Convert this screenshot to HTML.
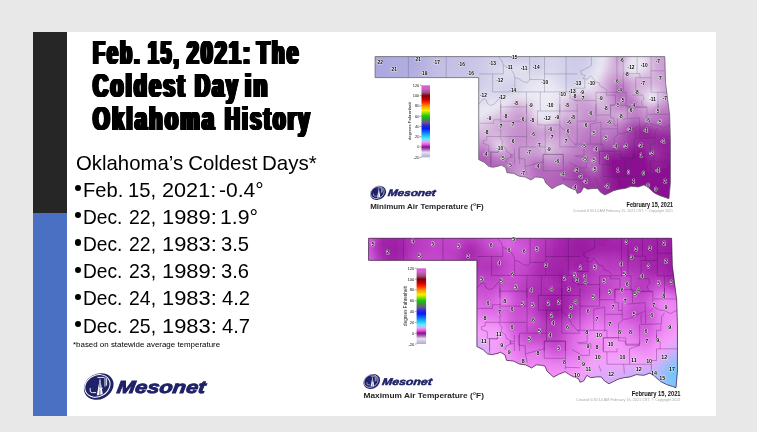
<!DOCTYPE html>
<html><head><meta charset="utf-8">
<style>
html,body{margin:0;padding:0;}
body{width:757px;height:432px;background:#e8e8e8;overflow:hidden;position:relative;font-family:"Liberation Sans",sans-serif;}
#slide{position:absolute;left:33px;top:32px;width:683px;height:384px;background:#fff;}
#bar1{position:absolute;left:33px;top:32px;width:34px;height:181px;background:#262626;}
#bar2{position:absolute;left:33px;top:213px;width:34px;height:203px;background:#4a70c4;}
.t{position:absolute;white-space:nowrap;transform-origin:0 0;line-height:1;color:#000;}
.title{font-weight:bold;font-size:33.4px;
 text-shadow:0.7px 0 0 #000,-0.7px 0 0 #000,1.4px 0 0 #000,-1.4px 0 0 #000,2.1px 0 0 #000,-2.1px 0 0 #000,2.75px 0 0 #000,-2.75px 0 0 #000,0 0.35px 0 #000,0 -0.35px 0 #000;letter-spacing:3.8px}
.body{font-size:20.4px;}
.fn{font-size:7.6px;}
#maps text{font-family:"Liberation Sans",sans-serif;}
.lb text{font-weight:bold;text-anchor:middle;fill:#000;stroke:#fff;stroke-width:0.7px;paint-order:stroke;stroke-linejoin:round;}
#misc text{font-family:"Liberation Sans",sans-serif;}

.bul{position:absolute;left:74.9px;width:6.2px;height:6.2px;border-radius:50%;background:#000}
</style></head><body>
<div id="slide"></div><div id="bar1"></div><div id="bar2"></div>
<div id="wrap" style="position:absolute;left:0;top:0;width:757px;height:432px;opacity:0.999">
<div class="t title" style="left:93.18px;top:36.20px;transform:scaleX(0.5817)">Feb.</div>
<div class="t title" style="left:147.87px;top:36.20px;transform:scaleX(0.5696)">15,</div>
<div class="t title" style="left:187.05px;top:36.20px;transform:scaleX(0.6265)">2021:</div>
<div class="t title" style="left:257.23px;top:36.20px;transform:scaleX(0.6169)">The</div>
<div class="t title" style="left:93.13px;top:68.90px;transform:scaleX(0.6295)">Coldest</div>
<div class="t title" style="left:194.62px;top:68.90px;transform:scaleX(0.6181)">Day</div>
<div class="t title" style="left:245.00px;top:68.90px;transform:scaleX(0.6647)">in</div>
<div class="t title" style="left:93.14px;top:101.60px;transform:scaleX(0.6432)">Oklahoma</div>
<div class="t title" style="left:225.21px;top:101.60px;transform:scaleX(0.6128)">History</div>
<div class="t body" style="left:75.90px;top:152.80px;transform:scaleX(0.9981)">Oklahoma’s</div>
<div class="t body" style="left:188.20px;top:152.80px;transform:scaleX(1.0000)">Coldest</div>
<div class="t body" style="left:261.99px;top:152.80px;transform:scaleX(1.0058)">Days*</div>
<div class="t body" style="left:82.53px;top:180.00px;transform:scaleX(0.9865)">Feb.</div>
<div class="t body" style="left:128.22px;top:180.00px;transform:scaleX(0.9920)">15,</div>
<div class="t body" style="left:161.94px;top:180.00px;transform:scaleX(1.0625)">2021:</div>
<div class="t body" style="left:218.97px;top:180.00px;transform:scaleX(1.0317)">-0.4°</div>
<div class="t body" style="left:82.62px;top:207.10px;transform:scaleX(0.9395)">Dec.</div>
<div class="t body" style="left:129.25px;top:207.10px;transform:scaleX(0.9538)">22,</div>
<div class="t body" style="left:162.15px;top:207.10px;transform:scaleX(1.0745)">1989:</div>
<div class="t body" style="left:220.32px;top:207.10px;transform:scaleX(1.0424)">1.9°</div>
<div class="t body" style="left:82.62px;top:234.20px;transform:scaleX(0.9395)">Dec.</div>
<div class="t body" style="left:129.25px;top:234.20px;transform:scaleX(0.9538)">22,</div>
<div class="t body" style="left:162.15px;top:234.20px;transform:scaleX(1.0745)">1983:</div>
<div class="t body" style="left:221.41px;top:234.20px;transform:scaleX(0.9889)">3.5</div>
<div class="t body" style="left:82.62px;top:261.30px;transform:scaleX(0.9395)">Dec.</div>
<div class="t body" style="left:129.25px;top:261.30px;transform:scaleX(0.9538)">23,</div>
<div class="t body" style="left:162.15px;top:261.30px;transform:scaleX(1.0745)">1989:</div>
<div class="t body" style="left:221.41px;top:261.30px;transform:scaleX(0.9889)">3.6</div>
<div class="t body" style="left:82.62px;top:288.40px;transform:scaleX(0.9395)">Dec.</div>
<div class="t body" style="left:129.25px;top:288.40px;transform:scaleX(0.9538)">24,</div>
<div class="t body" style="left:162.15px;top:288.40px;transform:scaleX(1.0745)">1983:</div>
<div class="t body" style="left:222.40px;top:288.40px;transform:scaleX(0.9889)">4.2</div>
<div class="t body" style="left:82.62px;top:315.50px;transform:scaleX(0.9395)">Dec.</div>
<div class="t body" style="left:129.25px;top:315.50px;transform:scaleX(0.9538)">25,</div>
<div class="t body" style="left:162.15px;top:315.50px;transform:scaleX(1.0745)">1983:</div>
<div class="t body" style="left:222.40px;top:315.50px;transform:scaleX(0.9889)">4.7</div>
<div class="t fn" style="left:72.96px;top:340.80px;transform:scaleX(1.0432)">*based on statewide average temperature</div>
<div class="bul" style="top:185.2px"></div><div class="bul" style="top:212.3px"></div><div class="bul" style="top:239.4px"></div><div class="bul" style="top:266.5px"></div><div class="bul" style="top:293.6px"></div><div class="bul" style="top:320.7px"></div>
<svg id="maps" width="757" height="432" viewBox="0 0 757 432" style="position:absolute;left:0;top:0"><defs><clipPath id="ok"><path d="M375.1,56.6 L664.8,56.6 L665.5,82.7 L669.7,115.3 L670.4,140.0 L670.4,183.0 L669.0,198.7 L665.9,197.7 L660.1,195.8 L654.3,192.9 L648.5,187.8 L644.1,184.9 L638.3,187.0 L631.0,186.3 L625.2,188.5 L619.4,189.2 L613.6,190.7 L609.2,192.9 L604.9,195.0 L600.5,192.2 L597.6,188.5 L593.3,188.5 L587.4,189.2 L583.8,187.0 L580.9,192.2 L577.3,193.6 L575.8,190.0 L571.7,188.7 L567.4,186.5 L563.0,183.6 L557.2,185.8 L552.0,188.7 L545.6,182.9 L544.0,178.5 L541.2,177.5 L535.4,177.0 L531.0,180.0 L525.2,177.0 L519.4,176.3 L513.6,173.4 L507.0,172.7 L505.6,167.6 L501.2,165.0 L499.0,165.9 L493.3,167.3 L488.9,166.6 L484.5,162.5 L478.7,159.6 L478.7,77.6 L375.1,77.6Z"/></clipPath><filter id="bl" x="-5%" y="-5%" width="110%" height="110%"><feGaussianBlur stdDeviation="2.6"/></filter><linearGradient id="cbg" x1="0" y1="0" x2="0" y2="1"><stop offset="0" stop-color="#e060dc"/><stop offset="0.05" stop-color="#d060c8"/><stop offset="0.1" stop-color="#a05080"/><stop offset="0.145" stop-color="#800008"/><stop offset="0.2" stop-color="#d00000"/><stop offset="0.235" stop-color="#ff2000"/><stop offset="0.285" stop-color="#ff9000"/><stop offset="0.35" stop-color="#f8f000"/><stop offset="0.39" stop-color="#80e000"/><stop offset="0.43" stop-color="#10c810"/><stop offset="0.48" stop-color="#508050"/><stop offset="0.52" stop-color="#605890"/><stop offset="0.56" stop-color="#2828e0"/><stop offset="0.6" stop-color="#0818f8"/><stop offset="0.66" stop-color="#1080f8"/><stop offset="0.71" stop-color="#20d0f8"/><stop offset="0.75" stop-color="#60f0f8"/><stop offset="0.785" stop-color="#f0a0f8"/><stop offset="0.82" stop-color="#e060e0"/><stop offset="0.857" stop-color="#8c0e92"/><stop offset="0.89" stop-color="#a860b0"/><stop offset="0.93" stop-color="#e6e4f0"/><stop offset="0.965" stop-color="#c8c4e4"/><stop offset="1" stop-color="#b0a8e0"/></linearGradient></defs><g clip-path="url(#ok)"><g filter="url(#bl)"><rect x="367.0" y="48.6" width="15.3" height="5.3" fill="#aaa6e0"/><rect x="382.0" y="48.6" width="10.3" height="5.3" fill="#aca8e0"/><rect x="392.0" y="48.6" width="20.3" height="5.3" fill="#aeaae0"/><rect x="412.0" y="48.6" width="5.3" height="5.3" fill="#b0ace0"/><rect x="417.0" y="48.6" width="5.3" height="5.3" fill="#b2aee0"/><rect x="422.0" y="48.6" width="5.3" height="5.3" fill="#b4b0e2"/><rect x="427.0" y="48.6" width="5.3" height="5.3" fill="#b8b4e2"/><rect x="432.0" y="48.6" width="5.3" height="5.3" fill="#bcb8e2"/><rect x="437.0" y="48.6" width="5.3" height="5.3" fill="#bebae4"/><rect x="442.0" y="48.6" width="10.3" height="5.3" fill="#c0bce4"/><rect x="452.0" y="48.6" width="5.3" height="5.3" fill="#c2bee4"/><rect x="457.0" y="48.6" width="5.3" height="5.3" fill="#c4c0e4"/><rect x="462.0" y="48.6" width="5.3" height="5.3" fill="#c4c0e6"/><rect x="467.0" y="48.6" width="5.3" height="5.3" fill="#c6c2e6"/><rect x="472.0" y="48.6" width="5.3" height="5.3" fill="#c8c4e6"/><rect x="477.0" y="48.6" width="5.3" height="5.3" fill="#c8c6e6"/><rect x="482.0" y="48.6" width="5.3" height="5.3" fill="#cac6e6"/><rect x="487.0" y="48.6" width="5.3" height="5.3" fill="#cac8e6"/><rect x="492.0" y="48.6" width="10.3" height="5.3" fill="#cac8e8"/><rect x="502.0" y="48.6" width="5.3" height="5.3" fill="#cac8e6"/><rect x="507.0" y="48.6" width="5.3" height="5.3" fill="#cac6e6"/><rect x="512.0" y="48.6" width="5.3" height="5.3" fill="#c8c6e6"/><rect x="517.0" y="48.6" width="5.3" height="5.3" fill="#cac6e6"/><rect x="522.0" y="48.6" width="5.3" height="5.3" fill="#cac8e6"/><rect x="527.0" y="48.6" width="10.3" height="5.3" fill="#cccae8"/><rect x="537.0" y="48.6" width="5.3" height="5.3" fill="#cecce8"/><rect x="542.0" y="48.6" width="5.3" height="5.3" fill="#d0cee8"/><rect x="547.0" y="48.6" width="10.3" height="5.3" fill="#d2d0ea"/><rect x="557.0" y="48.6" width="10.3" height="5.3" fill="#d0cee8"/><rect x="567.0" y="48.6" width="15.3" height="5.3" fill="#cecce8"/><rect x="582.0" y="48.6" width="5.3" height="5.3" fill="#d0cee8"/><rect x="587.0" y="48.6" width="5.3" height="5.3" fill="#d4d2ea"/><rect x="592.0" y="48.6" width="5.3" height="5.3" fill="#dadaee"/><rect x="597.0" y="48.6" width="5.3" height="5.3" fill="#e4e2f0"/><rect x="602.0" y="48.6" width="5.3" height="5.3" fill="#eceaf4"/><rect x="607.0" y="48.6" width="5.3" height="5.3" fill="#e2d2e8"/><rect x="612.0" y="48.6" width="5.3" height="5.3" fill="#dabee0"/><rect x="617.0" y="48.6" width="5.3" height="5.3" fill="#d6b2dc"/><rect x="622.0" y="48.6" width="5.3" height="5.3" fill="#d8b8de"/><rect x="627.0" y="48.6" width="5.3" height="5.3" fill="#dec6e4"/><rect x="632.0" y="48.6" width="5.3" height="5.3" fill="#e2d2ea"/><rect x="637.0" y="48.6" width="5.3" height="5.3" fill="#e4d4ea"/><rect x="642.0" y="48.6" width="5.3" height="5.3" fill="#e2cee8"/><rect x="647.0" y="48.6" width="5.3" height="5.3" fill="#dcc2e2"/><rect x="652.0" y="48.6" width="5.3" height="5.3" fill="#d6b4dc"/><rect x="657.0" y="48.6" width="5.3" height="5.3" fill="#d2aad8"/><rect x="662.0" y="48.6" width="5.3" height="5.3" fill="#cea4d6"/><rect x="667.0" y="48.6" width="5.3" height="5.3" fill="#cca0d4"/><rect x="367.0" y="53.6" width="15.3" height="5.3" fill="#aaa6e0"/><rect x="382.0" y="53.6" width="5.3" height="5.3" fill="#aca8e0"/><rect x="387.0" y="53.6" width="30.3" height="5.3" fill="#aeaae0"/><rect x="417.0" y="53.6" width="5.3" height="5.3" fill="#b0ace0"/><rect x="422.0" y="53.6" width="5.3" height="5.3" fill="#b4b0e2"/><rect x="427.0" y="53.6" width="5.3" height="5.3" fill="#bab6e2"/><rect x="432.0" y="53.6" width="5.3" height="5.3" fill="#bcb8e4"/><rect x="437.0" y="53.6" width="10.3" height="5.3" fill="#c0bce4"/><rect x="447.0" y="53.6" width="10.3" height="5.3" fill="#c2bee4"/><rect x="457.0" y="53.6" width="5.3" height="5.3" fill="#c4c0e6"/><rect x="462.0" y="53.6" width="10.3" height="5.3" fill="#c6c2e6"/><rect x="472.0" y="53.6" width="5.3" height="5.3" fill="#c8c4e6"/><rect x="477.0" y="53.6" width="5.3" height="5.3" fill="#cac6e6"/><rect x="482.0" y="53.6" width="5.3" height="5.3" fill="#cac8e8"/><rect x="487.0" y="53.6" width="5.3" height="5.3" fill="#cccae8"/><rect x="492.0" y="53.6" width="15.3" height="5.3" fill="#cecce8"/><rect x="507.0" y="53.6" width="5.3" height="5.3" fill="#ccc8e8"/><rect x="512.0" y="53.6" width="5.3" height="5.3" fill="#cac6e6"/><rect x="517.0" y="53.6" width="5.3" height="5.3" fill="#cccae8"/><rect x="522.0" y="53.6" width="20.3" height="5.3" fill="#cecce8"/><rect x="542.0" y="53.6" width="5.3" height="5.3" fill="#d2d0ea"/><rect x="547.0" y="53.6" width="5.3" height="5.3" fill="#d4d2ea"/><rect x="552.0" y="53.6" width="5.3" height="5.3" fill="#d4d4ea"/><rect x="557.0" y="53.6" width="5.3" height="5.3" fill="#d2d0ea"/><rect x="562.0" y="53.6" width="5.3" height="5.3" fill="#d0cee8"/><rect x="567.0" y="53.6" width="5.3" height="5.3" fill="#cecce8"/><rect x="572.0" y="53.6" width="10.3" height="5.3" fill="#cccae8"/><rect x="582.0" y="53.6" width="5.3" height="5.3" fill="#cecce8"/><rect x="587.0" y="53.6" width="5.3" height="5.3" fill="#d4d2ea"/><rect x="592.0" y="53.6" width="5.3" height="5.3" fill="#dadaec"/><rect x="597.0" y="53.6" width="5.3" height="5.3" fill="#e4e2f2"/><rect x="602.0" y="53.6" width="5.3" height="5.3" fill="#eae4f2"/><rect x="607.0" y="53.6" width="5.3" height="5.3" fill="#decae4"/><rect x="612.0" y="53.6" width="5.3" height="5.3" fill="#d4b0da"/><rect x="617.0" y="53.6" width="5.3" height="5.3" fill="#cc9ed4"/><rect x="622.0" y="53.6" width="5.3" height="5.3" fill="#d2aeda"/><rect x="627.0" y="53.6" width="5.3" height="5.3" fill="#e0cee6"/><rect x="632.0" y="53.6" width="10.3" height="5.3" fill="#e8e0f0"/><rect x="642.0" y="53.6" width="5.3" height="5.3" fill="#e4d6ea"/><rect x="647.0" y="53.6" width="5.3" height="5.3" fill="#dcc4e2"/><rect x="652.0" y="53.6" width="5.3" height="5.3" fill="#d4b2dc"/><rect x="657.0" y="53.6" width="5.3" height="5.3" fill="#cea4d6"/><rect x="662.0" y="53.6" width="5.3" height="5.3" fill="#cc9ed4"/><rect x="667.0" y="53.6" width="5.3" height="5.3" fill="#ca9ad2"/><rect x="367.0" y="58.6" width="5.3" height="5.3" fill="#a8a4e0"/><rect x="372.0" y="58.6" width="10.3" height="5.3" fill="#aaa6e0"/><rect x="382.0" y="58.6" width="5.3" height="5.3" fill="#aca8e0"/><rect x="387.0" y="58.6" width="30.3" height="5.3" fill="#aeaae0"/><rect x="417.0" y="58.6" width="5.3" height="5.3" fill="#b2aee0"/><rect x="422.0" y="58.6" width="5.3" height="5.3" fill="#b6b2e2"/><rect x="427.0" y="58.6" width="5.3" height="5.3" fill="#bab6e2"/><rect x="432.0" y="58.6" width="5.3" height="5.3" fill="#c0bce4"/><rect x="437.0" y="58.6" width="15.3" height="5.3" fill="#c2bee4"/><rect x="452.0" y="58.6" width="10.3" height="5.3" fill="#c4c0e6"/><rect x="462.0" y="58.6" width="5.3" height="5.3" fill="#c6c2e6"/><rect x="467.0" y="58.6" width="5.3" height="5.3" fill="#c8c4e6"/><rect x="472.0" y="58.6" width="5.3" height="5.3" fill="#c8c6e6"/><rect x="477.0" y="58.6" width="5.3" height="5.3" fill="#cac8e6"/><rect x="482.0" y="58.6" width="5.3" height="5.3" fill="#cccae8"/><rect x="487.0" y="58.6" width="5.3" height="5.3" fill="#d0cee8"/><rect x="492.0" y="58.6" width="10.3" height="5.3" fill="#d2d0ea"/><rect x="502.0" y="58.6" width="10.3" height="5.3" fill="#d4d2ea"/><rect x="512.0" y="58.6" width="15.3" height="5.3" fill="#d2d0ea"/><rect x="527.0" y="58.6" width="5.3" height="5.3" fill="#d0cee8"/><rect x="532.0" y="58.6" width="5.3" height="5.3" fill="#cecce8"/><rect x="537.0" y="58.6" width="5.3" height="5.3" fill="#d0cee8"/><rect x="542.0" y="58.6" width="5.3" height="5.3" fill="#d4d2ea"/><rect x="547.0" y="58.6" width="10.3" height="5.3" fill="#d8d6ec"/><rect x="557.0" y="58.6" width="5.3" height="5.3" fill="#d4d2ea"/><rect x="562.0" y="58.6" width="5.3" height="5.3" fill="#d0cee8"/><rect x="567.0" y="58.6" width="5.3" height="5.3" fill="#cecce8"/><rect x="572.0" y="58.6" width="15.3" height="5.3" fill="#cccae8"/><rect x="587.0" y="58.6" width="5.3" height="5.3" fill="#d2d0ea"/><rect x="592.0" y="58.6" width="5.3" height="5.3" fill="#dcdaee"/><rect x="597.0" y="58.6" width="5.3" height="5.3" fill="#e6e4f2"/><rect x="602.0" y="58.6" width="5.3" height="5.3" fill="#e8e0f0"/><rect x="607.0" y="58.6" width="5.3" height="5.3" fill="#dec4e4"/><rect x="612.0" y="58.6" width="5.3" height="5.3" fill="#d2acda"/><rect x="617.0" y="58.6" width="5.3" height="5.3" fill="#ca9ad2"/><rect x="622.0" y="58.6" width="5.3" height="5.3" fill="#d6b4dc"/><rect x="627.0" y="58.6" width="5.3" height="5.3" fill="#eae6f2"/><rect x="632.0" y="58.6" width="5.3" height="5.3" fill="#e8e6f2"/><rect x="637.0" y="58.6" width="5.3" height="5.3" fill="#eae8f4"/><rect x="642.0" y="58.6" width="5.3" height="5.3" fill="#e8e0f0"/><rect x="647.0" y="58.6" width="5.3" height="5.3" fill="#dec8e4"/><rect x="652.0" y="58.6" width="5.3" height="5.3" fill="#d4aeda"/><rect x="657.0" y="58.6" width="5.3" height="5.3" fill="#cca0d4"/><rect x="662.0" y="58.6" width="5.3" height="5.3" fill="#cc9cd4"/><rect x="667.0" y="58.6" width="5.3" height="5.3" fill="#ca98d2"/><rect x="367.0" y="63.6" width="5.3" height="5.3" fill="#a8a4e0"/><rect x="372.0" y="63.6" width="10.3" height="5.3" fill="#aaa6e0"/><rect x="382.0" y="63.6" width="5.3" height="5.3" fill="#aca8e0"/><rect x="387.0" y="63.6" width="20.3" height="5.3" fill="#aeaae0"/><rect x="407.0" y="63.6" width="10.3" height="5.3" fill="#b0ace0"/><rect x="417.0" y="63.6" width="5.3" height="5.3" fill="#b4b0e0"/><rect x="422.0" y="63.6" width="5.3" height="5.3" fill="#b6b2e2"/><rect x="427.0" y="63.6" width="5.3" height="5.3" fill="#bcb8e2"/><rect x="432.0" y="63.6" width="5.3" height="5.3" fill="#c0bce4"/><rect x="437.0" y="63.6" width="10.3" height="5.3" fill="#c2bee4"/><rect x="447.0" y="63.6" width="5.3" height="5.3" fill="#c4c0e4"/><rect x="452.0" y="63.6" width="5.3" height="5.3" fill="#c4c0e6"/><rect x="457.0" y="63.6" width="10.3" height="5.3" fill="#c6c2e6"/><rect x="467.0" y="63.6" width="5.3" height="5.3" fill="#c6c4e6"/><rect x="472.0" y="63.6" width="5.3" height="5.3" fill="#cac6e6"/><rect x="477.0" y="63.6" width="5.3" height="5.3" fill="#ccc8e8"/><rect x="482.0" y="63.6" width="5.3" height="5.3" fill="#cecce8"/><rect x="487.0" y="63.6" width="5.3" height="5.3" fill="#d2d0ea"/><rect x="492.0" y="63.6" width="5.3" height="5.3" fill="#d4d4ea"/><rect x="497.0" y="63.6" width="5.3" height="5.3" fill="#d8d6ec"/><rect x="502.0" y="63.6" width="5.3" height="5.3" fill="#dcdaee"/><rect x="507.0" y="63.6" width="5.3" height="5.3" fill="#e0def0"/><rect x="512.0" y="63.6" width="5.3" height="5.3" fill="#dcdaee"/><rect x="517.0" y="63.6" width="10.3" height="5.3" fill="#dcdcee"/><rect x="527.0" y="63.6" width="5.3" height="5.3" fill="#d4d4ea"/><rect x="532.0" y="63.6" width="5.3" height="5.3" fill="#cecce8"/><rect x="537.0" y="63.6" width="5.3" height="5.3" fill="#d0cee8"/><rect x="542.0" y="63.6" width="5.3" height="5.3" fill="#d4d4ea"/><rect x="547.0" y="63.6" width="10.3" height="5.3" fill="#d8d6ec"/><rect x="557.0" y="63.6" width="5.3" height="5.3" fill="#d4d4ea"/><rect x="562.0" y="63.6" width="5.3" height="5.3" fill="#d2d0ea"/><rect x="567.0" y="63.6" width="15.3" height="5.3" fill="#cecce8"/><rect x="582.0" y="63.6" width="5.3" height="5.3" fill="#d0cee8"/><rect x="587.0" y="63.6" width="5.3" height="5.3" fill="#d6d4ea"/><rect x="592.0" y="63.6" width="5.3" height="5.3" fill="#dedcee"/><rect x="597.0" y="63.6" width="5.3" height="5.3" fill="#e8e6f2"/><rect x="602.0" y="63.6" width="5.3" height="5.3" fill="#e6dcee"/><rect x="607.0" y="63.6" width="5.3" height="5.3" fill="#dcc2e2"/><rect x="612.0" y="63.6" width="5.3" height="5.3" fill="#d4b0da"/><rect x="617.0" y="63.6" width="5.3" height="5.3" fill="#d2aeda"/><rect x="622.0" y="63.6" width="5.3" height="5.3" fill="#e0cce6"/><rect x="627.0" y="63.6" width="5.3" height="5.3" fill="#e0e0f0"/><rect x="632.0" y="63.6" width="5.3" height="5.3" fill="#e2e0f0"/><rect x="637.0" y="63.6" width="5.3" height="5.3" fill="#e8e8f2"/><rect x="642.0" y="63.6" width="5.3" height="5.3" fill="#eae4f2"/><rect x="647.0" y="63.6" width="5.3" height="5.3" fill="#dec8e4"/><rect x="652.0" y="63.6" width="5.3" height="5.3" fill="#d4b0da"/><rect x="657.0" y="63.6" width="5.3" height="5.3" fill="#cea2d6"/><rect x="662.0" y="63.6" width="5.3" height="5.3" fill="#ca9cd2"/><rect x="667.0" y="63.6" width="5.3" height="5.3" fill="#c896d0"/><rect x="367.0" y="68.6" width="15.3" height="5.3" fill="#aaa6e0"/><rect x="382.0" y="68.6" width="5.3" height="5.3" fill="#aca8e0"/><rect x="387.0" y="68.6" width="15.3" height="5.3" fill="#aeaae0"/><rect x="402.0" y="68.6" width="10.3" height="5.3" fill="#b0ace0"/><rect x="412.0" y="68.6" width="5.3" height="5.3" fill="#b2aee0"/><rect x="417.0" y="68.6" width="5.3" height="5.3" fill="#b4b0e2"/><rect x="422.0" y="68.6" width="5.3" height="5.3" fill="#b8b4e2"/><rect x="427.0" y="68.6" width="5.3" height="5.3" fill="#bcb8e2"/><rect x="432.0" y="68.6" width="5.3" height="5.3" fill="#bebae4"/><rect x="437.0" y="68.6" width="5.3" height="5.3" fill="#c2bee4"/><rect x="442.0" y="68.6" width="5.3" height="5.3" fill="#c4c0e4"/><rect x="447.0" y="68.6" width="5.3" height="5.3" fill="#c4c0e6"/><rect x="452.0" y="68.6" width="20.3" height="5.3" fill="#c6c2e6"/><rect x="472.0" y="68.6" width="5.3" height="5.3" fill="#c8c6e6"/><rect x="477.0" y="68.6" width="5.3" height="5.3" fill="#cccae8"/><rect x="482.0" y="68.6" width="5.3" height="5.3" fill="#cecce8"/><rect x="487.0" y="68.6" width="5.3" height="5.3" fill="#d2d0ea"/><rect x="492.0" y="68.6" width="5.3" height="5.3" fill="#d6d4ec"/><rect x="497.0" y="68.6" width="5.3" height="5.3" fill="#dad8ec"/><rect x="502.0" y="68.6" width="5.3" height="5.3" fill="#dedcee"/><rect x="507.0" y="68.6" width="5.3" height="5.3" fill="#e0e0f0"/><rect x="512.0" y="68.6" width="5.3" height="5.3" fill="#e0def0"/><rect x="517.0" y="68.6" width="5.3" height="5.3" fill="#e0e0f0"/><rect x="522.0" y="68.6" width="5.3" height="5.3" fill="#e0def0"/><rect x="527.0" y="68.6" width="5.3" height="5.3" fill="#dad8ec"/><rect x="532.0" y="68.6" width="10.3" height="5.3" fill="#d6d4ea"/><rect x="542.0" y="68.6" width="5.3" height="5.3" fill="#d8d8ec"/><rect x="547.0" y="68.6" width="5.3" height="5.3" fill="#dadaec"/><rect x="552.0" y="68.6" width="5.3" height="5.3" fill="#dad8ec"/><rect x="557.0" y="68.6" width="5.3" height="5.3" fill="#d6d4ec"/><rect x="562.0" y="68.6" width="5.3" height="5.3" fill="#d2d0ea"/><rect x="567.0" y="68.6" width="5.3" height="5.3" fill="#d0cee8"/><rect x="572.0" y="68.6" width="5.3" height="5.3" fill="#cecce8"/><rect x="577.0" y="68.6" width="5.3" height="5.3" fill="#d0cee8"/><rect x="582.0" y="68.6" width="5.3" height="5.3" fill="#d4d2ea"/><rect x="587.0" y="68.6" width="5.3" height="5.3" fill="#dad8ec"/><rect x="592.0" y="68.6" width="5.3" height="5.3" fill="#e2e0f0"/><rect x="597.0" y="68.6" width="5.3" height="5.3" fill="#eceaf4"/><rect x="602.0" y="68.6" width="5.3" height="5.3" fill="#e2d2e8"/><rect x="607.0" y="68.6" width="5.3" height="5.3" fill="#d8bade"/><rect x="612.0" y="68.6" width="5.3" height="5.3" fill="#d2acda"/><rect x="617.0" y="68.6" width="5.3" height="5.3" fill="#d2aeda"/><rect x="622.0" y="68.6" width="5.3" height="5.3" fill="#dcc2e2"/><rect x="627.0" y="68.6" width="5.3" height="5.3" fill="#eae6f2"/><rect x="632.0" y="68.6" width="5.3" height="5.3" fill="#eaeaf4"/><rect x="637.0" y="68.6" width="5.3" height="5.3" fill="#e8e2f0"/><rect x="642.0" y="68.6" width="5.3" height="5.3" fill="#e2d2ea"/><rect x="647.0" y="68.6" width="5.3" height="5.3" fill="#dcc0e2"/><rect x="652.0" y="68.6" width="5.3" height="5.3" fill="#d4b0da"/><rect x="657.0" y="68.6" width="5.3" height="5.3" fill="#cea2d6"/><rect x="662.0" y="68.6" width="5.3" height="5.3" fill="#ca9cd2"/><rect x="667.0" y="68.6" width="5.3" height="5.3" fill="#c896d0"/><rect x="367.0" y="73.6" width="15.3" height="5.3" fill="#aaa6e0"/><rect x="382.0" y="73.6" width="5.3" height="5.3" fill="#aca8e0"/><rect x="387.0" y="73.6" width="10.3" height="5.3" fill="#aeaae0"/><rect x="397.0" y="73.6" width="10.3" height="5.3" fill="#b0ace0"/><rect x="407.0" y="73.6" width="5.3" height="5.3" fill="#b2aee0"/><rect x="412.0" y="73.6" width="5.3" height="5.3" fill="#b4b0e2"/><rect x="417.0" y="73.6" width="5.3" height="5.3" fill="#b6b2e2"/><rect x="422.0" y="73.6" width="5.3" height="5.3" fill="#bab6e2"/><rect x="427.0" y="73.6" width="5.3" height="5.3" fill="#bcb8e2"/><rect x="432.0" y="73.6" width="5.3" height="5.3" fill="#c0bce4"/><rect x="437.0" y="73.6" width="5.3" height="5.3" fill="#c2bee4"/><rect x="442.0" y="73.6" width="5.3" height="5.3" fill="#c4c0e4"/><rect x="447.0" y="73.6" width="20.3" height="5.3" fill="#c6c2e6"/><rect x="467.0" y="73.6" width="5.3" height="5.3" fill="#c8c4e6"/><rect x="472.0" y="73.6" width="5.3" height="5.3" fill="#cac6e6"/><rect x="477.0" y="73.6" width="5.3" height="5.3" fill="#cccae8"/><rect x="482.0" y="73.6" width="5.3" height="5.3" fill="#d0cee8"/><rect x="487.0" y="73.6" width="5.3" height="5.3" fill="#d4d2ea"/><rect x="492.0" y="73.6" width="5.3" height="5.3" fill="#d6d6ec"/><rect x="497.0" y="73.6" width="5.3" height="5.3" fill="#dad8ec"/><rect x="502.0" y="73.6" width="10.3" height="5.3" fill="#dcdaee"/><rect x="512.0" y="73.6" width="5.3" height="5.3" fill="#dcdcee"/><rect x="517.0" y="73.6" width="5.3" height="5.3" fill="#dedcee"/><rect x="522.0" y="73.6" width="5.3" height="5.3" fill="#dedeee"/><rect x="527.0" y="73.6" width="5.3" height="5.3" fill="#dedcee"/><rect x="532.0" y="73.6" width="5.3" height="5.3" fill="#dcdcee"/><rect x="537.0" y="73.6" width="5.3" height="5.3" fill="#dedeee"/><rect x="542.0" y="73.6" width="5.3" height="5.3" fill="#e0e0f0"/><rect x="547.0" y="73.6" width="5.3" height="5.3" fill="#e0def0"/><rect x="552.0" y="73.6" width="5.3" height="5.3" fill="#dcdcee"/><rect x="557.0" y="73.6" width="5.3" height="5.3" fill="#d8d6ec"/><rect x="562.0" y="73.6" width="5.3" height="5.3" fill="#d4d2ea"/><rect x="567.0" y="73.6" width="10.3" height="5.3" fill="#d0cee8"/><rect x="577.0" y="73.6" width="5.3" height="5.3" fill="#d2d0ea"/><rect x="582.0" y="73.6" width="5.3" height="5.3" fill="#d8d6ec"/><rect x="587.0" y="73.6" width="5.3" height="5.3" fill="#dedeee"/><rect x="592.0" y="73.6" width="5.3" height="5.3" fill="#e8e6f2"/><rect x="597.0" y="73.6" width="5.3" height="5.3" fill="#e8deee"/><rect x="602.0" y="73.6" width="5.3" height="5.3" fill="#dec6e4"/><rect x="607.0" y="73.6" width="5.3" height="5.3" fill="#d4aeda"/><rect x="612.0" y="73.6" width="5.3" height="5.3" fill="#cca0d4"/><rect x="617.0" y="73.6" width="5.3" height="5.3" fill="#cc9ed4"/><rect x="622.0" y="73.6" width="5.3" height="5.3" fill="#d2aad8"/><rect x="627.0" y="73.6" width="5.3" height="5.3" fill="#dabee0"/><rect x="632.0" y="73.6" width="5.3" height="5.3" fill="#decae4"/><rect x="637.0" y="73.6" width="5.3" height="5.3" fill="#dec4e4"/><rect x="642.0" y="73.6" width="5.3" height="5.3" fill="#dabce0"/><rect x="647.0" y="73.6" width="5.3" height="5.3" fill="#d6b6dc"/><rect x="652.0" y="73.6" width="5.3" height="5.3" fill="#d2acda"/><rect x="657.0" y="73.6" width="5.3" height="5.3" fill="#cea2d6"/><rect x="662.0" y="73.6" width="5.3" height="5.3" fill="#cc9cd4"/><rect x="667.0" y="73.6" width="5.3" height="5.3" fill="#c896d0"/><rect x="367.0" y="78.6" width="15.3" height="5.3" fill="#aca8e0"/><rect x="382.0" y="78.6" width="10.3" height="5.3" fill="#aeaae0"/><rect x="392.0" y="78.6" width="10.3" height="5.3" fill="#b0ace0"/><rect x="402.0" y="78.6" width="5.3" height="5.3" fill="#b2aee0"/><rect x="407.0" y="78.6" width="5.3" height="5.3" fill="#b4b0e2"/><rect x="412.0" y="78.6" width="5.3" height="5.3" fill="#b6b2e2"/><rect x="417.0" y="78.6" width="5.3" height="5.3" fill="#b8b4e2"/><rect x="422.0" y="78.6" width="5.3" height="5.3" fill="#bcb8e2"/><rect x="427.0" y="78.6" width="5.3" height="5.3" fill="#bebae4"/><rect x="432.0" y="78.6" width="5.3" height="5.3" fill="#c0bce4"/><rect x="437.0" y="78.6" width="5.3" height="5.3" fill="#c2bee4"/><rect x="442.0" y="78.6" width="5.3" height="5.3" fill="#c4c0e6"/><rect x="447.0" y="78.6" width="5.3" height="5.3" fill="#c6c2e6"/><rect x="452.0" y="78.6" width="5.3" height="5.3" fill="#c6c4e6"/><rect x="457.0" y="78.6" width="5.3" height="5.3" fill="#c8c4e6"/><rect x="462.0" y="78.6" width="5.3" height="5.3" fill="#c8c6e6"/><rect x="467.0" y="78.6" width="5.3" height="5.3" fill="#cac6e6"/><rect x="472.0" y="78.6" width="5.3" height="5.3" fill="#ccc8e8"/><rect x="477.0" y="78.6" width="5.3" height="5.3" fill="#cecce8"/><rect x="482.0" y="78.6" width="5.3" height="5.3" fill="#d2d0ea"/><rect x="487.0" y="78.6" width="5.3" height="5.3" fill="#d4d2ea"/><rect x="492.0" y="78.6" width="5.3" height="5.3" fill="#d6d6ec"/><rect x="497.0" y="78.6" width="5.3" height="5.3" fill="#d8d8ec"/><rect x="502.0" y="78.6" width="5.3" height="5.3" fill="#d8d6ec"/><rect x="507.0" y="78.6" width="5.3" height="5.3" fill="#d6d4ec"/><rect x="512.0" y="78.6" width="5.3" height="5.3" fill="#d8d6ec"/><rect x="517.0" y="78.6" width="5.3" height="5.3" fill="#dadaec"/><rect x="522.0" y="78.6" width="5.3" height="5.3" fill="#dedeee"/><rect x="527.0" y="78.6" width="5.3" height="5.3" fill="#e0e0f0"/><rect x="532.0" y="78.6" width="5.3" height="5.3" fill="#e2e2f0"/><rect x="537.0" y="78.6" width="5.3" height="5.3" fill="#e6e4f2"/><rect x="542.0" y="78.6" width="5.3" height="5.3" fill="#eae8f4"/><rect x="547.0" y="78.6" width="5.3" height="5.3" fill="#e6e4f2"/><rect x="552.0" y="78.6" width="5.3" height="5.3" fill="#e0e0f0"/><rect x="557.0" y="78.6" width="5.3" height="5.3" fill="#dadaee"/><rect x="562.0" y="78.6" width="5.3" height="5.3" fill="#d6d4ea"/><rect x="567.0" y="78.6" width="5.3" height="5.3" fill="#d2d0ea"/><rect x="572.0" y="78.6" width="5.3" height="5.3" fill="#d0cee8"/><rect x="577.0" y="78.6" width="5.3" height="5.3" fill="#d4d4ea"/><rect x="582.0" y="78.6" width="5.3" height="5.3" fill="#dcdcee"/><rect x="587.0" y="78.6" width="5.3" height="5.3" fill="#e6e4f2"/><rect x="592.0" y="78.6" width="5.3" height="5.3" fill="#eae6f2"/><rect x="597.0" y="78.6" width="5.3" height="5.3" fill="#e2d2e8"/><rect x="602.0" y="78.6" width="5.3" height="5.3" fill="#d8b8de"/><rect x="607.0" y="78.6" width="5.3" height="5.3" fill="#cea2d6"/><rect x="612.0" y="78.6" width="5.3" height="5.3" fill="#c68ece"/><rect x="617.0" y="78.6" width="5.3" height="5.3" fill="#c48acc"/><rect x="622.0" y="78.6" width="5.3" height="5.3" fill="#c894d0"/><rect x="627.0" y="78.6" width="5.3" height="5.3" fill="#d0a6d6"/><rect x="632.0" y="78.6" width="5.3" height="5.3" fill="#d4b0da"/><rect x="637.0" y="78.6" width="5.3" height="5.3" fill="#d2aeda"/><rect x="642.0" y="78.6" width="5.3" height="5.3" fill="#d2acda"/><rect x="647.0" y="78.6" width="5.3" height="5.3" fill="#d6b2dc"/><rect x="652.0" y="78.6" width="5.3" height="5.3" fill="#d4b0da"/><rect x="657.0" y="78.6" width="5.3" height="5.3" fill="#d0a6d8"/><rect x="662.0" y="78.6" width="5.3" height="5.3" fill="#cca0d4"/><rect x="667.0" y="78.6" width="5.3" height="5.3" fill="#ca98d2"/><rect x="472.0" y="83.6" width="5.3" height="5.3" fill="#cecce8"/><rect x="477.0" y="83.6" width="5.3" height="5.3" fill="#d0cee8"/><rect x="482.0" y="83.6" width="5.3" height="5.3" fill="#d4d2ea"/><rect x="487.0" y="83.6" width="5.3" height="5.3" fill="#d6d4ea"/><rect x="492.0" y="83.6" width="5.3" height="5.3" fill="#d6d6ec"/><rect x="497.0" y="83.6" width="5.3" height="5.3" fill="#d6d4ec"/><rect x="502.0" y="83.6" width="5.3" height="5.3" fill="#d4d2ea"/><rect x="507.0" y="83.6" width="10.3" height="5.3" fill="#d2d0ea"/><rect x="517.0" y="83.6" width="5.3" height="5.3" fill="#d8d8ec"/><rect x="522.0" y="83.6" width="5.3" height="5.3" fill="#dedeee"/><rect x="527.0" y="83.6" width="5.3" height="5.3" fill="#e4e2f0"/><rect x="532.0" y="83.6" width="5.3" height="5.3" fill="#e6e6f2"/><rect x="537.0" y="83.6" width="5.3" height="5.3" fill="#eae8f4"/><rect x="542.0" y="83.6" width="5.3" height="5.3" fill="#eceaf4"/><rect x="547.0" y="83.6" width="5.3" height="5.3" fill="#e8e8f4"/><rect x="552.0" y="83.6" width="5.3" height="5.3" fill="#e4e4f2"/><rect x="557.0" y="83.6" width="5.3" height="5.3" fill="#e0def0"/><rect x="562.0" y="83.6" width="5.3" height="5.3" fill="#d8d8ec"/><rect x="567.0" y="83.6" width="10.3" height="5.3" fill="#d4d2ea"/><rect x="577.0" y="83.6" width="5.3" height="5.3" fill="#dcdcee"/><rect x="582.0" y="83.6" width="5.3" height="5.3" fill="#e6e6f2"/><rect x="587.0" y="83.6" width="5.3" height="5.3" fill="#eae6f2"/><rect x="592.0" y="83.6" width="5.3" height="5.3" fill="#e6d8ec"/><rect x="597.0" y="83.6" width="5.3" height="5.3" fill="#dec8e4"/><rect x="602.0" y="83.6" width="5.3" height="5.3" fill="#d6b2dc"/><rect x="607.0" y="83.6" width="5.3" height="5.3" fill="#ca9ad2"/><rect x="612.0" y="83.6" width="5.3" height="5.3" fill="#c080c8"/><rect x="617.0" y="83.6" width="5.3" height="5.3" fill="#b872c0"/><rect x="622.0" y="83.6" width="5.3" height="5.3" fill="#c080c8"/><rect x="627.0" y="83.6" width="5.3" height="5.3" fill="#ca96d2"/><rect x="632.0" y="83.6" width="5.3" height="5.3" fill="#d0a8d8"/><rect x="637.0" y="83.6" width="5.3" height="5.3" fill="#d4aeda"/><rect x="642.0" y="83.6" width="5.3" height="5.3" fill="#d6b2dc"/><rect x="647.0" y="83.6" width="10.3" height="5.3" fill="#dabce0"/><rect x="657.0" y="83.6" width="5.3" height="5.3" fill="#d4b2dc"/><rect x="662.0" y="83.6" width="5.3" height="5.3" fill="#d0a6d6"/><rect x="667.0" y="83.6" width="5.3" height="5.3" fill="#ca9ad2"/><rect x="672.0" y="83.6" width="5.3" height="5.3" fill="#c690ce"/><rect x="472.0" y="88.6" width="5.3" height="5.3" fill="#d2d0ea"/><rect x="477.0" y="88.6" width="5.3" height="5.3" fill="#d4d2ea"/><rect x="482.0" y="88.6" width="5.3" height="5.3" fill="#d6d6ec"/><rect x="487.0" y="88.6" width="10.3" height="5.3" fill="#d8d6ec"/><rect x="497.0" y="88.6" width="5.3" height="5.3" fill="#d6d6ec"/><rect x="502.0" y="88.6" width="5.3" height="5.3" fill="#d4d2ea"/><rect x="507.0" y="88.6" width="10.3" height="5.3" fill="#d2d0ea"/><rect x="517.0" y="88.6" width="5.3" height="5.3" fill="#dcdaee"/><rect x="522.0" y="88.6" width="5.3" height="5.3" fill="#e2e2f0"/><rect x="527.0" y="88.6" width="5.3" height="5.3" fill="#e6e6f2"/><rect x="532.0" y="88.6" width="5.3" height="5.3" fill="#eae8f4"/><rect x="537.0" y="88.6" width="5.3" height="5.3" fill="#eaeaf4"/><rect x="542.0" y="88.6" width="5.3" height="5.3" fill="#eceaf4"/><rect x="547.0" y="88.6" width="5.3" height="5.3" fill="#eaeaf4"/><rect x="552.0" y="88.6" width="5.3" height="5.3" fill="#eae8f4"/><rect x="557.0" y="88.6" width="5.3" height="5.3" fill="#e8e6f2"/><rect x="562.0" y="88.6" width="5.3" height="5.3" fill="#e2e0f0"/><rect x="567.0" y="88.6" width="5.3" height="5.3" fill="#d8d6ec"/><rect x="572.0" y="88.6" width="5.3" height="5.3" fill="#dedeee"/><rect x="577.0" y="88.6" width="5.3" height="5.3" fill="#eae6f2"/><rect x="582.0" y="88.6" width="5.3" height="5.3" fill="#e4d6ea"/><rect x="587.0" y="88.6" width="5.3" height="5.3" fill="#e2d2e8"/><rect x="592.0" y="88.6" width="5.3" height="5.3" fill="#e2d0e8"/><rect x="597.0" y="88.6" width="5.3" height="5.3" fill="#dec8e4"/><rect x="602.0" y="88.6" width="5.3" height="5.3" fill="#d4b2dc"/><rect x="607.0" y="88.6" width="5.3" height="5.3" fill="#ca96d2"/><rect x="612.0" y="88.6" width="5.3" height="5.3" fill="#bc78c4"/><rect x="617.0" y="88.6" width="5.3" height="5.3" fill="#b262ba"/><rect x="622.0" y="88.6" width="5.3" height="5.3" fill="#ba74c2"/><rect x="627.0" y="88.6" width="5.3" height="5.3" fill="#c68ece"/><rect x="632.0" y="88.6" width="5.3" height="5.3" fill="#d2acda"/><rect x="637.0" y="88.6" width="5.3" height="5.3" fill="#d8bade"/><rect x="642.0" y="88.6" width="5.3" height="5.3" fill="#dcc4e2"/><rect x="647.0" y="88.6" width="5.3" height="5.3" fill="#e2d2e8"/><rect x="652.0" y="88.6" width="5.3" height="5.3" fill="#e2d0e8"/><rect x="657.0" y="88.6" width="5.3" height="5.3" fill="#dabce0"/><rect x="662.0" y="88.6" width="5.3" height="5.3" fill="#d0a8d8"/><rect x="667.0" y="88.6" width="5.3" height="5.3" fill="#ca9ad2"/><rect x="672.0" y="88.6" width="5.3" height="5.3" fill="#c68ece"/><rect x="472.0" y="93.6" width="5.3" height="5.3" fill="#d6d4ea"/><rect x="477.0" y="93.6" width="5.3" height="5.3" fill="#d8d8ec"/><rect x="482.0" y="93.6" width="5.3" height="5.3" fill="#dadaee"/><rect x="487.0" y="93.6" width="10.3" height="5.3" fill="#dcdaee"/><rect x="497.0" y="93.6" width="10.3" height="5.3" fill="#dad8ec"/><rect x="507.0" y="93.6" width="5.3" height="5.3" fill="#dcdcee"/><rect x="512.0" y="93.6" width="5.3" height="5.3" fill="#e2e0f0"/><rect x="517.0" y="93.6" width="5.3" height="5.3" fill="#e8e6f2"/><rect x="522.0" y="93.6" width="5.3" height="5.3" fill="#eaeaf4"/><rect x="527.0" y="93.6" width="25.3" height="5.3" fill="#eceaf4"/><rect x="552.0" y="93.6" width="5.3" height="5.3" fill="#eae8f2"/><rect x="557.0" y="93.6" width="5.3" height="5.3" fill="#e8e4f2"/><rect x="562.0" y="93.6" width="5.3" height="5.3" fill="#eae4f2"/><rect x="567.0" y="93.6" width="5.3" height="5.3" fill="#e8e0f0"/><rect x="572.0" y="93.6" width="5.3" height="5.3" fill="#d8b6de"/><rect x="577.0" y="93.6" width="5.3" height="5.3" fill="#d6b4dc"/><rect x="582.0" y="93.6" width="5.3" height="5.3" fill="#d6b2dc"/><rect x="587.0" y="93.6" width="5.3" height="5.3" fill="#dabce0"/><rect x="592.0" y="93.6" width="5.3" height="5.3" fill="#dec6e4"/><rect x="597.0" y="93.6" width="5.3" height="5.3" fill="#e2cee8"/><rect x="602.0" y="93.6" width="5.3" height="5.3" fill="#d6b6dc"/><rect x="607.0" y="93.6" width="5.3" height="5.3" fill="#ca9ad2"/><rect x="612.0" y="93.6" width="5.3" height="5.3" fill="#be7ec6"/><rect x="617.0" y="93.6" width="5.3" height="5.3" fill="#b66ebe"/><rect x="622.0" y="93.6" width="5.3" height="5.3" fill="#b872c0"/><rect x="627.0" y="93.6" width="5.3" height="5.3" fill="#c082c8"/><rect x="632.0" y="93.6" width="5.3" height="5.3" fill="#ca9ad2"/><rect x="637.0" y="93.6" width="5.3" height="5.3" fill="#d4b2dc"/><rect x="642.0" y="93.6" width="5.3" height="5.3" fill="#e0cce6"/><rect x="647.0" y="93.6" width="5.3" height="5.3" fill="#eae8f4"/><rect x="652.0" y="93.6" width="5.3" height="5.3" fill="#eae6f2"/><rect x="657.0" y="93.6" width="5.3" height="5.3" fill="#dcc2e2"/><rect x="662.0" y="93.6" width="5.3" height="5.3" fill="#d0a6d8"/><rect x="667.0" y="93.6" width="5.3" height="5.3" fill="#c896d0"/><rect x="672.0" y="93.6" width="5.3" height="5.3" fill="#c48acc"/><rect x="472.0" y="98.6" width="5.3" height="5.3" fill="#dad8ec"/><rect x="477.0" y="98.6" width="5.3" height="5.3" fill="#dcdcee"/><rect x="482.0" y="98.6" width="5.3" height="5.3" fill="#e0def0"/><rect x="487.0" y="98.6" width="5.3" height="5.3" fill="#e0e0f0"/><rect x="492.0" y="98.6" width="5.3" height="5.3" fill="#e2e0f0"/><rect x="497.0" y="98.6" width="5.3" height="5.3" fill="#e2e2f0"/><rect x="502.0" y="98.6" width="5.3" height="5.3" fill="#e6e4f2"/><rect x="507.0" y="98.6" width="5.3" height="5.3" fill="#eae8f4"/><rect x="512.0" y="98.6" width="10.3" height="5.3" fill="#e0cee6"/><rect x="522.0" y="98.6" width="5.3" height="5.3" fill="#e4d4ea"/><rect x="527.0" y="98.6" width="5.3" height="5.3" fill="#e6dcee"/><rect x="532.0" y="98.6" width="5.3" height="5.3" fill="#e8e2f0"/><rect x="537.0" y="98.6" width="10.3" height="5.3" fill="#eceaf4"/><rect x="547.0" y="98.6" width="5.3" height="5.3" fill="#eae8f4"/><rect x="552.0" y="98.6" width="5.3" height="5.3" fill="#e8e2f0"/><rect x="557.0" y="98.6" width="5.3" height="5.3" fill="#e4d8ec"/><rect x="562.0" y="98.6" width="5.3" height="5.3" fill="#e0cae6"/><rect x="567.0" y="98.6" width="5.3" height="5.3" fill="#d8bade"/><rect x="572.0" y="98.6" width="5.3" height="5.3" fill="#d2aad8"/><rect x="577.0" y="98.6" width="5.3" height="5.3" fill="#cca0d4"/><rect x="582.0" y="98.6" width="5.3" height="5.3" fill="#cea2d6"/><rect x="587.0" y="98.6" width="5.3" height="5.3" fill="#d2acda"/><rect x="592.0" y="98.6" width="5.3" height="5.3" fill="#d8b8de"/><rect x="597.0" y="98.6" width="5.3" height="5.3" fill="#dcc2e2"/><rect x="602.0" y="98.6" width="5.3" height="5.3" fill="#d6b6dc"/><rect x="607.0" y="98.6" width="5.3" height="5.3" fill="#cc9ed4"/><rect x="612.0" y="98.6" width="5.3" height="5.3" fill="#c082c8"/><rect x="617.0" y="98.6" width="10.3" height="5.3" fill="#ba74c2"/><rect x="627.0" y="98.6" width="5.3" height="5.3" fill="#b872c0"/><rect x="632.0" y="98.6" width="5.3" height="5.3" fill="#be7ec6"/><rect x="637.0" y="98.6" width="5.3" height="5.3" fill="#cc9ed4"/><rect x="642.0" y="98.6" width="5.3" height="5.3" fill="#dac0e0"/><rect x="647.0" y="98.6" width="5.3" height="5.3" fill="#e8e0f0"/><rect x="652.0" y="98.6" width="5.3" height="5.3" fill="#e6deee"/><rect x="657.0" y="98.6" width="5.3" height="5.3" fill="#d6b6de"/><rect x="662.0" y="98.6" width="5.3" height="5.3" fill="#cc9cd4"/><rect x="667.0" y="98.6" width="5.3" height="5.3" fill="#c68ece"/><rect x="672.0" y="98.6" width="5.3" height="5.3" fill="#c082c8"/><rect x="472.0" y="103.6" width="5.3" height="5.3" fill="#dedeee"/><rect x="477.0" y="103.6" width="5.3" height="5.3" fill="#e2e2f0"/><rect x="482.0" y="103.6" width="5.3" height="5.3" fill="#e4e4f2"/><rect x="487.0" y="103.6" width="5.3" height="5.3" fill="#e6e6f2"/><rect x="492.0" y="103.6" width="5.3" height="5.3" fill="#eae8f4"/><rect x="497.0" y="103.6" width="5.3" height="5.3" fill="#eceaf4"/><rect x="502.0" y="103.6" width="5.3" height="5.3" fill="#e6deee"/><rect x="507.0" y="103.6" width="5.3" height="5.3" fill="#e0cae6"/><rect x="512.0" y="103.6" width="10.3" height="5.3" fill="#d6b4dc"/><rect x="522.0" y="103.6" width="5.3" height="5.3" fill="#dabee0"/><rect x="527.0" y="103.6" width="5.3" height="5.3" fill="#e0cee6"/><rect x="532.0" y="103.6" width="5.3" height="5.3" fill="#e6dcee"/><rect x="537.0" y="103.6" width="5.3" height="5.3" fill="#eceaf4"/><rect x="542.0" y="103.6" width="5.3" height="5.3" fill="#e8e8f4"/><rect x="547.0" y="103.6" width="5.3" height="5.3" fill="#eaeaf4"/><rect x="552.0" y="103.6" width="5.3" height="5.3" fill="#e8e2f0"/><rect x="557.0" y="103.6" width="5.3" height="5.3" fill="#e2d2e8"/><rect x="562.0" y="103.6" width="5.3" height="5.3" fill="#dabee0"/><rect x="567.0" y="103.6" width="5.3" height="5.3" fill="#d4b2dc"/><rect x="572.0" y="103.6" width="5.3" height="5.3" fill="#d0a8d8"/><rect x="577.0" y="103.6" width="5.3" height="5.3" fill="#cc9ed4"/><rect x="582.0" y="103.6" width="5.3" height="5.3" fill="#ca9ad2"/><rect x="587.0" y="103.6" width="5.3" height="5.3" fill="#cc9ed4"/><rect x="592.0" y="103.6" width="5.3" height="5.3" fill="#d0a8d8"/><rect x="597.0" y="103.6" width="5.3" height="5.3" fill="#d6b4dc"/><rect x="602.0" y="103.6" width="5.3" height="5.3" fill="#d6b6de"/><rect x="607.0" y="103.6" width="5.3" height="5.3" fill="#cea2d6"/><rect x="612.0" y="103.6" width="5.3" height="5.3" fill="#c48acc"/><rect x="617.0" y="103.6" width="5.3" height="5.3" fill="#be7cc6"/><rect x="622.0" y="103.6" width="5.3" height="5.3" fill="#be7ec6"/><rect x="627.0" y="103.6" width="5.3" height="5.3" fill="#ba74c2"/><rect x="632.0" y="103.6" width="5.3" height="5.3" fill="#b86ec0"/><rect x="637.0" y="103.6" width="5.3" height="5.3" fill="#c690ce"/><rect x="642.0" y="103.6" width="5.3" height="5.3" fill="#d0a8d8"/><rect x="647.0" y="103.6" width="5.3" height="5.3" fill="#d6b6dc"/><rect x="652.0" y="103.6" width="5.3" height="5.3" fill="#d2acda"/><rect x="657.0" y="103.6" width="5.3" height="5.3" fill="#ca9ad2"/><rect x="662.0" y="103.6" width="5.3" height="5.3" fill="#c48ccc"/><rect x="667.0" y="103.6" width="5.3" height="5.3" fill="#c080c8"/><rect x="672.0" y="103.6" width="5.3" height="5.3" fill="#bc78c4"/><rect x="472.0" y="108.6" width="5.3" height="5.3" fill="#e4e4f2"/><rect x="477.0" y="108.6" width="5.3" height="5.3" fill="#e8e6f2"/><rect x="482.0" y="108.6" width="5.3" height="5.3" fill="#eaeaf4"/><rect x="487.0" y="108.6" width="5.3" height="5.3" fill="#eae6f2"/><rect x="492.0" y="108.6" width="5.3" height="5.3" fill="#e6deee"/><rect x="497.0" y="108.6" width="5.3" height="5.3" fill="#e4d4ea"/><rect x="502.0" y="108.6" width="5.3" height="5.3" fill="#dec8e4"/><rect x="507.0" y="108.6" width="5.3" height="5.3" fill="#d8b8de"/><rect x="512.0" y="108.6" width="5.3" height="5.3" fill="#d2aad8"/><rect x="517.0" y="108.6" width="5.3" height="5.3" fill="#d0a6d8"/><rect x="522.0" y="108.6" width="5.3" height="5.3" fill="#d4aeda"/><rect x="527.0" y="108.6" width="5.3" height="5.3" fill="#dcc0e2"/><rect x="532.0" y="108.6" width="5.3" height="5.3" fill="#e4d8ec"/><rect x="537.0" y="108.6" width="5.3" height="5.3" fill="#eaeaf4"/><rect x="542.0" y="108.6" width="5.3" height="5.3" fill="#e4e4f2"/><rect x="547.0" y="108.6" width="5.3" height="5.3" fill="#e6e4f2"/><rect x="552.0" y="108.6" width="5.3" height="5.3" fill="#eae6f2"/><rect x="557.0" y="108.6" width="5.3" height="5.3" fill="#e2cee8"/><rect x="562.0" y="108.6" width="5.3" height="5.3" fill="#dabce0"/><rect x="567.0" y="108.6" width="5.3" height="5.3" fill="#d6b2dc"/><rect x="572.0" y="108.6" width="5.3" height="5.3" fill="#d2aad8"/><rect x="577.0" y="108.6" width="5.3" height="5.3" fill="#cc9ed4"/><rect x="582.0" y="108.6" width="5.3" height="5.3" fill="#c896d0"/><rect x="587.0" y="108.6" width="5.3" height="5.3" fill="#c690ce"/><rect x="592.0" y="108.6" width="5.3" height="5.3" fill="#ca9ad2"/><rect x="597.0" y="108.6" width="5.3" height="5.3" fill="#d0a6d8"/><rect x="602.0" y="108.6" width="5.3" height="5.3" fill="#d2acda"/><rect x="607.0" y="108.6" width="5.3" height="5.3" fill="#cea4d6"/><rect x="612.0" y="108.6" width="5.3" height="5.3" fill="#cc9cd4"/><rect x="617.0" y="108.6" width="5.3" height="5.3" fill="#ca9ad2"/><rect x="622.0" y="108.6" width="5.3" height="5.3" fill="#c894d0"/><rect x="627.0" y="108.6" width="5.3" height="5.3" fill="#c48ccc"/><rect x="632.0" y="108.6" width="5.3" height="5.3" fill="#c080c8"/><rect x="637.0" y="108.6" width="5.3" height="5.3" fill="#c48acc"/><rect x="642.0" y="108.6" width="5.3" height="5.3" fill="#ca98d2"/><rect x="647.0" y="108.6" width="5.3" height="5.3" fill="#ca9ad2"/><rect x="652.0" y="108.6" width="5.3" height="5.3" fill="#c286ca"/><rect x="657.0" y="108.6" width="10.3" height="5.3" fill="#bc7ac4"/><rect x="667.0" y="108.6" width="5.3" height="5.3" fill="#ba74c2"/><rect x="672.0" y="108.6" width="5.3" height="5.3" fill="#b66cbe"/><rect x="472.0" y="113.6" width="5.3" height="5.3" fill="#eae8f4"/><rect x="477.0" y="113.6" width="5.3" height="5.3" fill="#eae6f2"/><rect x="482.0" y="113.6" width="5.3" height="5.3" fill="#e6deee"/><rect x="487.0" y="113.6" width="5.3" height="5.3" fill="#e4d4ea"/><rect x="492.0" y="113.6" width="5.3" height="5.3" fill="#e0cae6"/><rect x="497.0" y="113.6" width="5.3" height="5.3" fill="#dcc0e2"/><rect x="502.0" y="113.6" width="5.3" height="5.3" fill="#d8b8de"/><rect x="507.0" y="113.6" width="5.3" height="5.3" fill="#d2acda"/><rect x="512.0" y="113.6" width="5.3" height="5.3" fill="#cea0d6"/><rect x="517.0" y="113.6" width="5.3" height="5.3" fill="#ca98d2"/><rect x="522.0" y="113.6" width="5.3" height="5.3" fill="#cca0d4"/><rect x="527.0" y="113.6" width="5.3" height="5.3" fill="#d6b4dc"/><rect x="532.0" y="113.6" width="5.3" height="5.3" fill="#e2d0e8"/><rect x="537.0" y="113.6" width="5.3" height="5.3" fill="#eceaf4"/><rect x="542.0" y="113.6" width="5.3" height="5.3" fill="#e0def0"/><rect x="547.0" y="113.6" width="5.3" height="5.3" fill="#e2e2f0"/><rect x="552.0" y="113.6" width="5.3" height="5.3" fill="#e8e2f0"/><rect x="557.0" y="113.6" width="5.3" height="5.3" fill="#dcc4e2"/><rect x="562.0" y="113.6" width="5.3" height="5.3" fill="#d4b2dc"/><rect x="567.0" y="113.6" width="5.3" height="5.3" fill="#d4b0da"/><rect x="572.0" y="113.6" width="5.3" height="5.3" fill="#d4aeda"/><rect x="577.0" y="113.6" width="5.3" height="5.3" fill="#cc9ed4"/><rect x="582.0" y="113.6" width="5.3" height="5.3" fill="#c892d0"/><rect x="587.0" y="113.6" width="5.3" height="5.3" fill="#c68cce"/><rect x="592.0" y="113.6" width="5.3" height="5.3" fill="#c692ce"/><rect x="597.0" y="113.6" width="5.3" height="5.3" fill="#ca98d2"/><rect x="602.0" y="113.6" width="5.3" height="5.3" fill="#cc9cd4"/><rect x="607.0" y="113.6" width="5.3" height="5.3" fill="#cc9ed4"/><rect x="612.0" y="113.6" width="5.3" height="5.3" fill="#cea4d6"/><rect x="617.0" y="113.6" width="5.3" height="5.3" fill="#d6b4dc"/><rect x="622.0" y="113.6" width="5.3" height="5.3" fill="#cc9cd4"/><rect x="627.0" y="113.6" width="5.3" height="5.3" fill="#c288ca"/><rect x="632.0" y="113.6" width="5.3" height="5.3" fill="#be7cc6"/><rect x="637.0" y="113.6" width="5.3" height="5.3" fill="#be7ec6"/><rect x="642.0" y="113.6" width="10.3" height="5.3" fill="#c48ccc"/><rect x="652.0" y="113.6" width="5.3" height="5.3" fill="#be7ec6"/><rect x="657.0" y="113.6" width="5.3" height="5.3" fill="#ba74c2"/><rect x="662.0" y="113.6" width="5.3" height="5.3" fill="#b86ec0"/><rect x="667.0" y="113.6" width="5.3" height="5.3" fill="#b468bc"/><rect x="672.0" y="113.6" width="5.3" height="5.3" fill="#b060b8"/><rect x="472.0" y="118.6" width="5.3" height="5.3" fill="#e8e0f0"/><rect x="477.0" y="118.6" width="5.3" height="5.3" fill="#e4d8ec"/><rect x="482.0" y="118.6" width="5.3" height="5.3" fill="#e2d0e8"/><rect x="487.0" y="118.6" width="5.3" height="5.3" fill="#dec6e4"/><rect x="492.0" y="118.6" width="5.3" height="5.3" fill="#d8bade"/><rect x="497.0" y="118.6" width="5.3" height="5.3" fill="#d4b0da"/><rect x="502.0" y="118.6" width="5.3" height="5.3" fill="#d2aad8"/><rect x="507.0" y="118.6" width="5.3" height="5.3" fill="#d0a6d6"/><rect x="512.0" y="118.6" width="5.3" height="5.3" fill="#ca9cd2"/><rect x="517.0" y="118.6" width="5.3" height="5.3" fill="#c690ce"/><rect x="522.0" y="118.6" width="5.3" height="5.3" fill="#c896d0"/><rect x="527.0" y="118.6" width="5.3" height="5.3" fill="#d2aad8"/><rect x="532.0" y="118.6" width="5.3" height="5.3" fill="#dac0e0"/><rect x="537.0" y="118.6" width="5.3" height="5.3" fill="#e4d6ea"/><rect x="542.0" y="118.6" width="5.3" height="5.3" fill="#eae8f4"/><rect x="547.0" y="118.6" width="5.3" height="5.3" fill="#e8e2f0"/><rect x="552.0" y="118.6" width="5.3" height="5.3" fill="#dec8e4"/><rect x="557.0" y="118.6" width="5.3" height="5.3" fill="#d4b0da"/><rect x="562.0" y="118.6" width="5.3" height="5.3" fill="#cc9ed4"/><rect x="567.0" y="118.6" width="5.3" height="5.3" fill="#c894d0"/><rect x="572.0" y="118.6" width="5.3" height="5.3" fill="#cc9ed4"/><rect x="577.0" y="118.6" width="5.3" height="5.3" fill="#ca98d2"/><rect x="582.0" y="118.6" width="5.3" height="5.3" fill="#c690ce"/><rect x="587.0" y="118.6" width="10.3" height="5.3" fill="#c48acc"/><rect x="597.0" y="118.6" width="10.3" height="5.3" fill="#c68ece"/><rect x="607.0" y="118.6" width="5.3" height="5.3" fill="#c690ce"/><rect x="612.0" y="118.6" width="10.3" height="5.3" fill="#ca98d2"/><rect x="622.0" y="118.6" width="5.3" height="5.3" fill="#c288ca"/><rect x="627.0" y="118.6" width="5.3" height="5.3" fill="#b872c0"/><rect x="632.0" y="118.6" width="10.3" height="5.3" fill="#b466bc"/><rect x="642.0" y="118.6" width="5.3" height="5.3" fill="#ba72c2"/><rect x="647.0" y="118.6" width="5.3" height="5.3" fill="#bc7ac4"/><rect x="652.0" y="118.6" width="5.3" height="5.3" fill="#b872c0"/><rect x="657.0" y="118.6" width="5.3" height="5.3" fill="#ba72c2"/><rect x="662.0" y="118.6" width="5.3" height="5.3" fill="#b264ba"/><rect x="667.0" y="118.6" width="5.3" height="5.3" fill="#ae5ab6"/><rect x="672.0" y="118.6" width="5.3" height="5.3" fill="#aa54b2"/><rect x="472.0" y="123.6" width="5.3" height="5.3" fill="#e2d2e8"/><rect x="477.0" y="123.6" width="5.3" height="5.3" fill="#e0cae6"/><rect x="482.0" y="123.6" width="5.3" height="5.3" fill="#dcc4e2"/><rect x="487.0" y="123.6" width="5.3" height="5.3" fill="#dabce0"/><rect x="492.0" y="123.6" width="5.3" height="5.3" fill="#d4b2dc"/><rect x="497.0" y="123.6" width="5.3" height="5.3" fill="#cea4d6"/><rect x="502.0" y="123.6" width="5.3" height="5.3" fill="#cea2d6"/><rect x="507.0" y="123.6" width="5.3" height="5.3" fill="#cca0d4"/><rect x="512.0" y="123.6" width="5.3" height="5.3" fill="#ca98d2"/><rect x="517.0" y="123.6" width="5.3" height="5.3" fill="#c690ce"/><rect x="522.0" y="123.6" width="5.3" height="5.3" fill="#c892d0"/><rect x="527.0" y="123.6" width="5.3" height="5.3" fill="#cc9cd4"/><rect x="532.0" y="123.6" width="5.3" height="5.3" fill="#d2aad8"/><rect x="537.0" y="123.6" width="5.3" height="5.3" fill="#d6b4dc"/><rect x="542.0" y="123.6" width="5.3" height="5.3" fill="#d6b6dc"/><rect x="547.0" y="123.6" width="5.3" height="5.3" fill="#d0a8d8"/><rect x="552.0" y="123.6" width="5.3" height="5.3" fill="#d0a6d8"/><rect x="557.0" y="123.6" width="5.3" height="5.3" fill="#cc9ed4"/><rect x="562.0" y="123.6" width="5.3" height="5.3" fill="#c892d0"/><rect x="567.0" y="123.6" width="5.3" height="5.3" fill="#c48ccc"/><rect x="572.0" y="123.6" width="10.3" height="5.3" fill="#c68ece"/><rect x="582.0" y="123.6" width="5.3" height="5.3" fill="#c48acc"/><rect x="587.0" y="123.6" width="5.3" height="5.3" fill="#c284ca"/><rect x="592.0" y="123.6" width="5.3" height="5.3" fill="#c082c8"/><rect x="597.0" y="123.6" width="5.3" height="5.3" fill="#c084c8"/><rect x="602.0" y="123.6" width="10.3" height="5.3" fill="#c284ca"/><rect x="612.0" y="123.6" width="5.3" height="5.3" fill="#c286ca"/><rect x="617.0" y="123.6" width="5.3" height="5.3" fill="#be7ec6"/><rect x="622.0" y="123.6" width="5.3" height="5.3" fill="#b46abc"/><rect x="627.0" y="123.6" width="5.3" height="5.3" fill="#aa52b2"/><rect x="632.0" y="123.6" width="5.3" height="5.3" fill="#a44aac"/><rect x="637.0" y="123.6" width="5.3" height="5.3" fill="#a242aa"/><rect x="642.0" y="123.6" width="5.3" height="5.3" fill="#9e3ca6"/><rect x="647.0" y="123.6" width="5.3" height="5.3" fill="#a448ac"/><rect x="652.0" y="123.6" width="5.3" height="5.3" fill="#aa54b2"/><rect x="657.0" y="123.6" width="5.3" height="5.3" fill="#ac58b4"/><rect x="662.0" y="123.6" width="5.3" height="5.3" fill="#aa52b2"/><rect x="667.0" y="123.6" width="5.3" height="5.3" fill="#a64aae"/><rect x="672.0" y="123.6" width="5.3" height="5.3" fill="#a246aa"/><rect x="472.0" y="128.6" width="5.3" height="5.3" fill="#dcc2e2"/><rect x="477.0" y="128.6" width="5.3" height="5.3" fill="#dabce0"/><rect x="482.0" y="128.6" width="5.3" height="5.3" fill="#d8bade"/><rect x="487.0" y="128.6" width="5.3" height="5.3" fill="#d6b6de"/><rect x="492.0" y="128.6" width="5.3" height="5.3" fill="#d4b0dc"/><rect x="497.0" y="128.6" width="5.3" height="5.3" fill="#d0aad8"/><rect x="502.0" y="128.6" width="5.3" height="5.3" fill="#cea2d6"/><rect x="507.0" y="128.6" width="5.3" height="5.3" fill="#ca9ad2"/><rect x="512.0" y="128.6" width="5.3" height="5.3" fill="#c892d0"/><rect x="517.0" y="128.6" width="10.3" height="5.3" fill="#c68ece"/><rect x="527.0" y="128.6" width="5.3" height="5.3" fill="#c690ce"/><rect x="532.0" y="128.6" width="5.3" height="5.3" fill="#ca98d2"/><rect x="537.0" y="128.6" width="5.3" height="5.3" fill="#cca0d4"/><rect x="542.0" y="128.6" width="5.3" height="5.3" fill="#cc9ed4"/><rect x="547.0" y="128.6" width="5.3" height="5.3" fill="#c690ce"/><rect x="552.0" y="128.6" width="5.3" height="5.3" fill="#ca96d2"/><rect x="557.0" y="128.6" width="5.3" height="5.3" fill="#ca98d2"/><rect x="562.0" y="128.6" width="5.3" height="5.3" fill="#c690ce"/><rect x="567.0" y="128.6" width="5.3" height="5.3" fill="#c48ccc"/><rect x="572.0" y="128.6" width="5.3" height="5.3" fill="#c48acc"/><rect x="577.0" y="128.6" width="5.3" height="5.3" fill="#c286ca"/><rect x="582.0" y="128.6" width="5.3" height="5.3" fill="#c082c8"/><rect x="587.0" y="128.6" width="5.3" height="5.3" fill="#be7cc6"/><rect x="592.0" y="128.6" width="5.3" height="5.3" fill="#bc78c4"/><rect x="597.0" y="128.6" width="5.3" height="5.3" fill="#bc7ac4"/><rect x="602.0" y="128.6" width="10.3" height="5.3" fill="#be7cc6"/><rect x="612.0" y="128.6" width="5.3" height="5.3" fill="#ba76c2"/><rect x="617.0" y="128.6" width="5.3" height="5.3" fill="#b66abe"/><rect x="622.0" y="128.6" width="5.3" height="5.3" fill="#ac56b4"/><rect x="627.0" y="128.6" width="5.3" height="5.3" fill="#a040a8"/><rect x="632.0" y="128.6" width="5.3" height="5.3" fill="#9c36a4"/><rect x="637.0" y="128.6" width="5.3" height="5.3" fill="#962a9e"/><rect x="642.0" y="128.6" width="5.3" height="5.3" fill="#901e98"/><rect x="647.0" y="128.6" width="5.3" height="5.3" fill="#94289c"/><rect x="652.0" y="128.6" width="5.3" height="5.3" fill="#9c36a4"/><rect x="657.0" y="128.6" width="5.3" height="5.3" fill="#9e3ca6"/><rect x="662.0" y="128.6" width="5.3" height="5.3" fill="#9e3aa6"/><rect x="667.0" y="128.6" width="5.3" height="5.3" fill="#9c38a4"/><rect x="672.0" y="128.6" width="5.3" height="5.3" fill="#9c36a4"/><rect x="472.0" y="133.6" width="5.3" height="5.3" fill="#d6b2dc"/><rect x="477.0" y="133.6" width="10.3" height="5.3" fill="#d4b0da"/><rect x="487.0" y="133.6" width="5.3" height="5.3" fill="#d6b4dc"/><rect x="492.0" y="133.6" width="5.3" height="5.3" fill="#d6b6dc"/><rect x="497.0" y="133.6" width="5.3" height="5.3" fill="#d6b4dc"/><rect x="502.0" y="133.6" width="5.3" height="5.3" fill="#d0a8d8"/><rect x="507.0" y="133.6" width="5.3" height="5.3" fill="#ca98d2"/><rect x="512.0" y="133.6" width="5.3" height="5.3" fill="#c68ece"/><rect x="517.0" y="133.6" width="10.3" height="5.3" fill="#c48ccc"/><rect x="527.0" y="133.6" width="5.3" height="5.3" fill="#c68ece"/><rect x="532.0" y="133.6" width="5.3" height="5.3" fill="#c892d0"/><rect x="537.0" y="133.6" width="5.3" height="5.3" fill="#cc9cd4"/><rect x="542.0" y="133.6" width="5.3" height="5.3" fill="#cca0d4"/><rect x="547.0" y="133.6" width="10.3" height="5.3" fill="#cc9ed4"/><rect x="557.0" y="133.6" width="5.3" height="5.3" fill="#cc9cd4"/><rect x="562.0" y="133.6" width="5.3" height="5.3" fill="#ca98d2"/><rect x="567.0" y="133.6" width="5.3" height="5.3" fill="#c690ce"/><rect x="572.0" y="133.6" width="5.3" height="5.3" fill="#c488cc"/><rect x="577.0" y="133.6" width="5.3" height="5.3" fill="#c082c8"/><rect x="582.0" y="133.6" width="5.3" height="5.3" fill="#bc7ac4"/><rect x="587.0" y="133.6" width="5.3" height="5.3" fill="#ba74c2"/><rect x="592.0" y="133.6" width="5.3" height="5.3" fill="#b870c0"/><rect x="597.0" y="133.6" width="5.3" height="5.3" fill="#b872c0"/><rect x="602.0" y="133.6" width="5.3" height="5.3" fill="#ba74c2"/><rect x="607.0" y="133.6" width="5.3" height="5.3" fill="#b872c0"/><rect x="612.0" y="133.6" width="5.3" height="5.3" fill="#b66cbe"/><rect x="617.0" y="133.6" width="5.3" height="5.3" fill="#b060b8"/><rect x="622.0" y="133.6" width="5.3" height="5.3" fill="#a850b0"/><rect x="627.0" y="133.6" width="5.3" height="5.3" fill="#a03ea8"/><rect x="632.0" y="133.6" width="5.3" height="5.3" fill="#9a32a2"/><rect x="637.0" y="133.6" width="5.3" height="5.3" fill="#96289c"/><rect x="642.0" y="133.6" width="5.3" height="5.3" fill="#92229a"/><rect x="647.0" y="133.6" width="5.3" height="5.3" fill="#94249a"/><rect x="652.0" y="133.6" width="10.3" height="5.3" fill="#96289c"/><rect x="662.0" y="133.6" width="5.3" height="5.3" fill="#94289c"/><rect x="667.0" y="133.6" width="5.3" height="5.3" fill="#96289e"/><rect x="672.0" y="133.6" width="5.3" height="5.3" fill="#962a9e"/><rect x="472.0" y="138.6" width="5.3" height="5.3" fill="#cea2d6"/><rect x="477.0" y="138.6" width="5.3" height="5.3" fill="#cc9ed4"/><rect x="482.0" y="138.6" width="5.3" height="5.3" fill="#cea2d6"/><rect x="487.0" y="138.6" width="5.3" height="5.3" fill="#d4aeda"/><rect x="492.0" y="138.6" width="5.3" height="5.3" fill="#dabee0"/><rect x="497.0" y="138.6" width="5.3" height="5.3" fill="#dcc4e2"/><rect x="502.0" y="138.6" width="5.3" height="5.3" fill="#d6b2dc"/><rect x="507.0" y="138.6" width="5.3" height="5.3" fill="#ca98d2"/><rect x="512.0" y="138.6" width="5.3" height="5.3" fill="#c48ccc"/><rect x="517.0" y="138.6" width="5.3" height="5.3" fill="#c68ece"/><rect x="522.0" y="138.6" width="5.3" height="5.3" fill="#c690ce"/><rect x="527.0" y="138.6" width="5.3" height="5.3" fill="#c894d0"/><rect x="532.0" y="138.6" width="5.3" height="5.3" fill="#ca98d2"/><rect x="537.0" y="138.6" width="5.3" height="5.3" fill="#cea2d6"/><rect x="542.0" y="138.6" width="5.3" height="5.3" fill="#d2acda"/><rect x="547.0" y="138.6" width="5.3" height="5.3" fill="#d4b0da"/><rect x="552.0" y="138.6" width="5.3" height="5.3" fill="#d2acda"/><rect x="557.0" y="138.6" width="5.3" height="5.3" fill="#d0a6d6"/><rect x="562.0" y="138.6" width="5.3" height="5.3" fill="#cea2d6"/><rect x="567.0" y="138.6" width="5.3" height="5.3" fill="#c894d0"/><rect x="572.0" y="138.6" width="5.3" height="5.3" fill="#c488cc"/><rect x="577.0" y="138.6" width="5.3" height="5.3" fill="#be7ec6"/><rect x="582.0" y="138.6" width="5.3" height="5.3" fill="#ba76c2"/><rect x="587.0" y="138.6" width="5.3" height="5.3" fill="#b86ec0"/><rect x="592.0" y="138.6" width="5.3" height="5.3" fill="#b468bc"/><rect x="597.0" y="138.6" width="15.3" height="5.3" fill="#b466bc"/><rect x="612.0" y="138.6" width="5.3" height="5.3" fill="#b264ba"/><rect x="617.0" y="138.6" width="5.3" height="5.3" fill="#ac58b4"/><rect x="622.0" y="138.6" width="5.3" height="5.3" fill="#a64aae"/><rect x="627.0" y="138.6" width="5.3" height="5.3" fill="#9e3aa6"/><rect x="632.0" y="138.6" width="5.3" height="5.3" fill="#982ea0"/><rect x="637.0" y="138.6" width="5.3" height="5.3" fill="#962a9e"/><rect x="642.0" y="138.6" width="15.3" height="5.3" fill="#94269c"/><rect x="657.0" y="138.6" width="5.3" height="5.3" fill="#922098"/><rect x="662.0" y="138.6" width="5.3" height="5.3" fill="#901c96"/><rect x="667.0" y="138.6" width="5.3" height="5.3" fill="#922098"/><rect x="672.0" y="138.6" width="5.3" height="5.3" fill="#92209a"/><rect x="472.0" y="143.6" width="5.3" height="5.3" fill="#c690ce"/><rect x="477.0" y="143.6" width="5.3" height="5.3" fill="#c48acc"/><rect x="482.0" y="143.6" width="5.3" height="5.3" fill="#c68ece"/><rect x="487.0" y="143.6" width="5.3" height="5.3" fill="#cea0d6"/><rect x="492.0" y="143.6" width="5.3" height="5.3" fill="#dac0e0"/><rect x="497.0" y="143.6" width="5.3" height="5.3" fill="#e8e0f0"/><rect x="502.0" y="143.6" width="5.3" height="5.3" fill="#d8bade"/><rect x="507.0" y="143.6" width="5.3" height="5.3" fill="#cca0d4"/><rect x="512.0" y="143.6" width="10.3" height="5.3" fill="#c892d0"/><rect x="522.0" y="143.6" width="5.3" height="5.3" fill="#c896d0"/><rect x="527.0" y="143.6" width="5.3" height="5.3" fill="#ca9ad2"/><rect x="532.0" y="143.6" width="5.3" height="5.3" fill="#cc9ed4"/><rect x="537.0" y="143.6" width="5.3" height="5.3" fill="#d0a8d8"/><rect x="542.0" y="143.6" width="5.3" height="5.3" fill="#d8b8de"/><rect x="547.0" y="143.6" width="5.3" height="5.3" fill="#dcc4e2"/><rect x="552.0" y="143.6" width="5.3" height="5.3" fill="#d6b4dc"/><rect x="557.0" y="143.6" width="5.3" height="5.3" fill="#d0a8d8"/><rect x="562.0" y="143.6" width="5.3" height="5.3" fill="#cc9ed4"/><rect x="567.0" y="143.6" width="5.3" height="5.3" fill="#c892d0"/><rect x="572.0" y="143.6" width="5.3" height="5.3" fill="#c286ca"/><rect x="577.0" y="143.6" width="5.3" height="5.3" fill="#be7cc6"/><rect x="582.0" y="143.6" width="5.3" height="5.3" fill="#b872c0"/><rect x="587.0" y="143.6" width="5.3" height="5.3" fill="#b66abe"/><rect x="592.0" y="143.6" width="5.3" height="5.3" fill="#b060b8"/><rect x="597.0" y="143.6" width="5.3" height="5.3" fill="#ae58b6"/><rect x="602.0" y="143.6" width="5.3" height="5.3" fill="#aa54b2"/><rect x="607.0" y="143.6" width="5.3" height="5.3" fill="#aa52b2"/><rect x="612.0" y="143.6" width="5.3" height="5.3" fill="#ac56b4"/><rect x="617.0" y="143.6" width="5.3" height="5.3" fill="#a64aae"/><rect x="622.0" y="143.6" width="5.3" height="5.3" fill="#a040a8"/><rect x="627.0" y="143.6" width="5.3" height="5.3" fill="#982ea0"/><rect x="632.0" y="143.6" width="10.3" height="5.3" fill="#94249c"/><rect x="642.0" y="143.6" width="5.3" height="5.3" fill="#94269c"/><rect x="647.0" y="143.6" width="10.3" height="5.3" fill="#962c9e"/><rect x="657.0" y="143.6" width="5.3" height="5.3" fill="#94249a"/><rect x="662.0" y="143.6" width="5.3" height="5.3" fill="#921e98"/><rect x="667.0" y="143.6" width="10.3" height="5.3" fill="#901c96"/><rect x="472.0" y="148.6" width="5.3" height="5.3" fill="#be7ec6"/><rect x="477.0" y="148.6" width="5.3" height="5.3" fill="#b872c0"/><rect x="482.0" y="148.6" width="5.3" height="5.3" fill="#b86ec0"/><rect x="487.0" y="148.6" width="5.3" height="5.3" fill="#c286ca"/><rect x="492.0" y="148.6" width="5.3" height="5.3" fill="#d0a6d6"/><rect x="497.0" y="148.6" width="5.3" height="5.3" fill="#d8b8de"/><rect x="502.0" y="148.6" width="5.3" height="5.3" fill="#d0a8d8"/><rect x="507.0" y="148.6" width="5.3" height="5.3" fill="#ca9ad2"/><rect x="512.0" y="148.6" width="5.3" height="5.3" fill="#c892d0"/><rect x="517.0" y="148.6" width="5.3" height="5.3" fill="#c894d0"/><rect x="522.0" y="148.6" width="5.3" height="5.3" fill="#ca9ad2"/><rect x="527.0" y="148.6" width="5.3" height="5.3" fill="#cca0d4"/><rect x="532.0" y="148.6" width="5.3" height="5.3" fill="#cc9ed4"/><rect x="537.0" y="148.6" width="5.3" height="5.3" fill="#cea4d6"/><rect x="542.0" y="148.6" width="5.3" height="5.3" fill="#d6b4dc"/><rect x="547.0" y="148.6" width="5.3" height="5.3" fill="#dabee0"/><rect x="552.0" y="148.6" width="5.3" height="5.3" fill="#d4b0da"/><rect x="557.0" y="148.6" width="5.3" height="5.3" fill="#cea2d6"/><rect x="562.0" y="148.6" width="5.3" height="5.3" fill="#c896d0"/><rect x="567.0" y="148.6" width="5.3" height="5.3" fill="#c48ccc"/><rect x="572.0" y="148.6" width="5.3" height="5.3" fill="#c080c8"/><rect x="577.0" y="148.6" width="5.3" height="5.3" fill="#bc7ac4"/><rect x="582.0" y="148.6" width="5.3" height="5.3" fill="#ba74c2"/><rect x="587.0" y="148.6" width="5.3" height="5.3" fill="#b66cbe"/><rect x="592.0" y="148.6" width="5.3" height="5.3" fill="#b05eb8"/><rect x="597.0" y="148.6" width="5.3" height="5.3" fill="#a64cae"/><rect x="602.0" y="148.6" width="5.3" height="5.3" fill="#9e3ca6"/><rect x="607.0" y="148.6" width="5.3" height="5.3" fill="#9a36a2"/><rect x="612.0" y="148.6" width="5.3" height="5.3" fill="#9a34a2"/><rect x="617.0" y="148.6" width="5.3" height="5.3" fill="#9830a0"/><rect x="622.0" y="148.6" width="5.3" height="5.3" fill="#96289c"/><rect x="627.0" y="148.6" width="5.3" height="5.3" fill="#921e98"/><rect x="632.0" y="148.6" width="5.3" height="5.3" fill="#8e1494"/><rect x="637.0" y="148.6" width="5.3" height="5.3" fill="#8a0e90"/><rect x="642.0" y="148.6" width="5.3" height="5.3" fill="#901a96"/><rect x="647.0" y="148.6" width="5.3" height="5.3" fill="#9a34a2"/><rect x="652.0" y="148.6" width="5.3" height="5.3" fill="#9c36a4"/><rect x="657.0" y="148.6" width="5.3" height="5.3" fill="#96289c"/><rect x="662.0" y="148.6" width="5.3" height="5.3" fill="#922098"/><rect x="667.0" y="148.6" width="5.3" height="5.3" fill="#901a96"/><rect x="672.0" y="148.6" width="5.3" height="5.3" fill="#8e1894"/><rect x="472.0" y="153.6" width="5.3" height="5.3" fill="#b870c0"/><rect x="477.0" y="153.6" width="5.3" height="5.3" fill="#b060b8"/><rect x="482.0" y="153.6" width="5.3" height="5.3" fill="#ae5cb6"/><rect x="487.0" y="153.6" width="5.3" height="5.3" fill="#b66ebe"/><rect x="492.0" y="153.6" width="5.3" height="5.3" fill="#c082c8"/><rect x="497.0" y="153.6" width="5.3" height="5.3" fill="#c286ca"/><rect x="502.0" y="153.6" width="5.3" height="5.3" fill="#c284ca"/><rect x="507.0" y="153.6" width="5.3" height="5.3" fill="#c48acc"/><rect x="512.0" y="153.6" width="5.3" height="5.3" fill="#c68cce"/><rect x="517.0" y="153.6" width="5.3" height="5.3" fill="#c692ce"/><rect x="522.0" y="153.6" width="10.3" height="5.3" fill="#c896d0"/><rect x="532.0" y="153.6" width="5.3" height="5.3" fill="#c692ce"/><rect x="537.0" y="153.6" width="5.3" height="5.3" fill="#c894d0"/><rect x="542.0" y="153.6" width="5.3" height="5.3" fill="#cc9ed4"/><rect x="547.0" y="153.6" width="5.3" height="5.3" fill="#cea2d6"/><rect x="552.0" y="153.6" width="5.3" height="5.3" fill="#cc9ed4"/><rect x="557.0" y="153.6" width="5.3" height="5.3" fill="#c894d0"/><rect x="562.0" y="153.6" width="5.3" height="5.3" fill="#c48acc"/><rect x="567.0" y="153.6" width="5.3" height="5.3" fill="#c080c8"/><rect x="572.0" y="153.6" width="5.3" height="5.3" fill="#bc78c4"/><rect x="577.0" y="153.6" width="10.3" height="5.3" fill="#ba74c2"/><rect x="587.0" y="153.6" width="5.3" height="5.3" fill="#b872c0"/><rect x="592.0" y="153.6" width="5.3" height="5.3" fill="#b264ba"/><rect x="597.0" y="153.6" width="5.3" height="5.3" fill="#a446ac"/><rect x="602.0" y="153.6" width="5.3" height="5.3" fill="#94269c"/><rect x="607.0" y="153.6" width="10.3" height="5.3" fill="#901e98"/><rect x="617.0" y="153.6" width="5.3" height="5.3" fill="#901a96"/><rect x="622.0" y="153.6" width="5.3" height="5.3" fill="#8e1694"/><rect x="627.0" y="153.6" width="5.3" height="5.3" fill="#8c1292"/><rect x="632.0" y="153.6" width="5.3" height="5.3" fill="#8a0c90"/><rect x="637.0" y="153.6" width="5.3" height="5.3" fill="#8a0a90"/><rect x="642.0" y="153.6" width="5.3" height="5.3" fill="#8c1092"/><rect x="647.0" y="153.6" width="5.3" height="5.3" fill="#96289c"/><rect x="652.0" y="153.6" width="5.3" height="5.3" fill="#982ea0"/><rect x="657.0" y="153.6" width="5.3" height="5.3" fill="#94269c"/><rect x="662.0" y="153.6" width="5.3" height="5.3" fill="#921e98"/><rect x="667.0" y="153.6" width="5.3" height="5.3" fill="#8e1894"/><rect x="672.0" y="153.6" width="5.3" height="5.3" fill="#8e1494"/><rect x="472.0" y="158.6" width="5.3" height="5.3" fill="#b468bc"/><rect x="477.0" y="158.6" width="5.3" height="5.3" fill="#b05eb8"/><rect x="482.0" y="158.6" width="5.3" height="5.3" fill="#ae5cb6"/><rect x="487.0" y="158.6" width="5.3" height="5.3" fill="#b262ba"/><rect x="492.0" y="158.6" width="5.3" height="5.3" fill="#b66cbe"/><rect x="497.0" y="158.6" width="5.3" height="5.3" fill="#b66ebe"/><rect x="502.0" y="158.6" width="5.3" height="5.3" fill="#b872c0"/><rect x="507.0" y="158.6" width="5.3" height="5.3" fill="#bc7ac4"/><rect x="512.0" y="158.6" width="5.3" height="5.3" fill="#c286ca"/><rect x="517.0" y="158.6" width="5.3" height="5.3" fill="#c68ece"/><rect x="522.0" y="158.6" width="5.3" height="5.3" fill="#c690ce"/><rect x="527.0" y="158.6" width="5.3" height="5.3" fill="#c288ca"/><rect x="532.0" y="158.6" width="5.3" height="5.3" fill="#bc7cc4"/><rect x="537.0" y="158.6" width="5.3" height="5.3" fill="#bc7ac4"/><rect x="542.0" y="158.6" width="5.3" height="5.3" fill="#c284ca"/><rect x="547.0" y="158.6" width="5.3" height="5.3" fill="#c48ccc"/><rect x="552.0" y="158.6" width="5.3" height="5.3" fill="#c48acc"/><rect x="557.0" y="158.6" width="5.3" height="5.3" fill="#c084c8"/><rect x="562.0" y="158.6" width="5.3" height="5.3" fill="#bc7ac4"/><rect x="567.0" y="158.6" width="5.3" height="5.3" fill="#b870c0"/><rect x="572.0" y="158.6" width="5.3" height="5.3" fill="#b66abe"/><rect x="577.0" y="158.6" width="5.3" height="5.3" fill="#b46abc"/><rect x="582.0" y="158.6" width="5.3" height="5.3" fill="#b86ec0"/><rect x="587.0" y="158.6" width="5.3" height="5.3" fill="#ba74c2"/><rect x="592.0" y="158.6" width="5.3" height="5.3" fill="#b66abe"/><rect x="597.0" y="158.6" width="5.3" height="5.3" fill="#a44aac"/><rect x="602.0" y="158.6" width="5.3" height="5.3" fill="#94269c"/><rect x="607.0" y="158.6" width="5.3" height="5.3" fill="#8e1694"/><rect x="612.0" y="158.6" width="5.3" height="5.3" fill="#8c1092"/><rect x="617.0" y="158.6" width="5.3" height="5.3" fill="#8a0e90"/><rect x="622.0" y="158.6" width="10.3" height="5.3" fill="#8a0c90"/><rect x="632.0" y="158.6" width="10.3" height="5.3" fill="#8a0a90"/><rect x="642.0" y="158.6" width="5.3" height="5.3" fill="#8c1092"/><rect x="647.0" y="158.6" width="5.3" height="5.3" fill="#901c96"/><rect x="652.0" y="158.6" width="5.3" height="5.3" fill="#94229a"/><rect x="657.0" y="158.6" width="5.3" height="5.3" fill="#922098"/><rect x="662.0" y="158.6" width="5.3" height="5.3" fill="#901896"/><rect x="667.0" y="158.6" width="5.3" height="5.3" fill="#8c1492"/><rect x="672.0" y="158.6" width="5.3" height="5.3" fill="#8c1092"/><rect x="472.0" y="163.6" width="5.3" height="5.3" fill="#b468bc"/><rect x="477.0" y="163.6" width="5.3" height="5.3" fill="#b060b8"/><rect x="482.0" y="163.6" width="5.3" height="5.3" fill="#b05cb8"/><rect x="487.0" y="163.6" width="5.3" height="5.3" fill="#b060b8"/><rect x="492.0" y="163.6" width="5.3" height="5.3" fill="#b264ba"/><rect x="497.0" y="163.6" width="5.3" height="5.3" fill="#b468bc"/><rect x="502.0" y="163.6" width="5.3" height="5.3" fill="#b66ebe"/><rect x="507.0" y="163.6" width="5.3" height="5.3" fill="#ba76c2"/><rect x="512.0" y="163.6" width="5.3" height="5.3" fill="#c286ca"/><rect x="517.0" y="163.6" width="10.3" height="5.3" fill="#c690ce"/><rect x="527.0" y="163.6" width="5.3" height="5.3" fill="#c080c8"/><rect x="532.0" y="163.6" width="5.3" height="5.3" fill="#b468bc"/><rect x="537.0" y="163.6" width="5.3" height="5.3" fill="#b264ba"/><rect x="542.0" y="163.6" width="5.3" height="5.3" fill="#b870c0"/><rect x="547.0" y="163.6" width="10.3" height="5.3" fill="#bc78c4"/><rect x="557.0" y="163.6" width="5.3" height="5.3" fill="#ba72c2"/><rect x="562.0" y="163.6" width="5.3" height="5.3" fill="#b66abe"/><rect x="567.0" y="163.6" width="5.3" height="5.3" fill="#b060b8"/><rect x="572.0" y="163.6" width="10.3" height="5.3" fill="#ac58b4"/><rect x="582.0" y="163.6" width="5.3" height="5.3" fill="#b060b8"/><rect x="587.0" y="163.6" width="10.3" height="5.3" fill="#b66cbe"/><rect x="597.0" y="163.6" width="5.3" height="5.3" fill="#a64eae"/><rect x="602.0" y="163.6" width="5.3" height="5.3" fill="#962a9e"/><rect x="607.0" y="163.6" width="5.3" height="5.3" fill="#8e1694"/><rect x="612.0" y="163.6" width="5.3" height="5.3" fill="#8a0c90"/><rect x="617.0" y="163.6" width="10.3" height="5.3" fill="#8a0a90"/><rect x="627.0" y="163.6" width="5.3" height="5.3" fill="#8a0c90"/><rect x="632.0" y="163.6" width="5.3" height="5.3" fill="#8a0a90"/><rect x="637.0" y="163.6" width="5.3" height="5.3" fill="#8a0c90"/><rect x="642.0" y="163.6" width="5.3" height="5.3" fill="#8a0e90"/><rect x="647.0" y="163.6" width="5.3" height="5.3" fill="#8e1694"/><rect x="652.0" y="163.6" width="5.3" height="5.3" fill="#901c96"/><rect x="657.0" y="163.6" width="5.3" height="5.3" fill="#901a96"/><rect x="662.0" y="163.6" width="5.3" height="5.3" fill="#8c1292"/><rect x="667.0" y="163.6" width="10.3" height="5.3" fill="#8a0c90"/><rect x="477.0" y="168.6" width="5.3" height="5.3" fill="#b262ba"/><rect x="482.0" y="168.6" width="10.3" height="5.3" fill="#b060b8"/><rect x="492.0" y="168.6" width="5.3" height="5.3" fill="#b264ba"/><rect x="497.0" y="168.6" width="5.3" height="5.3" fill="#b468bc"/><rect x="502.0" y="168.6" width="5.3" height="5.3" fill="#b86ec0"/><rect x="507.0" y="168.6" width="5.3" height="5.3" fill="#bc7ac4"/><rect x="512.0" y="168.6" width="5.3" height="5.3" fill="#c288ca"/><rect x="517.0" y="168.6" width="10.3" height="5.3" fill="#ca98d2"/><rect x="527.0" y="168.6" width="5.3" height="5.3" fill="#c082c8"/><rect x="532.0" y="168.6" width="5.3" height="5.3" fill="#b86ec0"/><rect x="537.0" y="168.6" width="5.3" height="5.3" fill="#b466bc"/><rect x="542.0" y="168.6" width="5.3" height="5.3" fill="#b468bc"/><rect x="547.0" y="168.6" width="5.3" height="5.3" fill="#b66cbe"/><rect x="552.0" y="168.6" width="5.3" height="5.3" fill="#b66abe"/><rect x="557.0" y="168.6" width="5.3" height="5.3" fill="#b266ba"/><rect x="562.0" y="168.6" width="5.3" height="5.3" fill="#b05eb8"/><rect x="567.0" y="168.6" width="5.3" height="5.3" fill="#aa52b2"/><rect x="572.0" y="168.6" width="5.3" height="5.3" fill="#a244aa"/><rect x="577.0" y="168.6" width="5.3" height="5.3" fill="#a042a8"/><rect x="582.0" y="168.6" width="5.3" height="5.3" fill="#a64cae"/><rect x="587.0" y="168.6" width="5.3" height="5.3" fill="#ae5cb6"/><rect x="592.0" y="168.6" width="5.3" height="5.3" fill="#b262ba"/><rect x="597.0" y="168.6" width="5.3" height="5.3" fill="#a44aac"/><rect x="602.0" y="168.6" width="5.3" height="5.3" fill="#962c9e"/><rect x="607.0" y="168.6" width="5.3" height="5.3" fill="#8e1894"/><rect x="612.0" y="168.6" width="15.3" height="5.3" fill="#8a0a90"/><rect x="627.0" y="168.6" width="5.3" height="5.3" fill="#8a0c90"/><rect x="632.0" y="168.6" width="5.3" height="5.3" fill="#8a0a90"/><rect x="637.0" y="168.6" width="5.3" height="5.3" fill="#8a0c90"/><rect x="642.0" y="168.6" width="5.3" height="5.3" fill="#8a0e90"/><rect x="647.0" y="168.6" width="5.3" height="5.3" fill="#8c1292"/><rect x="652.0" y="168.6" width="5.3" height="5.3" fill="#8e1494"/><rect x="657.0" y="168.6" width="5.3" height="5.3" fill="#8c1292"/><rect x="662.0" y="168.6" width="5.3" height="5.3" fill="#8a0c90"/><rect x="667.0" y="168.6" width="10.3" height="5.3" fill="#8a0a90"/><rect x="497.0" y="173.6" width="5.3" height="5.3" fill="#b66abe"/><rect x="502.0" y="173.6" width="5.3" height="5.3" fill="#b870c0"/><rect x="507.0" y="173.6" width="5.3" height="5.3" fill="#bc7ac4"/><rect x="512.0" y="173.6" width="5.3" height="5.3" fill="#c288ca"/><rect x="517.0" y="173.6" width="10.3" height="5.3" fill="#c892d0"/><rect x="527.0" y="173.6" width="5.3" height="5.3" fill="#c082c8"/><rect x="532.0" y="173.6" width="5.3" height="5.3" fill="#ba74c2"/><rect x="537.0" y="173.6" width="5.3" height="5.3" fill="#b66abe"/><rect x="542.0" y="173.6" width="10.3" height="5.3" fill="#b466bc"/><rect x="552.0" y="173.6" width="5.3" height="5.3" fill="#b262ba"/><rect x="557.0" y="173.6" width="5.3" height="5.3" fill="#b05eb8"/><rect x="562.0" y="173.6" width="5.3" height="5.3" fill="#ac56b4"/><rect x="567.0" y="173.6" width="5.3" height="5.3" fill="#a84eb0"/><rect x="572.0" y="173.6" width="5.3" height="5.3" fill="#a040a8"/><rect x="577.0" y="173.6" width="5.3" height="5.3" fill="#982ea0"/><rect x="582.0" y="173.6" width="5.3" height="5.3" fill="#9c36a4"/><rect x="587.0" y="173.6" width="5.3" height="5.3" fill="#a244aa"/><rect x="592.0" y="173.6" width="5.3" height="5.3" fill="#a64aae"/><rect x="597.0" y="173.6" width="5.3" height="5.3" fill="#a040a8"/><rect x="602.0" y="173.6" width="5.3" height="5.3" fill="#962c9e"/><rect x="607.0" y="173.6" width="5.3" height="5.3" fill="#901a96"/><rect x="612.0" y="173.6" width="5.3" height="5.3" fill="#8a0e90"/><rect x="617.0" y="173.6" width="25.3" height="5.3" fill="#8a0a90"/><rect x="642.0" y="173.6" width="5.3" height="5.3" fill="#8a0c90"/><rect x="647.0" y="173.6" width="5.3" height="5.3" fill="#8a0e90"/><rect x="652.0" y="173.6" width="5.3" height="5.3" fill="#8a0c90"/><rect x="657.0" y="173.6" width="20.3" height="5.3" fill="#8a0a90"/><rect x="502.0" y="178.6" width="5.3" height="5.3" fill="#b872c0"/><rect x="507.0" y="178.6" width="5.3" height="5.3" fill="#bc78c4"/><rect x="512.0" y="178.6" width="5.3" height="5.3" fill="#c082c8"/><rect x="517.0" y="178.6" width="5.3" height="5.3" fill="#c288ca"/><rect x="522.0" y="178.6" width="5.3" height="5.3" fill="#c286ca"/><rect x="527.0" y="178.6" width="5.3" height="5.3" fill="#be7ec6"/><rect x="532.0" y="178.6" width="5.3" height="5.3" fill="#ba74c2"/><rect x="537.0" y="178.6" width="5.3" height="5.3" fill="#b66cbe"/><rect x="542.0" y="178.6" width="5.3" height="5.3" fill="#b466bc"/><rect x="547.0" y="178.6" width="5.3" height="5.3" fill="#b262ba"/><rect x="552.0" y="178.6" width="5.3" height="5.3" fill="#b060b8"/><rect x="557.0" y="178.6" width="5.3" height="5.3" fill="#ae5cb6"/><rect x="562.0" y="178.6" width="5.3" height="5.3" fill="#ac58b4"/><rect x="567.0" y="178.6" width="5.3" height="5.3" fill="#aa52b2"/><rect x="572.0" y="178.6" width="5.3" height="5.3" fill="#a448ac"/><rect x="577.0" y="178.6" width="5.3" height="5.3" fill="#9c38a4"/><rect x="582.0" y="178.6" width="5.3" height="5.3" fill="#982ca0"/><rect x="587.0" y="178.6" width="5.3" height="5.3" fill="#9c36a4"/><rect x="592.0" y="178.6" width="5.3" height="5.3" fill="#9e3ca6"/><rect x="597.0" y="178.6" width="5.3" height="5.3" fill="#9c38a4"/><rect x="602.0" y="178.6" width="5.3" height="5.3" fill="#962c9e"/><rect x="607.0" y="178.6" width="5.3" height="5.3" fill="#922098"/><rect x="612.0" y="178.6" width="5.3" height="5.3" fill="#8c1492"/><rect x="617.0" y="178.6" width="5.3" height="5.3" fill="#8a0c90"/><rect x="622.0" y="178.6" width="20.3" height="5.3" fill="#8a0a90"/><rect x="642.0" y="178.6" width="15.3" height="5.3" fill="#8a0c90"/><rect x="657.0" y="178.6" width="5.3" height="5.3" fill="#8a0a90"/><rect x="662.0" y="178.6" width="5.3" height="5.3" fill="#8c0894"/><rect x="667.0" y="178.6" width="5.3" height="5.3" fill="#8c0892"/><rect x="672.0" y="178.6" width="5.3" height="5.3" fill="#8a0a92"/><rect x="517.0" y="183.6" width="5.3" height="5.3" fill="#be7ec6"/><rect x="522.0" y="183.6" width="5.3" height="5.3" fill="#be7cc6"/><rect x="527.0" y="183.6" width="5.3" height="5.3" fill="#bc78c4"/><rect x="537.0" y="183.6" width="5.3" height="5.3" fill="#b66abe"/><rect x="542.0" y="183.6" width="5.3" height="5.3" fill="#b266ba"/><rect x="547.0" y="183.6" width="5.3" height="5.3" fill="#b262ba"/><rect x="552.0" y="183.6" width="5.3" height="5.3" fill="#b05eb8"/><rect x="557.0" y="183.6" width="5.3" height="5.3" fill="#ae5cb6"/><rect x="562.0" y="183.6" width="10.3" height="5.3" fill="#ae5ab6"/><rect x="572.0" y="183.6" width="5.3" height="5.3" fill="#ac58b4"/><rect x="577.0" y="183.6" width="5.3" height="5.3" fill="#a242aa"/><rect x="582.0" y="183.6" width="5.3" height="5.3" fill="#9c36a4"/><rect x="587.0" y="183.6" width="5.3" height="5.3" fill="#9a34a2"/><rect x="592.0" y="183.6" width="5.3" height="5.3" fill="#9a36a2"/><rect x="597.0" y="183.6" width="5.3" height="5.3" fill="#9a32a2"/><rect x="602.0" y="183.6" width="5.3" height="5.3" fill="#982ea0"/><rect x="607.0" y="183.6" width="5.3" height="5.3" fill="#94229a"/><rect x="612.0" y="183.6" width="5.3" height="5.3" fill="#8e1694"/><rect x="617.0" y="183.6" width="5.3" height="5.3" fill="#8a0e90"/><rect x="622.0" y="183.6" width="5.3" height="5.3" fill="#8a0c90"/><rect x="627.0" y="183.6" width="15.3" height="5.3" fill="#8a0a90"/><rect x="642.0" y="183.6" width="15.3" height="5.3" fill="#8a0c90"/><rect x="657.0" y="183.6" width="5.3" height="5.3" fill="#8a0a90"/><rect x="662.0" y="183.6" width="5.3" height="5.3" fill="#8a0a92"/><rect x="667.0" y="183.6" width="10.3" height="5.3" fill="#8c0892"/><rect x="537.0" y="188.6" width="5.3" height="5.3" fill="#b468bc"/><rect x="542.0" y="188.6" width="5.3" height="5.3" fill="#b264ba"/><rect x="547.0" y="188.6" width="5.3" height="5.3" fill="#b060b8"/><rect x="552.0" y="188.6" width="5.3" height="5.3" fill="#b05cb8"/><rect x="557.0" y="188.6" width="10.3" height="5.3" fill="#ae5ab6"/><rect x="567.0" y="188.6" width="5.3" height="5.3" fill="#ac58b4"/><rect x="572.0" y="188.6" width="5.3" height="5.3" fill="#aa52b2"/><rect x="577.0" y="188.6" width="5.3" height="5.3" fill="#a446ac"/><rect x="582.0" y="188.6" width="5.3" height="5.3" fill="#9e3ca6"/><rect x="587.0" y="188.6" width="5.3" height="5.3" fill="#9c36a4"/><rect x="592.0" y="188.6" width="5.3" height="5.3" fill="#9a32a2"/><rect x="597.0" y="188.6" width="5.3" height="5.3" fill="#982ea0"/><rect x="602.0" y="188.6" width="5.3" height="5.3" fill="#962a9e"/><rect x="607.0" y="188.6" width="5.3" height="5.3" fill="#92229a"/><rect x="612.0" y="188.6" width="5.3" height="5.3" fill="#8e1894"/><rect x="617.0" y="188.6" width="5.3" height="5.3" fill="#8c1292"/><rect x="622.0" y="188.6" width="5.3" height="5.3" fill="#8a0c90"/><rect x="627.0" y="188.6" width="15.3" height="5.3" fill="#8a0a90"/><rect x="642.0" y="188.6" width="15.3" height="5.3" fill="#8a0c90"/><rect x="657.0" y="188.6" width="10.3" height="5.3" fill="#8a0a90"/><rect x="667.0" y="188.6" width="10.3" height="5.3" fill="#8a0a92"/><rect x="542.0" y="193.6" width="5.3" height="5.3" fill="#b060b8"/><rect x="557.0" y="193.6" width="5.3" height="5.3" fill="#ac58b4"/><rect x="562.0" y="193.6" width="5.3" height="5.3" fill="#ac56b4"/><rect x="567.0" y="193.6" width="5.3" height="5.3" fill="#aa52b2"/><rect x="572.0" y="193.6" width="5.3" height="5.3" fill="#a64eae"/><rect x="577.0" y="193.6" width="5.3" height="5.3" fill="#a246aa"/><rect x="582.0" y="193.6" width="5.3" height="5.3" fill="#9e3ca6"/><rect x="587.0" y="193.6" width="5.3" height="5.3" fill="#9c36a4"/><rect x="592.0" y="193.6" width="5.3" height="5.3" fill="#9830a0"/><rect x="597.0" y="193.6" width="5.3" height="5.3" fill="#962c9e"/><rect x="602.0" y="193.6" width="5.3" height="5.3" fill="#94269c"/><rect x="607.0" y="193.6" width="5.3" height="5.3" fill="#922098"/><rect x="612.0" y="193.6" width="5.3" height="5.3" fill="#8e1894"/><rect x="617.0" y="193.6" width="5.3" height="5.3" fill="#8c1292"/><rect x="622.0" y="193.6" width="5.3" height="5.3" fill="#8a0e90"/><rect x="627.0" y="193.6" width="5.3" height="5.3" fill="#8a0c90"/><rect x="642.0" y="193.6" width="10.3" height="5.3" fill="#8a0c90"/><rect x="652.0" y="193.6" width="20.3" height="5.3" fill="#8a0a90"/><rect x="672.0" y="193.6" width="5.3" height="5.3" fill="#8a0a92"/><rect x="567.0" y="198.6" width="5.3" height="5.3" fill="#a84eb0"/><rect x="592.0" y="198.6" width="5.3" height="5.3" fill="#982ea0"/><rect x="597.0" y="198.6" width="5.3" height="5.3" fill="#96289e"/><rect x="602.0" y="198.6" width="5.3" height="5.3" fill="#94249a"/><rect x="612.0" y="198.6" width="5.3" height="5.3" fill="#8e1894"/><rect x="647.0" y="198.6" width="30.3" height="5.3" fill="#8a0a90"/><rect x="657.0" y="203.6" width="5.3" height="5.3" fill="#8a0a90"/></g></g><path d="M479.0,73.9 L503.4,73.9M503.4,73.9 L503.4,65.3 L502.0,61.1 L498.5,56.9M492.6,73.9 L492.6,91.9M492.6,91.9 L570.0,91.9M503.4,65.3 L506.8,66.6 L511.0,69.4 L513.8,73.6 L514.8,77.7 L518.7,78.7 L523.6,81.9 L527.8,82.3 L529.6,79.8M514.8,77.7 L514.8,91.9M529.6,56.5 L529.6,79.8M529.6,79.5 L544.5,79.5M544.5,56.5 L544.5,91.9M544.5,73.9 L577.3,73.9M566.1,56.5 L566.1,91.9M500.6,95.1 L500.6,113.4M500.6,106.9 L526.4,106.9M526.4,91.9 L526.4,113.4M540.3,91.9 L540.3,111.0M537.5,111.0 L577.3,111.0M559.8,91.9 L559.8,113.4M479.0,104.1 L481.7,100.6 L484.5,98.6 L486.3,99.9 L487.3,103.4 L490.8,105.5 L494.3,104.1 L497.1,100.6 L500.6,97.2M570.0,91.9 L570.0,98.1 L577.3,100.9M500.8,103.9 L500.8,136.5M526.6,103.9 L526.6,146.2M501.3,121.2 L526.4,121.2M479.7,123.3 L493.6,123.3 L493.6,119.8 L501.3,119.8M486.6,136.5 L526.4,136.5M486.6,136.5 L486.6,140.0 L483.1,140.7 L483.1,143.4 L488.7,145.5 L488.7,151.8 L497.8,152.5 L498.5,149.0 L501.3,148.3M499.9,137.2 L502.7,141.4 L502.0,145.5 L506.1,148.3 L506.8,151.8 L510.3,153.8 L511.0,157.3 L514.5,156.6 L514.5,163.8M490.8,152.5 L490.8,163.8M519.4,146.9 L545.2,146.9M519.4,146.9 L519.4,163.8M537.5,110.8 L537.5,125.0 L559.8,125.0M559.8,103.9 L559.8,146.9M545.2,125.0 L545.2,154.5M543.1,154.5 L563.3,154.5M543.1,154.5 L543.1,163.8M563.3,154.5 L563.3,163.8M559.8,146.9 L577.3,146.9M559.8,126.1 L566.1,131.6 L569.6,138.6 L574.5,144.1 L577.3,145.5M490.8,152.1 L490.8,166.0M490.8,152.1 L498.5,152.1 L498.5,148.6M505.5,162.5 L506.8,159.0 L511.0,156.9 L511.0,154.2 L514.5,155.5 L514.5,148.6M518.7,148.6 L518.7,158.3 L525.0,159.0 L525.0,166.6M525.0,166.6 L529.8,165.3 L536.8,163.2 L543.1,161.8M543.1,154.4 L563.3,154.4M543.1,154.4 L543.1,170.8 L563.3,170.8M563.3,154.4 L563.3,181.2M525.0,166.6 L527.1,175.0M563.3,179.4 L577.3,179.8M569.6,162.5 L577.3,166.6M591.4,56.5 L591.4,65.3 L588.3,67.3 L582.7,70.1 L580.7,70.8 L581.4,74.3M581.4,74.3 L585.5,75.7 L582.7,78.4 L587.6,79.1 L590.4,75.7 L593.2,78.4 L595.3,81.9 L598.8,82.6 L600.2,86.1 L604.4,88.2 L607.8,90.9M584.8,79.1 L584.8,88.2 L574.4,88.2M574.4,100.6 L596.0,100.6M596.0,92.3 L596.0,113.4M596.0,92.3 L607.1,92.3M616.9,56.5 L616.9,92.3M623.2,56.5 L623.2,90.9M623.2,73.6 L639.9,73.6M637.1,56.5 L637.1,73.6M651.1,56.5 L651.1,92.3M635.7,77.7 L651.1,77.7M635.7,77.7 L635.7,90.9M651.1,70.8 L664.3,70.8M639.9,73.6 L639.9,77.7M651.1,92.3 L670.6,92.3M658.0,92.3 L658.0,113.4M606.5,92.3 L606.5,95.1 L615.5,95.1 L615.5,104.8 L610.6,104.8 L610.6,113.4M626.0,92.3 L626.0,106.2 L646.9,106.9M632.2,95.1 L642.7,95.1 L644.1,99.3 L641.3,102.0 L642.7,106.2M607.1,92.3 L626.0,92.3M596.0,103.9 L596.0,121.2M577.2,121.2 L596.0,121.2M596.0,115.0 L610.6,115.0M610.6,105.3 L610.6,117.8 L614.1,117.8 L614.1,125.4 L617.6,125.4M577.2,103.9 L577.2,144.1M590.4,124.0 L595.3,123.3 L600.9,121.9 L600.9,145.5M590.4,124.0 L590.4,144.1M601.6,128.9 L617.6,128.9M617.6,117.8 L617.6,133.7M610.6,105.3 L627.4,105.3M627.4,107.4 L627.4,117.8M622.5,119.2 L639.2,117.8 L639.9,126.1M614.8,137.2 L619.0,133.7 L624.6,133.0 L630.2,130.3 L635.7,127.5 L639.2,126.1M627.4,107.4 L646.9,107.4 L646.9,119.2M639.9,126.1 L639.9,137.9M644.1,126.1 L648.3,121.9 L652.5,124.7 L658.0,125.4 L663.6,128.2 L670.6,124.7M635.7,128.9 L635.7,138.6 L655.2,137.9 L655.2,131.6 L658.0,127.5M654.6,138.6 L654.6,144.1 L650.4,144.1 L650.4,155.2M614.1,137.2 L614.1,153.8 L620.4,154.5 L621.1,157.3 L634.3,157.3 L634.3,138.6M599.5,151.1 L614.1,151.1M599.5,151.1 L599.5,163.8M584.1,144.1 L584.1,155.2 L574.4,155.9M574.4,144.1 L603.0,144.1 L603.0,151.1M658.0,103.9 L658.0,114.3M648.3,114.3 L670.6,114.3M599.5,151.4 L613.4,151.4M599.5,151.4 L599.5,164.6 L612.7,164.6 L612.7,161.1M575.8,156.9 L587.6,156.9 L587.6,161.8M586.2,161.8 L586.2,168.0 L577.2,168.0M603.0,164.6 L603.0,176.4M603.0,176.4 L645.5,176.4M595.3,177.7 L597.4,183.3M624.6,161.8 L634.3,158.3M624.6,161.8 L624.6,176.4M619.0,176.4 L619.7,185.4M650.4,161.8 L650.4,172.9 L645.5,172.9 L645.5,182.6M650.4,161.8 L670.6,161.8M634.3,154.2 L634.3,158.3 L621.1,158.3 L621.1,151.4 L614.1,151.4M650.4,148.6 L650.4,154.9 L653.9,154.9 L653.9,161.8M408.4,56.6 L408.4,77.6M446.2,56.6 L446.2,77.6" clip-path="url(#ok)" fill="none" stroke="#3a2a4a" stroke-opacity="0.5" stroke-width="0.45"/><path d="M375.1,56.6 L664.8,56.6 L665.5,82.7 L669.7,115.3 L670.4,140.0 L670.4,183.0 L669.0,198.7 L665.9,197.7 L660.1,195.8 L654.3,192.9 L648.5,187.8 L644.1,184.9 L638.3,187.0 L631.0,186.3 L625.2,188.5 L619.4,189.2 L613.6,190.7 L609.2,192.9 L604.9,195.0 L600.5,192.2 L597.6,188.5 L593.3,188.5 L587.4,189.2 L583.8,187.0 L580.9,192.2 L577.3,193.6 L575.8,190.0 L571.7,188.7 L567.4,186.5 L563.0,183.6 L557.2,185.8 L552.0,188.7 L545.6,182.9 L544.0,178.5 L541.2,177.5 L535.4,177.0 L531.0,180.0 L525.2,177.0 L519.4,176.3 L513.6,173.4 L507.0,172.7 L505.6,167.6 L501.2,165.0 L499.0,165.9 L493.3,167.3 L488.9,166.6 L484.5,162.5 L478.7,159.6 L478.7,77.6 L375.1,77.6Z" fill="none" stroke="#55555f" stroke-width="0.7"/><g class="lb" font-size="4.8"><text x="379.4" y="64.2">-22</text><text x="393.4" y="71.2">-21</text><text x="417.4" y="60.7">-21</text><text x="436.4" y="63.7">-17</text><text x="423.9" y="75.2">-19</text><text x="461.4" y="66.2">-16</text><text x="470.4" y="75.2">-16</text><text x="492.4" y="65.2">-13</text><text x="513.9" y="58.7">-15</text><text x="509.4" y="69.4">-11</text><text x="524.0" y="70.1">-11</text><text x="536.1" y="68.7">-14</text><text x="499.7" y="82.3">-12</text><text x="512.8" y="92.3">-14</text><text x="544.7" y="84.0">-10</text><text x="483.4" y="97.4">-12</text><text x="502.1" y="99.2">-12</text><text x="515.7" y="104.8">-8</text><text x="530.6" y="107.3">-9</text><text x="550.0" y="106.5">-10</text><text x="562.4" y="95.8">-10</text><text x="572.2" y="93.4">-13</text><text x="566.7" y="106.9">-8</text><text x="574.4" y="97.9">-8</text><text x="489.2" y="119.7">-9</text><text x="505.3" y="118.0">-8</text><text x="522.2" y="121.2">-6</text><text x="532.0" y="122.2">-8</text><text x="547.2" y="119.7">-12</text><text x="557.0" y="119.4">-9</text><text x="572.9" y="119.4">-8</text><text x="568.8" y="124.0">-6</text><text x="512.2" y="126.1">-7</text><text x="500.3" y="128.4">-7</text><text x="486.4" y="134.4">-8</text><text x="550.0" y="131.2">-6</text><text x="567.4" y="132.6">-6</text><text x="532.7" y="136.1">-6</text><text x="551.4" y="139.3">-7</text><text x="565.3" y="143.0">-7</text><text x="512.2" y="143.0">-6</text><text x="538.5" y="146.5">-7</text><text x="499.7" y="149.7">-10</text><text x="548.6" y="150.6">-9</text><text x="528.9" y="154.1">-7</text><text x="485.4" y="155.8">-4</text><text x="502.5" y="159.7">-5</text><text x="557.0" y="162.5">-6</text><text x="509.7" y="166.6">-5</text><text x="522.9" y="174.7">-7</text><text x="537.2" y="167.7">-4</text><text x="562.5" y="176.1">-4</text><text x="574.3" y="188.6">-4</text><text x="621.6" y="61.5">-6</text><text x="631.0" y="68.7">-12</text><text x="644.2" y="67.3">-10</text><text x="657.8" y="62.5">-7</text><text x="626.6" y="76.3">-8</text><text x="659.5" y="80.1">-7</text><text x="642.8" y="84.7">-7</text><text x="616.5" y="82.6">-6</text><text x="577.6" y="85.4">-13</text><text x="591.5" y="85.4">-10</text><text x="619.9" y="92.0">-4</text><text x="636.6" y="94.0">-8</text><text x="581.7" y="94.4">-9</text><text x="582.4" y="100.4">-7</text><text x="600.5" y="99.5">-9</text><text x="622.3" y="102.0">-5</text><text x="652.6" y="101.3">-11</text><text x="664.8" y="100.4">-7</text><text x="617.6" y="107.2">-5</text><text x="633.1" y="107.2">-4</text><text x="605.6" y="109.7">-8</text><text x="630.3" y="111.8">-6</text><text x="657.4" y="113.4">-5</text><text x="590.1" y="114.5">-6</text><text x="620.6" y="118.4">-8</text><text x="647.7" y="122.2">-6</text><text x="659.5" y="124.2">-5</text><text x="608.8" y="124.2">-6</text><text x="585.2" y="127.3">-6</text><text x="629.2" y="130.5">-3</text><text x="645.9" y="131.6">-1</text><text x="593.5" y="135.4">-5</text><text x="605.6" y="139.5">-5</text><text x="663.0" y="143.0">-1</text><text x="615.1" y="147.6">-4</text><text x="625.5" y="147.5">-3</text><text x="640.3" y="146.8">-2</text><text x="583.8" y="147.5">-5</text><text x="595.3" y="150.9">-4</text><text x="651.5" y="154.8">-3</text><text x="641.0" y="156.5">1</text><text x="606.5" y="159.0">-1</text><text x="584.8" y="160.8">-5</text><text x="593.5" y="161.5">-5</text><text x="594.2" y="171.2">-5</text><text x="576.2" y="172.3">-3</text><text x="580.6" y="178.1">-2</text><text x="585.2" y="183.0">-2</text><text x="607.0" y="187.6">-2</text><text x="617.8" y="171.5">1</text><text x="628.7" y="174.4">0</text><text x="643.3" y="175.0">0</text><text x="657.7" y="171.5">-1</text><text x="633.5" y="182.7">1</text><text x="665.1" y="182.6">2</text><text x="648.0" y="186.9">0</text><text x="655.8" y="191.1">0</text></g><rect x="421.5" y="85.3" width="8.5" height="72" fill="url(#cbg)"/><line x1="420.0" y1="85.3" x2="421.5" y2="85.3" stroke="#444" stroke-width="0.5"/><text x="419.3" y="86.7" font-size="3.9" text-anchor="end" fill="#111">120</text><line x1="420.0" y1="95.6" x2="421.5" y2="95.6" stroke="#444" stroke-width="0.5"/><text x="419.3" y="97.0" font-size="3.9" text-anchor="end" fill="#111">100</text><line x1="420.0" y1="105.9" x2="421.5" y2="105.9" stroke="#444" stroke-width="0.5"/><text x="419.3" y="107.3" font-size="3.9" text-anchor="end" fill="#111">80</text><line x1="420.0" y1="116.2" x2="421.5" y2="116.2" stroke="#444" stroke-width="0.5"/><text x="419.3" y="117.6" font-size="3.9" text-anchor="end" fill="#111">60</text><line x1="420.0" y1="126.4" x2="421.5" y2="126.4" stroke="#444" stroke-width="0.5"/><text x="419.3" y="127.8" font-size="3.9" text-anchor="end" fill="#111">40</text><line x1="420.0" y1="136.7" x2="421.5" y2="136.7" stroke="#444" stroke-width="0.5"/><text x="419.3" y="138.1" font-size="3.9" text-anchor="end" fill="#111">20</text><line x1="420.0" y1="147.0" x2="421.5" y2="147.0" stroke="#444" stroke-width="0.5"/><text x="419.3" y="148.4" font-size="3.9" text-anchor="end" fill="#111">0</text><line x1="420.0" y1="157.3" x2="421.5" y2="157.3" stroke="#444" stroke-width="0.5"/><text x="419.3" y="158.7" font-size="3.9" text-anchor="end" fill="#111">-20</text><text transform="translate(410.6,140.1) rotate(-90)" font-size="4.21" textLength="37.7" lengthAdjust="spacingAndGlyphs" fill="#111">degrees Fahrenheit</text><g transform="translate(-23.80,178.81) scale(1.046,1.051)"><g clip-path="url(#ok)"><g filter="url(#bl)"><rect x="367.0" y="48.6" width="5.3" height="5.3" fill="#dc68e4"/><rect x="372.0" y="48.6" width="5.3" height="5.3" fill="#d65ede"/><rect x="377.0" y="48.6" width="5.3" height="5.3" fill="#c84ad0"/><rect x="382.0" y="48.6" width="5.3" height="5.3" fill="#b436bc"/><rect x="387.0" y="48.6" width="5.3" height="5.3" fill="#a828b0"/><rect x="392.0" y="48.6" width="10.3" height="5.3" fill="#a222aa"/><rect x="402.0" y="48.6" width="5.3" height="5.3" fill="#a424ac"/><rect x="407.0" y="48.6" width="5.3" height="5.3" fill="#a82ab0"/><rect x="412.0" y="48.6" width="5.3" height="5.3" fill="#ac2eb4"/><rect x="417.0" y="48.6" width="5.3" height="5.3" fill="#b032b8"/><rect x="422.0" y="48.6" width="5.3" height="5.3" fill="#b436bc"/><rect x="427.0" y="48.6" width="5.3" height="5.3" fill="#b83ac0"/><rect x="432.0" y="48.6" width="5.3" height="5.3" fill="#ba3cc2"/><rect x="437.0" y="48.6" width="10.3" height="5.3" fill="#bc3ec4"/><rect x="447.0" y="48.6" width="10.3" height="5.3" fill="#be40c6"/><rect x="457.0" y="48.6" width="10.3" height="5.3" fill="#bc3ec4"/><rect x="467.0" y="48.6" width="10.3" height="5.3" fill="#ba3cc2"/><rect x="477.0" y="48.6" width="5.3" height="5.3" fill="#be40c6"/><rect x="482.0" y="48.6" width="5.3" height="5.3" fill="#c244ca"/><rect x="487.0" y="48.6" width="5.3" height="5.3" fill="#c64ace"/><rect x="492.0" y="48.6" width="5.3" height="5.3" fill="#c84cd0"/><rect x="497.0" y="48.6" width="5.3" height="5.3" fill="#ca4ed2"/><rect x="502.0" y="48.6" width="5.3" height="5.3" fill="#c84ed0"/><rect x="507.0" y="48.6" width="5.3" height="5.3" fill="#c448cc"/><rect x="512.0" y="48.6" width="10.3" height="5.3" fill="#be40c6"/><rect x="522.0" y="48.6" width="5.3" height="5.3" fill="#bc3ec4"/><rect x="527.0" y="48.6" width="5.3" height="5.3" fill="#ba3cc2"/><rect x="532.0" y="48.6" width="5.3" height="5.3" fill="#b638be"/><rect x="537.0" y="48.6" width="5.3" height="5.3" fill="#b234ba"/><rect x="542.0" y="48.6" width="5.3" height="5.3" fill="#ae30b6"/><rect x="547.0" y="48.6" width="5.3" height="5.3" fill="#aa2cb2"/><rect x="552.0" y="48.6" width="5.3" height="5.3" fill="#a626ae"/><rect x="557.0" y="48.6" width="5.3" height="5.3" fill="#a222aa"/><rect x="562.0" y="48.6" width="5.3" height="5.3" fill="#9e1ea6"/><rect x="567.0" y="48.6" width="5.3" height="5.3" fill="#9c1ca4"/><rect x="572.0" y="48.6" width="25.3" height="5.3" fill="#9a1aa2"/><rect x="597.0" y="48.6" width="10.3" height="5.3" fill="#9c1ca4"/><rect x="607.0" y="48.6" width="5.3" height="5.3" fill="#9e1ea6"/><rect x="612.0" y="48.6" width="25.3" height="5.3" fill="#a020a8"/><rect x="637.0" y="48.6" width="10.3" height="5.3" fill="#9e1ea6"/><rect x="647.0" y="48.6" width="5.3" height="5.3" fill="#9c1ca4"/><rect x="652.0" y="48.6" width="20.3" height="5.3" fill="#9a1aa2"/><rect x="367.0" y="53.6" width="5.3" height="5.3" fill="#e06ce8"/><rect x="372.0" y="53.6" width="5.3" height="5.3" fill="#dc68e4"/><rect x="377.0" y="53.6" width="5.3" height="5.3" fill="#c84cd0"/><rect x="382.0" y="53.6" width="5.3" height="5.3" fill="#ae30b6"/><rect x="387.0" y="53.6" width="5.3" height="5.3" fill="#a020a8"/><rect x="392.0" y="53.6" width="10.3" height="5.3" fill="#9e1ea6"/><rect x="402.0" y="53.6" width="5.3" height="5.3" fill="#a222aa"/><rect x="407.0" y="53.6" width="5.3" height="5.3" fill="#a628ae"/><rect x="412.0" y="53.6" width="5.3" height="5.3" fill="#ac2eb4"/><rect x="417.0" y="53.6" width="5.3" height="5.3" fill="#b234ba"/><rect x="422.0" y="53.6" width="5.3" height="5.3" fill="#b638be"/><rect x="427.0" y="53.6" width="5.3" height="5.3" fill="#ba3cc2"/><rect x="432.0" y="53.6" width="5.3" height="5.3" fill="#bc3ec4"/><rect x="437.0" y="53.6" width="25.3" height="5.3" fill="#be40c6"/><rect x="462.0" y="53.6" width="5.3" height="5.3" fill="#ba3cc2"/><rect x="467.0" y="53.6" width="10.3" height="5.3" fill="#b83ac0"/><rect x="477.0" y="53.6" width="5.3" height="5.3" fill="#bc3ec4"/><rect x="482.0" y="53.6" width="5.3" height="5.3" fill="#c244ca"/><rect x="487.0" y="53.6" width="5.3" height="5.3" fill="#c84cd0"/><rect x="492.0" y="53.6" width="5.3" height="5.3" fill="#cc52d4"/><rect x="497.0" y="53.6" width="10.3" height="5.3" fill="#d056d8"/><rect x="507.0" y="53.6" width="5.3" height="5.3" fill="#ce54d6"/><rect x="512.0" y="53.6" width="5.3" height="5.3" fill="#c044c8"/><rect x="517.0" y="53.6" width="5.3" height="5.3" fill="#c446cc"/><rect x="522.0" y="53.6" width="5.3" height="5.3" fill="#c244ca"/><rect x="527.0" y="53.6" width="5.3" height="5.3" fill="#be40c6"/><rect x="532.0" y="53.6" width="5.3" height="5.3" fill="#ba3cc2"/><rect x="537.0" y="53.6" width="5.3" height="5.3" fill="#b638be"/><rect x="542.0" y="53.6" width="5.3" height="5.3" fill="#b032b8"/><rect x="547.0" y="53.6" width="5.3" height="5.3" fill="#ac2cb4"/><rect x="552.0" y="53.6" width="5.3" height="5.3" fill="#a628ae"/><rect x="557.0" y="53.6" width="5.3" height="5.3" fill="#a222aa"/><rect x="562.0" y="53.6" width="5.3" height="5.3" fill="#9e1ea6"/><rect x="567.0" y="53.6" width="5.3" height="5.3" fill="#9c1ca4"/><rect x="572.0" y="53.6" width="20.3" height="5.3" fill="#9a1aa2"/><rect x="592.0" y="53.6" width="10.3" height="5.3" fill="#9c1ca4"/><rect x="602.0" y="53.6" width="5.3" height="5.3" fill="#9e1ea6"/><rect x="607.0" y="53.6" width="10.3" height="5.3" fill="#a020a8"/><rect x="617.0" y="53.6" width="15.3" height="5.3" fill="#a222aa"/><rect x="632.0" y="53.6" width="15.3" height="5.3" fill="#a020a8"/><rect x="647.0" y="53.6" width="5.3" height="5.3" fill="#9e1ea6"/><rect x="652.0" y="53.6" width="20.3" height="5.3" fill="#9a1aa2"/><rect x="367.0" y="58.6" width="5.3" height="5.3" fill="#e06ce8"/><rect x="372.0" y="58.6" width="5.3" height="5.3" fill="#d862e0"/><rect x="377.0" y="58.6" width="5.3" height="5.3" fill="#c042c8"/><rect x="382.0" y="58.6" width="5.3" height="5.3" fill="#ac2cb4"/><rect x="387.0" y="58.6" width="5.3" height="5.3" fill="#9e1ea6"/><rect x="392.0" y="58.6" width="5.3" height="5.3" fill="#9a1aa2"/><rect x="397.0" y="58.6" width="5.3" height="5.3" fill="#9c1ca4"/><rect x="402.0" y="58.6" width="5.3" height="5.3" fill="#a020a8"/><rect x="407.0" y="58.6" width="5.3" height="5.3" fill="#a626ae"/><rect x="412.0" y="58.6" width="5.3" height="5.3" fill="#ac2eb4"/><rect x="417.0" y="58.6" width="5.3" height="5.3" fill="#b234ba"/><rect x="422.0" y="58.6" width="5.3" height="5.3" fill="#b83ac0"/><rect x="427.0" y="58.6" width="5.3" height="5.3" fill="#bc3ec4"/><rect x="432.0" y="58.6" width="5.3" height="5.3" fill="#be40c6"/><rect x="437.0" y="58.6" width="20.3" height="5.3" fill="#c042c8"/><rect x="457.0" y="58.6" width="5.3" height="5.3" fill="#be40c6"/><rect x="462.0" y="58.6" width="5.3" height="5.3" fill="#ba3cc2"/><rect x="467.0" y="58.6" width="10.3" height="5.3" fill="#b234ba"/><rect x="477.0" y="58.6" width="5.3" height="5.3" fill="#b638be"/><rect x="482.0" y="58.6" width="5.3" height="5.3" fill="#c042c8"/><rect x="487.0" y="58.6" width="5.3" height="5.3" fill="#ca4ed2"/><rect x="492.0" y="58.6" width="5.3" height="5.3" fill="#d056d8"/><rect x="497.0" y="58.6" width="5.3" height="5.3" fill="#d258da"/><rect x="502.0" y="58.6" width="5.3" height="5.3" fill="#d65ede"/><rect x="507.0" y="58.6" width="5.3" height="5.3" fill="#de6ce6"/><rect x="512.0" y="58.6" width="5.3" height="5.3" fill="#d65ede"/><rect x="517.0" y="58.6" width="5.3" height="5.3" fill="#cc52d4"/><rect x="522.0" y="58.6" width="5.3" height="5.3" fill="#c84cd0"/><rect x="527.0" y="58.6" width="5.3" height="5.3" fill="#c446cc"/><rect x="532.0" y="58.6" width="5.3" height="5.3" fill="#be40c6"/><rect x="537.0" y="58.6" width="5.3" height="5.3" fill="#b83ac0"/><rect x="542.0" y="58.6" width="5.3" height="5.3" fill="#b032b8"/><rect x="547.0" y="58.6" width="5.3" height="5.3" fill="#ac2cb4"/><rect x="552.0" y="58.6" width="5.3" height="5.3" fill="#a626ae"/><rect x="557.0" y="58.6" width="5.3" height="5.3" fill="#a222aa"/><rect x="562.0" y="58.6" width="5.3" height="5.3" fill="#9e1ea6"/><rect x="567.0" y="58.6" width="20.3" height="5.3" fill="#9a1aa2"/><rect x="587.0" y="58.6" width="5.3" height="5.3" fill="#9c1ca4"/><rect x="592.0" y="58.6" width="10.3" height="5.3" fill="#9e1ea6"/><rect x="602.0" y="58.6" width="5.3" height="5.3" fill="#a020a8"/><rect x="607.0" y="58.6" width="10.3" height="5.3" fill="#a222aa"/><rect x="617.0" y="58.6" width="10.3" height="5.3" fill="#a424ac"/><rect x="627.0" y="58.6" width="20.3" height="5.3" fill="#a222aa"/><rect x="647.0" y="58.6" width="5.3" height="5.3" fill="#9e1ea6"/><rect x="652.0" y="58.6" width="5.3" height="5.3" fill="#9c1ca4"/><rect x="657.0" y="58.6" width="15.3" height="5.3" fill="#9a1aa2"/><rect x="367.0" y="63.6" width="5.3" height="5.3" fill="#de6ae6"/><rect x="372.0" y="63.6" width="5.3" height="5.3" fill="#d25ada"/><rect x="377.0" y="63.6" width="5.3" height="5.3" fill="#be40c6"/><rect x="382.0" y="63.6" width="5.3" height="5.3" fill="#ac2eb4"/><rect x="387.0" y="63.6" width="5.3" height="5.3" fill="#a020a8"/><rect x="392.0" y="63.6" width="5.3" height="5.3" fill="#9a1aa2"/><rect x="397.0" y="63.6" width="5.3" height="5.3" fill="#9c1ca4"/><rect x="402.0" y="63.6" width="5.3" height="5.3" fill="#a020a8"/><rect x="407.0" y="63.6" width="5.3" height="5.3" fill="#a626ae"/><rect x="412.0" y="63.6" width="5.3" height="5.3" fill="#ac2eb4"/><rect x="417.0" y="63.6" width="5.3" height="5.3" fill="#b436bc"/><rect x="422.0" y="63.6" width="5.3" height="5.3" fill="#ba3cc2"/><rect x="427.0" y="63.6" width="5.3" height="5.3" fill="#be40c6"/><rect x="432.0" y="63.6" width="15.3" height="5.3" fill="#c042c8"/><rect x="447.0" y="63.6" width="10.3" height="5.3" fill="#be40c6"/><rect x="457.0" y="63.6" width="5.3" height="5.3" fill="#bc3ec4"/><rect x="462.0" y="63.6" width="5.3" height="5.3" fill="#b436bc"/><rect x="467.0" y="63.6" width="5.3" height="5.3" fill="#ac2eb4"/><rect x="472.0" y="63.6" width="5.3" height="5.3" fill="#aa2cb2"/><rect x="477.0" y="63.6" width="5.3" height="5.3" fill="#b032b8"/><rect x="482.0" y="63.6" width="5.3" height="5.3" fill="#ba3cc2"/><rect x="487.0" y="63.6" width="5.3" height="5.3" fill="#c448cc"/><rect x="492.0" y="63.6" width="5.3" height="5.3" fill="#ca50d2"/><rect x="497.0" y="63.6" width="5.3" height="5.3" fill="#cc52d4"/><rect x="502.0" y="63.6" width="5.3" height="5.3" fill="#d056d8"/><rect x="507.0" y="63.6" width="10.3" height="5.3" fill="#d45cdc"/><rect x="517.0" y="63.6" width="5.3" height="5.3" fill="#d258da"/><rect x="522.0" y="63.6" width="5.3" height="5.3" fill="#ce52d6"/><rect x="527.0" y="63.6" width="5.3" height="5.3" fill="#c64ace"/><rect x="532.0" y="63.6" width="5.3" height="5.3" fill="#c042c8"/><rect x="537.0" y="63.6" width="5.3" height="5.3" fill="#b83ac0"/><rect x="542.0" y="63.6" width="5.3" height="5.3" fill="#b032b8"/><rect x="547.0" y="63.6" width="5.3" height="5.3" fill="#aa2ab2"/><rect x="552.0" y="63.6" width="5.3" height="5.3" fill="#a626ae"/><rect x="557.0" y="63.6" width="5.3" height="5.3" fill="#a222aa"/><rect x="562.0" y="63.6" width="5.3" height="5.3" fill="#9e1ea6"/><rect x="567.0" y="63.6" width="5.3" height="5.3" fill="#9c1ca4"/><rect x="572.0" y="63.6" width="10.3" height="5.3" fill="#9a1aa2"/><rect x="582.0" y="63.6" width="5.3" height="5.3" fill="#9c1ca4"/><rect x="587.0" y="63.6" width="5.3" height="5.3" fill="#9e1ea6"/><rect x="592.0" y="63.6" width="5.3" height="5.3" fill="#a020a8"/><rect x="597.0" y="63.6" width="5.3" height="5.3" fill="#a222aa"/><rect x="602.0" y="63.6" width="40.3" height="5.3" fill="#a424ac"/><rect x="642.0" y="63.6" width="5.3" height="5.3" fill="#a222aa"/><rect x="647.0" y="63.6" width="5.3" height="5.3" fill="#9e1ea6"/><rect x="652.0" y="63.6" width="5.3" height="5.3" fill="#9c1ca4"/><rect x="657.0" y="63.6" width="15.3" height="5.3" fill="#9a1aa2"/><rect x="367.0" y="68.6" width="5.3" height="5.3" fill="#de6ae6"/><rect x="372.0" y="68.6" width="5.3" height="5.3" fill="#d45cdc"/><rect x="377.0" y="68.6" width="5.3" height="5.3" fill="#c446cc"/><rect x="382.0" y="68.6" width="5.3" height="5.3" fill="#ae30b6"/><rect x="387.0" y="68.6" width="5.3" height="5.3" fill="#a222aa"/><rect x="392.0" y="68.6" width="5.3" height="5.3" fill="#9a1aa2"/><rect x="397.0" y="68.6" width="5.3" height="5.3" fill="#9c1ca4"/><rect x="402.0" y="68.6" width="5.3" height="5.3" fill="#a020a8"/><rect x="407.0" y="68.6" width="5.3" height="5.3" fill="#a628ae"/><rect x="412.0" y="68.6" width="5.3" height="5.3" fill="#ae30b6"/><rect x="417.0" y="68.6" width="5.3" height="5.3" fill="#b83ac0"/><rect x="422.0" y="68.6" width="5.3" height="5.3" fill="#be40c6"/><rect x="427.0" y="68.6" width="5.3" height="5.3" fill="#c042c8"/><rect x="432.0" y="68.6" width="5.3" height="5.3" fill="#c044c8"/><rect x="437.0" y="68.6" width="10.3" height="5.3" fill="#c042c8"/><rect x="447.0" y="68.6" width="5.3" height="5.3" fill="#be40c6"/><rect x="452.0" y="68.6" width="5.3" height="5.3" fill="#bc3ec4"/><rect x="457.0" y="68.6" width="5.3" height="5.3" fill="#b638be"/><rect x="462.0" y="68.6" width="5.3" height="5.3" fill="#ae30b6"/><rect x="467.0" y="68.6" width="5.3" height="5.3" fill="#a628ae"/><rect x="472.0" y="68.6" width="5.3" height="5.3" fill="#a828b0"/><rect x="477.0" y="68.6" width="5.3" height="5.3" fill="#ae2eb6"/><rect x="482.0" y="68.6" width="5.3" height="5.3" fill="#b436bc"/><rect x="487.0" y="68.6" width="5.3" height="5.3" fill="#bc3ec4"/><rect x="492.0" y="68.6" width="5.3" height="5.3" fill="#c042c8"/><rect x="497.0" y="68.6" width="5.3" height="5.3" fill="#c446cc"/><rect x="502.0" y="68.6" width="5.3" height="5.3" fill="#c84cd0"/><rect x="507.0" y="68.6" width="5.3" height="5.3" fill="#cc50d4"/><rect x="512.0" y="68.6" width="10.3" height="5.3" fill="#d056d8"/><rect x="522.0" y="68.6" width="5.3" height="5.3" fill="#cc52d4"/><rect x="527.0" y="68.6" width="5.3" height="5.3" fill="#c648ce"/><rect x="532.0" y="68.6" width="5.3" height="5.3" fill="#be40c6"/><rect x="537.0" y="68.6" width="5.3" height="5.3" fill="#b436bc"/><rect x="542.0" y="68.6" width="5.3" height="5.3" fill="#ac2eb4"/><rect x="547.0" y="68.6" width="5.3" height="5.3" fill="#a828b0"/><rect x="552.0" y="68.6" width="5.3" height="5.3" fill="#a424ac"/><rect x="557.0" y="68.6" width="5.3" height="5.3" fill="#a020a8"/><rect x="562.0" y="68.6" width="5.3" height="5.3" fill="#9e1ea6"/><rect x="567.0" y="68.6" width="15.3" height="5.3" fill="#9c1ca4"/><rect x="582.0" y="68.6" width="5.3" height="5.3" fill="#a020a8"/><rect x="587.0" y="68.6" width="5.3" height="5.3" fill="#a424ac"/><rect x="592.0" y="68.6" width="5.3" height="5.3" fill="#a628ae"/><rect x="597.0" y="68.6" width="15.3" height="5.3" fill="#a82ab0"/><rect x="612.0" y="68.6" width="5.3" height="5.3" fill="#a828b0"/><rect x="617.0" y="68.6" width="5.3" height="5.3" fill="#a626ae"/><rect x="622.0" y="68.6" width="15.3" height="5.3" fill="#a424ac"/><rect x="637.0" y="68.6" width="10.3" height="5.3" fill="#a222aa"/><rect x="647.0" y="68.6" width="5.3" height="5.3" fill="#9e1ea6"/><rect x="652.0" y="68.6" width="5.3" height="5.3" fill="#9c1ca4"/><rect x="657.0" y="68.6" width="10.3" height="5.3" fill="#9a1aa2"/><rect x="667.0" y="68.6" width="5.3" height="5.3" fill="#9c1ca4"/><rect x="367.0" y="73.6" width="5.3" height="5.3" fill="#de6ae6"/><rect x="372.0" y="73.6" width="5.3" height="5.3" fill="#d862e0"/><rect x="377.0" y="73.6" width="5.3" height="5.3" fill="#c84ed0"/><rect x="382.0" y="73.6" width="5.3" height="5.3" fill="#b436bc"/><rect x="387.0" y="73.6" width="5.3" height="5.3" fill="#a626ae"/><rect x="392.0" y="73.6" width="5.3" height="5.3" fill="#9c1ca4"/><rect x="397.0" y="73.6" width="5.3" height="5.3" fill="#9e1ea6"/><rect x="402.0" y="73.6" width="5.3" height="5.3" fill="#a222aa"/><rect x="407.0" y="73.6" width="5.3" height="5.3" fill="#a82ab0"/><rect x="412.0" y="73.6" width="5.3" height="5.3" fill="#b032b8"/><rect x="417.0" y="73.6" width="5.3" height="5.3" fill="#b83ac0"/><rect x="422.0" y="73.6" width="5.3" height="5.3" fill="#c042c8"/><rect x="427.0" y="73.6" width="10.3" height="5.3" fill="#c244ca"/><rect x="437.0" y="73.6" width="5.3" height="5.3" fill="#c044c8"/><rect x="442.0" y="73.6" width="5.3" height="5.3" fill="#c042c8"/><rect x="447.0" y="73.6" width="5.3" height="5.3" fill="#be40c6"/><rect x="452.0" y="73.6" width="5.3" height="5.3" fill="#ba3cc2"/><rect x="457.0" y="73.6" width="5.3" height="5.3" fill="#b436bc"/><rect x="462.0" y="73.6" width="5.3" height="5.3" fill="#ac2eb4"/><rect x="467.0" y="73.6" width="5.3" height="5.3" fill="#a828b0"/><rect x="472.0" y="73.6" width="5.3" height="5.3" fill="#a82ab0"/><rect x="477.0" y="73.6" width="5.3" height="5.3" fill="#ac2eb4"/><rect x="482.0" y="73.6" width="5.3" height="5.3" fill="#b234ba"/><rect x="487.0" y="73.6" width="10.3" height="5.3" fill="#b638be"/><rect x="497.0" y="73.6" width="5.3" height="5.3" fill="#b83ac0"/><rect x="502.0" y="73.6" width="5.3" height="5.3" fill="#c042c8"/><rect x="507.0" y="73.6" width="5.3" height="5.3" fill="#c64ace"/><rect x="512.0" y="73.6" width="10.3" height="5.3" fill="#cc50d4"/><rect x="522.0" y="73.6" width="5.3" height="5.3" fill="#c84cd0"/><rect x="527.0" y="73.6" width="5.3" height="5.3" fill="#c244ca"/><rect x="532.0" y="73.6" width="5.3" height="5.3" fill="#b83ac0"/><rect x="537.0" y="73.6" width="5.3" height="5.3" fill="#b032b8"/><rect x="542.0" y="73.6" width="5.3" height="5.3" fill="#a82ab0"/><rect x="547.0" y="73.6" width="5.3" height="5.3" fill="#a424ac"/><rect x="552.0" y="73.6" width="5.3" height="5.3" fill="#a222aa"/><rect x="557.0" y="73.6" width="5.3" height="5.3" fill="#a020a8"/><rect x="562.0" y="73.6" width="10.3" height="5.3" fill="#9e1ea6"/><rect x="572.0" y="73.6" width="5.3" height="5.3" fill="#9c1ca4"/><rect x="577.0" y="73.6" width="5.3" height="5.3" fill="#9e1ea6"/><rect x="582.0" y="73.6" width="5.3" height="5.3" fill="#a424ac"/><rect x="587.0" y="73.6" width="5.3" height="5.3" fill="#aa2cb2"/><rect x="592.0" y="73.6" width="5.3" height="5.3" fill="#ae30b6"/><rect x="597.0" y="73.6" width="5.3" height="5.3" fill="#b032b8"/><rect x="602.0" y="73.6" width="10.3" height="5.3" fill="#ae30b6"/><rect x="612.0" y="73.6" width="5.3" height="5.3" fill="#ac2eb4"/><rect x="617.0" y="73.6" width="5.3" height="5.3" fill="#aa2ab2"/><rect x="622.0" y="73.6" width="5.3" height="5.3" fill="#a628ae"/><rect x="627.0" y="73.6" width="5.3" height="5.3" fill="#a626ae"/><rect x="632.0" y="73.6" width="10.3" height="5.3" fill="#a424ac"/><rect x="642.0" y="73.6" width="5.3" height="5.3" fill="#a222aa"/><rect x="647.0" y="73.6" width="5.3" height="5.3" fill="#9e1ea6"/><rect x="652.0" y="73.6" width="5.3" height="5.3" fill="#9c1ca4"/><rect x="657.0" y="73.6" width="10.3" height="5.3" fill="#9a1aa2"/><rect x="667.0" y="73.6" width="5.3" height="5.3" fill="#9c1ca4"/><rect x="367.0" y="78.6" width="5.3" height="5.3" fill="#de6ae6"/><rect x="372.0" y="78.6" width="5.3" height="5.3" fill="#d860e0"/><rect x="377.0" y="78.6" width="5.3" height="5.3" fill="#ca50d2"/><rect x="382.0" y="78.6" width="5.3" height="5.3" fill="#ba3cc2"/><rect x="387.0" y="78.6" width="5.3" height="5.3" fill="#ac2eb4"/><rect x="392.0" y="78.6" width="10.3" height="5.3" fill="#a424ac"/><rect x="402.0" y="78.6" width="5.3" height="5.3" fill="#a828b0"/><rect x="407.0" y="78.6" width="5.3" height="5.3" fill="#ac2eb4"/><rect x="412.0" y="78.6" width="5.3" height="5.3" fill="#b234ba"/><rect x="417.0" y="78.6" width="5.3" height="5.3" fill="#ba3cc2"/><rect x="422.0" y="78.6" width="5.3" height="5.3" fill="#be40c6"/><rect x="427.0" y="78.6" width="15.3" height="5.3" fill="#c244ca"/><rect x="442.0" y="78.6" width="5.3" height="5.3" fill="#c042c8"/><rect x="447.0" y="78.6" width="5.3" height="5.3" fill="#be40c6"/><rect x="452.0" y="78.6" width="5.3" height="5.3" fill="#ba3cc2"/><rect x="457.0" y="78.6" width="5.3" height="5.3" fill="#b638be"/><rect x="462.0" y="78.6" width="5.3" height="5.3" fill="#b032b8"/><rect x="467.0" y="78.6" width="10.3" height="5.3" fill="#ac2eb4"/><rect x="477.0" y="78.6" width="5.3" height="5.3" fill="#ae30b6"/><rect x="482.0" y="78.6" width="20.3" height="5.3" fill="#b234ba"/><rect x="502.0" y="78.6" width="5.3" height="5.3" fill="#bc3ec4"/><rect x="507.0" y="78.6" width="5.3" height="5.3" fill="#c648ce"/><rect x="512.0" y="78.6" width="5.3" height="5.3" fill="#ca4ed2"/><rect x="517.0" y="78.6" width="5.3" height="5.3" fill="#c84cd0"/><rect x="522.0" y="78.6" width="5.3" height="5.3" fill="#c448cc"/><rect x="527.0" y="78.6" width="5.3" height="5.3" fill="#be40c6"/><rect x="532.0" y="78.6" width="5.3" height="5.3" fill="#b436bc"/><rect x="537.0" y="78.6" width="5.3" height="5.3" fill="#ac2eb4"/><rect x="542.0" y="78.6" width="5.3" height="5.3" fill="#a424ac"/><rect x="547.0" y="78.6" width="5.3" height="5.3" fill="#a222aa"/><rect x="552.0" y="78.6" width="20.3" height="5.3" fill="#a020a8"/><rect x="572.0" y="78.6" width="5.3" height="5.3" fill="#9c1ca4"/><rect x="577.0" y="78.6" width="5.3" height="5.3" fill="#9e1ea6"/><rect x="582.0" y="78.6" width="5.3" height="5.3" fill="#a828b0"/><rect x="587.0" y="78.6" width="5.3" height="5.3" fill="#b436bc"/><rect x="592.0" y="78.6" width="5.3" height="5.3" fill="#ba3cc2"/><rect x="597.0" y="78.6" width="5.3" height="5.3" fill="#b83ac0"/><rect x="602.0" y="78.6" width="5.3" height="5.3" fill="#b638be"/><rect x="607.0" y="78.6" width="5.3" height="5.3" fill="#b436bc"/><rect x="612.0" y="78.6" width="5.3" height="5.3" fill="#b234ba"/><rect x="617.0" y="78.6" width="5.3" height="5.3" fill="#b030b8"/><rect x="622.0" y="78.6" width="5.3" height="5.3" fill="#ac2eb4"/><rect x="627.0" y="78.6" width="5.3" height="5.3" fill="#aa2ab2"/><rect x="632.0" y="78.6" width="5.3" height="5.3" fill="#a828b0"/><rect x="637.0" y="78.6" width="5.3" height="5.3" fill="#a424ac"/><rect x="642.0" y="78.6" width="5.3" height="5.3" fill="#a222aa"/><rect x="647.0" y="78.6" width="5.3" height="5.3" fill="#a020a8"/><rect x="652.0" y="78.6" width="5.3" height="5.3" fill="#9e1ea6"/><rect x="657.0" y="78.6" width="10.3" height="5.3" fill="#9c1ca4"/><rect x="667.0" y="78.6" width="5.3" height="5.3" fill="#9e1ea6"/><rect x="472.0" y="83.6" width="10.3" height="5.3" fill="#b234ba"/><rect x="482.0" y="83.6" width="15.3" height="5.3" fill="#b436bc"/><rect x="497.0" y="83.6" width="5.3" height="5.3" fill="#b83ac0"/><rect x="502.0" y="83.6" width="5.3" height="5.3" fill="#be40c6"/><rect x="507.0" y="83.6" width="5.3" height="5.3" fill="#c84cd0"/><rect x="512.0" y="83.6" width="5.3" height="5.3" fill="#ca50d2"/><rect x="517.0" y="83.6" width="5.3" height="5.3" fill="#c84ad0"/><rect x="522.0" y="83.6" width="5.3" height="5.3" fill="#c244ca"/><rect x="527.0" y="83.6" width="5.3" height="5.3" fill="#ba3cc2"/><rect x="532.0" y="83.6" width="5.3" height="5.3" fill="#b234ba"/><rect x="537.0" y="83.6" width="5.3" height="5.3" fill="#aa2cb2"/><rect x="542.0" y="83.6" width="5.3" height="5.3" fill="#a626ae"/><rect x="547.0" y="83.6" width="5.3" height="5.3" fill="#a222aa"/><rect x="552.0" y="83.6" width="10.3" height="5.3" fill="#a020a8"/><rect x="562.0" y="83.6" width="5.3" height="5.3" fill="#a222aa"/><rect x="567.0" y="83.6" width="5.3" height="5.3" fill="#a828b0"/><rect x="572.0" y="83.6" width="5.3" height="5.3" fill="#a424ac"/><rect x="577.0" y="83.6" width="5.3" height="5.3" fill="#a222aa"/><rect x="582.0" y="83.6" width="5.3" height="5.3" fill="#aa2ab2"/><rect x="587.0" y="83.6" width="5.3" height="5.3" fill="#b83ac0"/><rect x="592.0" y="83.6" width="5.3" height="5.3" fill="#be40c6"/><rect x="597.0" y="83.6" width="10.3" height="5.3" fill="#bc3ec4"/><rect x="607.0" y="83.6" width="10.3" height="5.3" fill="#ba3cc2"/><rect x="617.0" y="83.6" width="5.3" height="5.3" fill="#b83ac0"/><rect x="622.0" y="83.6" width="5.3" height="5.3" fill="#b436bc"/><rect x="627.0" y="83.6" width="5.3" height="5.3" fill="#ae30b6"/><rect x="632.0" y="83.6" width="5.3" height="5.3" fill="#ac2cb4"/><rect x="637.0" y="83.6" width="5.3" height="5.3" fill="#a82ab0"/><rect x="642.0" y="83.6" width="5.3" height="5.3" fill="#a626ae"/><rect x="647.0" y="83.6" width="5.3" height="5.3" fill="#a424ac"/><rect x="652.0" y="83.6" width="5.3" height="5.3" fill="#a222aa"/><rect x="657.0" y="83.6" width="5.3" height="5.3" fill="#a020a8"/><rect x="662.0" y="83.6" width="5.3" height="5.3" fill="#9e1ea6"/><rect x="667.0" y="83.6" width="5.3" height="5.3" fill="#a020a8"/><rect x="672.0" y="83.6" width="5.3" height="5.3" fill="#a222aa"/><rect x="472.0" y="88.6" width="5.3" height="5.3" fill="#b83ac0"/><rect x="477.0" y="88.6" width="20.3" height="5.3" fill="#ba3cc2"/><rect x="497.0" y="88.6" width="5.3" height="5.3" fill="#bc3ec4"/><rect x="502.0" y="88.6" width="5.3" height="5.3" fill="#c244ca"/><rect x="507.0" y="88.6" width="5.3" height="5.3" fill="#ca4ed2"/><rect x="512.0" y="88.6" width="5.3" height="5.3" fill="#cc50d4"/><rect x="517.0" y="88.6" width="5.3" height="5.3" fill="#c448cc"/><rect x="522.0" y="88.6" width="5.3" height="5.3" fill="#be40c6"/><rect x="527.0" y="88.6" width="5.3" height="5.3" fill="#b83ac0"/><rect x="532.0" y="88.6" width="5.3" height="5.3" fill="#b032b8"/><rect x="537.0" y="88.6" width="5.3" height="5.3" fill="#ac2cb4"/><rect x="542.0" y="88.6" width="5.3" height="5.3" fill="#a828b0"/><rect x="547.0" y="88.6" width="5.3" height="5.3" fill="#a424ac"/><rect x="552.0" y="88.6" width="5.3" height="5.3" fill="#a020a8"/><rect x="557.0" y="88.6" width="5.3" height="5.3" fill="#9c1ca4"/><rect x="562.0" y="88.6" width="5.3" height="5.3" fill="#a222aa"/><rect x="567.0" y="88.6" width="5.3" height="5.3" fill="#b234ba"/><rect x="572.0" y="88.6" width="5.3" height="5.3" fill="#ae30b6"/><rect x="577.0" y="88.6" width="5.3" height="5.3" fill="#a426ac"/><rect x="582.0" y="88.6" width="5.3" height="5.3" fill="#aa2ab2"/><rect x="587.0" y="88.6" width="5.3" height="5.3" fill="#b436bc"/><rect x="592.0" y="88.6" width="5.3" height="5.3" fill="#bc3ec4"/><rect x="597.0" y="88.6" width="5.3" height="5.3" fill="#be40c6"/><rect x="602.0" y="88.6" width="10.3" height="5.3" fill="#c042c8"/><rect x="612.0" y="88.6" width="10.3" height="5.3" fill="#c244ca"/><rect x="622.0" y="88.6" width="5.3" height="5.3" fill="#bc3ec4"/><rect x="627.0" y="88.6" width="5.3" height="5.3" fill="#b638be"/><rect x="632.0" y="88.6" width="5.3" height="5.3" fill="#b032b8"/><rect x="637.0" y="88.6" width="5.3" height="5.3" fill="#ae30b6"/><rect x="642.0" y="88.6" width="5.3" height="5.3" fill="#ac2eb4"/><rect x="647.0" y="88.6" width="5.3" height="5.3" fill="#aa2cb2"/><rect x="652.0" y="88.6" width="5.3" height="5.3" fill="#a828b0"/><rect x="657.0" y="88.6" width="5.3" height="5.3" fill="#a424ac"/><rect x="662.0" y="88.6" width="5.3" height="5.3" fill="#a020a8"/><rect x="667.0" y="88.6" width="5.3" height="5.3" fill="#a222aa"/><rect x="672.0" y="88.6" width="5.3" height="5.3" fill="#a828b0"/><rect x="472.0" y="93.6" width="5.3" height="5.3" fill="#be40c6"/><rect x="477.0" y="93.6" width="15.3" height="5.3" fill="#c042c8"/><rect x="492.0" y="93.6" width="5.3" height="5.3" fill="#be40c6"/><rect x="497.0" y="93.6" width="5.3" height="5.3" fill="#c042c8"/><rect x="502.0" y="93.6" width="5.3" height="5.3" fill="#c246ca"/><rect x="507.0" y="93.6" width="10.3" height="5.3" fill="#c64ace"/><rect x="517.0" y="93.6" width="5.3" height="5.3" fill="#c044c8"/><rect x="522.0" y="93.6" width="5.3" height="5.3" fill="#ba3cc2"/><rect x="527.0" y="93.6" width="5.3" height="5.3" fill="#b436bc"/><rect x="532.0" y="93.6" width="5.3" height="5.3" fill="#b032b8"/><rect x="537.0" y="93.6" width="5.3" height="5.3" fill="#ac2eb4"/><rect x="542.0" y="93.6" width="5.3" height="5.3" fill="#aa2ab2"/><rect x="547.0" y="93.6" width="5.3" height="5.3" fill="#a626ae"/><rect x="552.0" y="93.6" width="5.3" height="5.3" fill="#a222aa"/><rect x="557.0" y="93.6" width="5.3" height="5.3" fill="#9e1ea6"/><rect x="562.0" y="93.6" width="5.3" height="5.3" fill="#a020a8"/><rect x="567.0" y="93.6" width="5.3" height="5.3" fill="#a828b0"/><rect x="572.0" y="93.6" width="5.3" height="5.3" fill="#a424ac"/><rect x="577.0" y="93.6" width="5.3" height="5.3" fill="#aa2ab2"/><rect x="582.0" y="93.6" width="5.3" height="5.3" fill="#ae30b6"/><rect x="587.0" y="93.6" width="5.3" height="5.3" fill="#b638be"/><rect x="592.0" y="93.6" width="5.3" height="5.3" fill="#bc3ec4"/><rect x="597.0" y="93.6" width="5.3" height="5.3" fill="#be40c6"/><rect x="602.0" y="93.6" width="5.3" height="5.3" fill="#c244ca"/><rect x="607.0" y="93.6" width="5.3" height="5.3" fill="#c446cc"/><rect x="612.0" y="93.6" width="5.3" height="5.3" fill="#c84cd0"/><rect x="617.0" y="93.6" width="5.3" height="5.3" fill="#c84ed0"/><rect x="622.0" y="93.6" width="5.3" height="5.3" fill="#c446cc"/><rect x="627.0" y="93.6" width="5.3" height="5.3" fill="#ba3cc2"/><rect x="632.0" y="93.6" width="5.3" height="5.3" fill="#b436bc"/><rect x="637.0" y="93.6" width="5.3" height="5.3" fill="#b234ba"/><rect x="642.0" y="93.6" width="5.3" height="5.3" fill="#b436bc"/><rect x="647.0" y="93.6" width="5.3" height="5.3" fill="#b638be"/><rect x="652.0" y="93.6" width="5.3" height="5.3" fill="#b234ba"/><rect x="657.0" y="93.6" width="5.3" height="5.3" fill="#aa2cb2"/><rect x="662.0" y="93.6" width="5.3" height="5.3" fill="#a424ac"/><rect x="667.0" y="93.6" width="5.3" height="5.3" fill="#a828b0"/><rect x="672.0" y="93.6" width="5.3" height="5.3" fill="#ae30b6"/><rect x="472.0" y="98.6" width="20.3" height="5.3" fill="#c448cc"/><rect x="492.0" y="98.6" width="10.3" height="5.3" fill="#c64ace"/><rect x="502.0" y="98.6" width="5.3" height="5.3" fill="#c84cd0"/><rect x="507.0" y="98.6" width="5.3" height="5.3" fill="#c84ad0"/><rect x="512.0" y="98.6" width="5.3" height="5.3" fill="#c244ca"/><rect x="517.0" y="98.6" width="5.3" height="5.3" fill="#be40c6"/><rect x="522.0" y="98.6" width="5.3" height="5.3" fill="#b83ac0"/><rect x="527.0" y="98.6" width="5.3" height="5.3" fill="#b234ba"/><rect x="532.0" y="98.6" width="5.3" height="5.3" fill="#ae30b6"/><rect x="537.0" y="98.6" width="10.3" height="5.3" fill="#ac2eb4"/><rect x="547.0" y="98.6" width="5.3" height="5.3" fill="#ac2cb4"/><rect x="552.0" y="98.6" width="5.3" height="5.3" fill="#a626ae"/><rect x="557.0" y="98.6" width="10.3" height="5.3" fill="#a222aa"/><rect x="567.0" y="98.6" width="5.3" height="5.3" fill="#a424ac"/><rect x="572.0" y="98.6" width="5.3" height="5.3" fill="#a828b0"/><rect x="577.0" y="98.6" width="5.3" height="5.3" fill="#ac2eb4"/><rect x="582.0" y="98.6" width="5.3" height="5.3" fill="#b234ba"/><rect x="587.0" y="98.6" width="5.3" height="5.3" fill="#b83ac0"/><rect x="592.0" y="98.6" width="5.3" height="5.3" fill="#bc3ec4"/><rect x="597.0" y="98.6" width="5.3" height="5.3" fill="#be40c6"/><rect x="602.0" y="98.6" width="5.3" height="5.3" fill="#c244ca"/><rect x="607.0" y="98.6" width="5.3" height="5.3" fill="#c64ace"/><rect x="612.0" y="98.6" width="5.3" height="5.3" fill="#cc50d4"/><rect x="617.0" y="98.6" width="5.3" height="5.3" fill="#ce54d6"/><rect x="622.0" y="98.6" width="5.3" height="5.3" fill="#c84cd0"/><rect x="627.0" y="98.6" width="5.3" height="5.3" fill="#ba3cc2"/><rect x="632.0" y="98.6" width="5.3" height="5.3" fill="#b436bc"/><rect x="637.0" y="98.6" width="5.3" height="5.3" fill="#b638be"/><rect x="642.0" y="98.6" width="5.3" height="5.3" fill="#be40c6"/><rect x="647.0" y="98.6" width="10.3" height="5.3" fill="#c246ca"/><rect x="657.0" y="98.6" width="5.3" height="5.3" fill="#ba3cc2"/><rect x="662.0" y="98.6" width="5.3" height="5.3" fill="#b032b8"/><rect x="667.0" y="98.6" width="5.3" height="5.3" fill="#b436bc"/><rect x="672.0" y="98.6" width="5.3" height="5.3" fill="#ba3cc2"/><rect x="472.0" y="103.6" width="5.3" height="5.3" fill="#ca50d2"/><rect x="477.0" y="103.6" width="5.3" height="5.3" fill="#ca4ed2"/><rect x="482.0" y="103.6" width="5.3" height="5.3" fill="#c84ed0"/><rect x="487.0" y="103.6" width="5.3" height="5.3" fill="#ca4ed2"/><rect x="492.0" y="103.6" width="5.3" height="5.3" fill="#cc52d4"/><rect x="497.0" y="103.6" width="5.3" height="5.3" fill="#d056d8"/><rect x="502.0" y="103.6" width="5.3" height="5.3" fill="#d258da"/><rect x="507.0" y="103.6" width="5.3" height="5.3" fill="#ce52d6"/><rect x="512.0" y="103.6" width="5.3" height="5.3" fill="#c648ce"/><rect x="517.0" y="103.6" width="5.3" height="5.3" fill="#be40c6"/><rect x="522.0" y="103.6" width="5.3" height="5.3" fill="#b83ac0"/><rect x="527.0" y="103.6" width="5.3" height="5.3" fill="#b234ba"/><rect x="532.0" y="103.6" width="5.3" height="5.3" fill="#ae30b6"/><rect x="537.0" y="103.6" width="5.3" height="5.3" fill="#ac2eb4"/><rect x="542.0" y="103.6" width="5.3" height="5.3" fill="#aa2cb2"/><rect x="547.0" y="103.6" width="5.3" height="5.3" fill="#ac2cb4"/><rect x="552.0" y="103.6" width="5.3" height="5.3" fill="#a626ae"/><rect x="557.0" y="103.6" width="10.3" height="5.3" fill="#a222aa"/><rect x="567.0" y="103.6" width="5.3" height="5.3" fill="#a626ae"/><rect x="572.0" y="103.6" width="5.3" height="5.3" fill="#aa2cb2"/><rect x="577.0" y="103.6" width="5.3" height="5.3" fill="#b032b8"/><rect x="582.0" y="103.6" width="5.3" height="5.3" fill="#b638be"/><rect x="587.0" y="103.6" width="5.3" height="5.3" fill="#ba3cc2"/><rect x="592.0" y="103.6" width="5.3" height="5.3" fill="#be40c6"/><rect x="597.0" y="103.6" width="10.3" height="5.3" fill="#c042c8"/><rect x="607.0" y="103.6" width="5.3" height="5.3" fill="#c84cd0"/><rect x="612.0" y="103.6" width="5.3" height="5.3" fill="#ce54d6"/><rect x="617.0" y="103.6" width="5.3" height="5.3" fill="#d056d8"/><rect x="622.0" y="103.6" width="5.3" height="5.3" fill="#c84ed0"/><rect x="627.0" y="103.6" width="5.3" height="5.3" fill="#ba3cc2"/><rect x="632.0" y="103.6" width="5.3" height="5.3" fill="#b436bc"/><rect x="637.0" y="103.6" width="5.3" height="5.3" fill="#bc3ec4"/><rect x="642.0" y="103.6" width="5.3" height="5.3" fill="#c64ace"/><rect x="647.0" y="103.6" width="5.3" height="5.3" fill="#d056d8"/><rect x="652.0" y="103.6" width="5.3" height="5.3" fill="#d45cdc"/><rect x="657.0" y="103.6" width="5.3" height="5.3" fill="#d25ada"/><rect x="662.0" y="103.6" width="5.3" height="5.3" fill="#cc50d4"/><rect x="667.0" y="103.6" width="5.3" height="5.3" fill="#ca4ed2"/><rect x="672.0" y="103.6" width="5.3" height="5.3" fill="#ca50d2"/><rect x="472.0" y="108.6" width="5.3" height="5.3" fill="#d056d8"/><rect x="477.0" y="108.6" width="5.3" height="5.3" fill="#ce54d6"/><rect x="482.0" y="108.6" width="5.3" height="5.3" fill="#cc52d4"/><rect x="487.0" y="108.6" width="5.3" height="5.3" fill="#ce54d6"/><rect x="492.0" y="108.6" width="5.3" height="5.3" fill="#d45adc"/><rect x="497.0" y="108.6" width="5.3" height="5.3" fill="#da64e2"/><rect x="502.0" y="108.6" width="5.3" height="5.3" fill="#de68e6"/><rect x="507.0" y="108.6" width="5.3" height="5.3" fill="#d660de"/><rect x="512.0" y="108.6" width="5.3" height="5.3" fill="#cc50d4"/><rect x="517.0" y="108.6" width="5.3" height="5.3" fill="#c244ca"/><rect x="522.0" y="108.6" width="5.3" height="5.3" fill="#ba3cc2"/><rect x="527.0" y="108.6" width="5.3" height="5.3" fill="#b436bc"/><rect x="532.0" y="108.6" width="5.3" height="5.3" fill="#b030b8"/><rect x="537.0" y="108.6" width="5.3" height="5.3" fill="#aa2ab2"/><rect x="542.0" y="108.6" width="5.3" height="5.3" fill="#a426ac"/><rect x="547.0" y="108.6" width="5.3" height="5.3" fill="#a222aa"/><rect x="552.0" y="108.6" width="10.3" height="5.3" fill="#a020a8"/><rect x="562.0" y="108.6" width="5.3" height="5.3" fill="#a222aa"/><rect x="567.0" y="108.6" width="5.3" height="5.3" fill="#a828b0"/><rect x="572.0" y="108.6" width="5.3" height="5.3" fill="#ae30b6"/><rect x="577.0" y="108.6" width="5.3" height="5.3" fill="#b436bc"/><rect x="582.0" y="108.6" width="5.3" height="5.3" fill="#ba3cc2"/><rect x="587.0" y="108.6" width="5.3" height="5.3" fill="#be40c6"/><rect x="592.0" y="108.6" width="5.3" height="5.3" fill="#c244ca"/><rect x="597.0" y="108.6" width="5.3" height="5.3" fill="#c448cc"/><rect x="602.0" y="108.6" width="5.3" height="5.3" fill="#c84cd0"/><rect x="607.0" y="108.6" width="5.3" height="5.3" fill="#ce54d6"/><rect x="612.0" y="108.6" width="5.3" height="5.3" fill="#d45cdc"/><rect x="617.0" y="108.6" width="5.3" height="5.3" fill="#d45edc"/><rect x="622.0" y="108.6" width="5.3" height="5.3" fill="#ce54d6"/><rect x="627.0" y="108.6" width="5.3" height="5.3" fill="#c246ca"/><rect x="632.0" y="108.6" width="5.3" height="5.3" fill="#c042c8"/><rect x="637.0" y="108.6" width="5.3" height="5.3" fill="#c448cc"/><rect x="642.0" y="108.6" width="5.3" height="5.3" fill="#d056d8"/><rect x="647.0" y="108.6" width="5.3" height="5.3" fill="#da64e2"/><rect x="652.0" y="108.6" width="5.3" height="5.3" fill="#e474ec"/><rect x="657.0" y="108.6" width="5.3" height="5.3" fill="#e476ec"/><rect x="662.0" y="108.6" width="5.3" height="5.3" fill="#de6ce6"/><rect x="667.0" y="108.6" width="5.3" height="5.3" fill="#dc66e4"/><rect x="672.0" y="108.6" width="5.3" height="5.3" fill="#da64e2"/><rect x="472.0" y="113.6" width="5.3" height="5.3" fill="#d660de"/><rect x="477.0" y="113.6" width="5.3" height="5.3" fill="#d45cdc"/><rect x="482.0" y="113.6" width="5.3" height="5.3" fill="#d058d8"/><rect x="487.0" y="113.6" width="5.3" height="5.3" fill="#d056d8"/><rect x="492.0" y="113.6" width="5.3" height="5.3" fill="#d860e0"/><rect x="497.0" y="113.6" width="5.3" height="5.3" fill="#e06ce8"/><rect x="502.0" y="113.6" width="5.3" height="5.3" fill="#e67aee"/><rect x="507.0" y="113.6" width="5.3" height="5.3" fill="#dc68e4"/><rect x="512.0" y="113.6" width="5.3" height="5.3" fill="#ce54d6"/><rect x="517.0" y="113.6" width="5.3" height="5.3" fill="#c446cc"/><rect x="522.0" y="113.6" width="5.3" height="5.3" fill="#be40c6"/><rect x="527.0" y="113.6" width="5.3" height="5.3" fill="#ba3cc2"/><rect x="532.0" y="113.6" width="5.3" height="5.3" fill="#b234ba"/><rect x="537.0" y="113.6" width="5.3" height="5.3" fill="#a82ab0"/><rect x="542.0" y="113.6" width="5.3" height="5.3" fill="#a020a8"/><rect x="547.0" y="113.6" width="10.3" height="5.3" fill="#9a1aa2"/><rect x="557.0" y="113.6" width="5.3" height="5.3" fill="#9c1ca4"/><rect x="562.0" y="113.6" width="5.3" height="5.3" fill="#a020a8"/><rect x="567.0" y="113.6" width="5.3" height="5.3" fill="#a82ab0"/><rect x="572.0" y="113.6" width="5.3" height="5.3" fill="#b234ba"/><rect x="577.0" y="113.6" width="5.3" height="5.3" fill="#ba3cc2"/><rect x="582.0" y="113.6" width="5.3" height="5.3" fill="#c042c8"/><rect x="587.0" y="113.6" width="5.3" height="5.3" fill="#c448cc"/><rect x="592.0" y="113.6" width="5.3" height="5.3" fill="#c84ed0"/><rect x="597.0" y="113.6" width="5.3" height="5.3" fill="#cc52d4"/><rect x="602.0" y="113.6" width="5.3" height="5.3" fill="#d258da"/><rect x="607.0" y="113.6" width="5.3" height="5.3" fill="#d65ede"/><rect x="612.0" y="113.6" width="5.3" height="5.3" fill="#da64e2"/><rect x="617.0" y="113.6" width="5.3" height="5.3" fill="#dc68e4"/><rect x="622.0" y="113.6" width="5.3" height="5.3" fill="#d25ada"/><rect x="627.0" y="113.6" width="5.3" height="5.3" fill="#c84cd0"/><rect x="632.0" y="113.6" width="5.3" height="5.3" fill="#c64ace"/><rect x="637.0" y="113.6" width="5.3" height="5.3" fill="#ca50d2"/><rect x="642.0" y="113.6" width="5.3" height="5.3" fill="#d45cdc"/><rect x="647.0" y="113.6" width="5.3" height="5.3" fill="#e06ee8"/><rect x="652.0" y="113.6" width="5.3" height="5.3" fill="#e87cf0"/><rect x="657.0" y="113.6" width="5.3" height="5.3" fill="#ea82f2"/><rect x="662.0" y="113.6" width="5.3" height="5.3" fill="#e87ef0"/><rect x="667.0" y="113.6" width="5.3" height="5.3" fill="#e678ee"/><rect x="672.0" y="113.6" width="5.3" height="5.3" fill="#e474ec"/><rect x="472.0" y="118.6" width="5.3" height="5.3" fill="#de6ae6"/><rect x="477.0" y="118.6" width="5.3" height="5.3" fill="#da66e2"/><rect x="482.0" y="118.6" width="5.3" height="5.3" fill="#d862e0"/><rect x="487.0" y="118.6" width="5.3" height="5.3" fill="#d660de"/><rect x="492.0" y="118.6" width="5.3" height="5.3" fill="#da66e2"/><rect x="497.0" y="118.6" width="5.3" height="5.3" fill="#de6ce6"/><rect x="502.0" y="118.6" width="5.3" height="5.3" fill="#e06ee8"/><rect x="507.0" y="118.6" width="5.3" height="5.3" fill="#d862e0"/><rect x="512.0" y="118.6" width="5.3" height="5.3" fill="#ce52d6"/><rect x="517.0" y="118.6" width="5.3" height="5.3" fill="#c648ce"/><rect x="522.0" y="118.6" width="5.3" height="5.3" fill="#c244ca"/><rect x="527.0" y="118.6" width="5.3" height="5.3" fill="#c044c8"/><rect x="532.0" y="118.6" width="5.3" height="5.3" fill="#b83ac0"/><rect x="537.0" y="118.6" width="5.3" height="5.3" fill="#aa2ab2"/><rect x="542.0" y="118.6" width="5.3" height="5.3" fill="#9e1ea6"/><rect x="547.0" y="118.6" width="10.3" height="5.3" fill="#9a1aa2"/><rect x="557.0" y="118.6" width="5.3" height="5.3" fill="#9c1ca4"/><rect x="562.0" y="118.6" width="5.3" height="5.3" fill="#a020a8"/><rect x="567.0" y="118.6" width="5.3" height="5.3" fill="#a628ae"/><rect x="572.0" y="118.6" width="5.3" height="5.3" fill="#b436bc"/><rect x="577.0" y="118.6" width="5.3" height="5.3" fill="#c042c8"/><rect x="582.0" y="118.6" width="5.3" height="5.3" fill="#c84cd0"/><rect x="587.0" y="118.6" width="5.3" height="5.3" fill="#cc52d4"/><rect x="592.0" y="118.6" width="5.3" height="5.3" fill="#d056d8"/><rect x="597.0" y="118.6" width="5.3" height="5.3" fill="#d45cdc"/><rect x="602.0" y="118.6" width="5.3" height="5.3" fill="#d862e0"/><rect x="607.0" y="118.6" width="5.3" height="5.3" fill="#dc68e4"/><rect x="612.0" y="118.6" width="5.3" height="5.3" fill="#dc66e4"/><rect x="617.0" y="118.6" width="5.3" height="5.3" fill="#d862e0"/><rect x="622.0" y="118.6" width="5.3" height="5.3" fill="#d056d8"/><rect x="627.0" y="118.6" width="5.3" height="5.3" fill="#c84cd0"/><rect x="632.0" y="118.6" width="5.3" height="5.3" fill="#c64ace"/><rect x="637.0" y="118.6" width="5.3" height="5.3" fill="#cc50d4"/><rect x="642.0" y="118.6" width="5.3" height="5.3" fill="#d65ede"/><rect x="647.0" y="118.6" width="5.3" height="5.3" fill="#e070e8"/><rect x="652.0" y="118.6" width="5.3" height="5.3" fill="#ea7ef0"/><rect x="657.0" y="118.6" width="5.3" height="5.3" fill="#ee8af4"/><rect x="662.0" y="118.6" width="5.3" height="5.3" fill="#ee86f4"/><rect x="667.0" y="118.6" width="5.3" height="5.3" fill="#ec82f2"/><rect x="672.0" y="118.6" width="5.3" height="5.3" fill="#ea80f2"/><rect x="472.0" y="123.6" width="5.3" height="5.3" fill="#e474ec"/><rect x="477.0" y="123.6" width="5.3" height="5.3" fill="#e272ea"/><rect x="482.0" y="123.6" width="5.3" height="5.3" fill="#e06ee8"/><rect x="487.0" y="123.6" width="10.3" height="5.3" fill="#e06ce8"/><rect x="497.0" y="123.6" width="5.3" height="5.3" fill="#de6ae6"/><rect x="502.0" y="123.6" width="5.3" height="5.3" fill="#dc66e4"/><rect x="507.0" y="123.6" width="5.3" height="5.3" fill="#d45cdc"/><rect x="512.0" y="123.6" width="5.3" height="5.3" fill="#cc52d4"/><rect x="517.0" y="123.6" width="5.3" height="5.3" fill="#c84cd0"/><rect x="522.0" y="123.6" width="5.3" height="5.3" fill="#c64ace"/><rect x="527.0" y="123.6" width="5.3" height="5.3" fill="#c448cc"/><rect x="532.0" y="123.6" width="5.3" height="5.3" fill="#bc3ec4"/><rect x="537.0" y="123.6" width="5.3" height="5.3" fill="#ae30b6"/><rect x="542.0" y="123.6" width="5.3" height="5.3" fill="#a222aa"/><rect x="547.0" y="123.6" width="5.3" height="5.3" fill="#9a1aa2"/><rect x="552.0" y="123.6" width="5.3" height="5.3" fill="#9c1ca4"/><rect x="557.0" y="123.6" width="5.3" height="5.3" fill="#a020a8"/><rect x="562.0" y="123.6" width="5.3" height="5.3" fill="#a426ac"/><rect x="567.0" y="123.6" width="5.3" height="5.3" fill="#ac2eb4"/><rect x="572.0" y="123.6" width="5.3" height="5.3" fill="#ba3cc2"/><rect x="577.0" y="123.6" width="5.3" height="5.3" fill="#c64ace"/><rect x="582.0" y="123.6" width="5.3" height="5.3" fill="#d056d8"/><rect x="587.0" y="123.6" width="5.3" height="5.3" fill="#d45cdc"/><rect x="592.0" y="123.6" width="5.3" height="5.3" fill="#d65ede"/><rect x="597.0" y="123.6" width="5.3" height="5.3" fill="#d862e0"/><rect x="602.0" y="123.6" width="5.3" height="5.3" fill="#da66e2"/><rect x="607.0" y="123.6" width="5.3" height="5.3" fill="#dc68e4"/><rect x="612.0" y="123.6" width="5.3" height="5.3" fill="#da64e2"/><rect x="617.0" y="123.6" width="5.3" height="5.3" fill="#d65ede"/><rect x="622.0" y="123.6" width="5.3" height="5.3" fill="#cc50d4"/><rect x="627.0" y="123.6" width="5.3" height="5.3" fill="#c246ca"/><rect x="632.0" y="123.6" width="5.3" height="5.3" fill="#c448cc"/><rect x="637.0" y="123.6" width="5.3" height="5.3" fill="#ca4ed2"/><rect x="642.0" y="123.6" width="5.3" height="5.3" fill="#d258da"/><rect x="647.0" y="123.6" width="5.3" height="5.3" fill="#de6ae6"/><rect x="652.0" y="123.6" width="5.3" height="5.3" fill="#e87cf0"/><rect x="657.0" y="123.6" width="5.3" height="5.3" fill="#ee86f4"/><rect x="662.0" y="123.6" width="15.3" height="5.3" fill="#ee8af4"/><rect x="472.0" y="128.6" width="5.3" height="5.3" fill="#ea80f2"/><rect x="477.0" y="128.6" width="5.3" height="5.3" fill="#e87ef0"/><rect x="482.0" y="128.6" width="5.3" height="5.3" fill="#e67aee"/><rect x="487.0" y="128.6" width="5.3" height="5.3" fill="#e678ee"/><rect x="492.0" y="128.6" width="5.3" height="5.3" fill="#e476ec"/><rect x="497.0" y="128.6" width="5.3" height="5.3" fill="#e272ea"/><rect x="502.0" y="128.6" width="5.3" height="5.3" fill="#de6ae6"/><rect x="507.0" y="128.6" width="5.3" height="5.3" fill="#d65ede"/><rect x="512.0" y="128.6" width="5.3" height="5.3" fill="#ce54d6"/><rect x="517.0" y="128.6" width="5.3" height="5.3" fill="#ca50d2"/><rect x="522.0" y="128.6" width="5.3" height="5.3" fill="#ca4ed2"/><rect x="527.0" y="128.6" width="5.3" height="5.3" fill="#ca50d2"/><rect x="532.0" y="128.6" width="5.3" height="5.3" fill="#c446cc"/><rect x="537.0" y="128.6" width="5.3" height="5.3" fill="#b436bc"/><rect x="542.0" y="128.6" width="5.3" height="5.3" fill="#a628ae"/><rect x="547.0" y="128.6" width="5.3" height="5.3" fill="#a020a8"/><rect x="552.0" y="128.6" width="5.3" height="5.3" fill="#a222aa"/><rect x="557.0" y="128.6" width="5.3" height="5.3" fill="#a828b0"/><rect x="562.0" y="128.6" width="5.3" height="5.3" fill="#ae30b6"/><rect x="567.0" y="128.6" width="5.3" height="5.3" fill="#b83ac0"/><rect x="572.0" y="128.6" width="5.3" height="5.3" fill="#c446cc"/><rect x="577.0" y="128.6" width="5.3" height="5.3" fill="#ce54d6"/><rect x="582.0" y="128.6" width="5.3" height="5.3" fill="#d65ede"/><rect x="587.0" y="128.6" width="5.3" height="5.3" fill="#da64e2"/><rect x="592.0" y="128.6" width="5.3" height="5.3" fill="#dc66e4"/><rect x="597.0" y="128.6" width="15.3" height="5.3" fill="#dc68e4"/><rect x="612.0" y="128.6" width="5.3" height="5.3" fill="#da66e2"/><rect x="617.0" y="128.6" width="5.3" height="5.3" fill="#d65ede"/><rect x="622.0" y="128.6" width="5.3" height="5.3" fill="#ce54d6"/><rect x="627.0" y="128.6" width="5.3" height="5.3" fill="#c648ce"/><rect x="632.0" y="128.6" width="5.3" height="5.3" fill="#c64ace"/><rect x="637.0" y="128.6" width="5.3" height="5.3" fill="#ca4ed2"/><rect x="642.0" y="128.6" width="5.3" height="5.3" fill="#d056d8"/><rect x="647.0" y="128.6" width="5.3" height="5.3" fill="#dc66e4"/><rect x="652.0" y="128.6" width="5.3" height="5.3" fill="#e678ee"/><rect x="657.0" y="128.6" width="5.3" height="5.3" fill="#ec84f2"/><rect x="662.0" y="128.6" width="5.3" height="5.3" fill="#ee8af4"/><rect x="667.0" y="128.6" width="5.3" height="5.3" fill="#f08ef6"/><rect x="672.0" y="128.6" width="5.3" height="5.3" fill="#f290f6"/><rect x="472.0" y="133.6" width="5.3" height="5.3" fill="#f08cf6"/><rect x="477.0" y="133.6" width="5.3" height="5.3" fill="#ee8af6"/><rect x="482.0" y="133.6" width="5.3" height="5.3" fill="#ee88f4"/><rect x="487.0" y="133.6" width="5.3" height="5.3" fill="#ee86f4"/><rect x="492.0" y="133.6" width="5.3" height="5.3" fill="#ec84f2"/><rect x="497.0" y="133.6" width="5.3" height="5.3" fill="#e87ef0"/><rect x="502.0" y="133.6" width="5.3" height="5.3" fill="#e272ea"/><rect x="507.0" y="133.6" width="5.3" height="5.3" fill="#d660de"/><rect x="512.0" y="133.6" width="5.3" height="5.3" fill="#ce54d6"/><rect x="517.0" y="133.6" width="10.3" height="5.3" fill="#ca50d2"/><rect x="527.0" y="133.6" width="5.3" height="5.3" fill="#cc52d4"/><rect x="532.0" y="133.6" width="5.3" height="5.3" fill="#c84cd0"/><rect x="537.0" y="133.6" width="5.3" height="5.3" fill="#ba3cc2"/><rect x="542.0" y="133.6" width="5.3" height="5.3" fill="#ae30b6"/><rect x="547.0" y="133.6" width="5.3" height="5.3" fill="#ac2eb4"/><rect x="552.0" y="133.6" width="5.3" height="5.3" fill="#ae30b6"/><rect x="557.0" y="133.6" width="5.3" height="5.3" fill="#b436bc"/><rect x="562.0" y="133.6" width="5.3" height="5.3" fill="#be40c6"/><rect x="567.0" y="133.6" width="5.3" height="5.3" fill="#c64ace"/><rect x="572.0" y="133.6" width="5.3" height="5.3" fill="#ce54d6"/><rect x="577.0" y="133.6" width="5.3" height="5.3" fill="#d660de"/><rect x="582.0" y="133.6" width="5.3" height="5.3" fill="#de6ae6"/><rect x="587.0" y="133.6" width="5.3" height="5.3" fill="#e070e8"/><rect x="592.0" y="133.6" width="5.3" height="5.3" fill="#e272ea"/><rect x="597.0" y="133.6" width="5.3" height="5.3" fill="#e270ea"/><rect x="602.0" y="133.6" width="15.3" height="5.3" fill="#de6ae6"/><rect x="617.0" y="133.6" width="5.3" height="5.3" fill="#da66e2"/><rect x="622.0" y="133.6" width="5.3" height="5.3" fill="#d65ede"/><rect x="627.0" y="133.6" width="5.3" height="5.3" fill="#d056d8"/><rect x="632.0" y="133.6" width="5.3" height="5.3" fill="#cc50d4"/><rect x="637.0" y="133.6" width="5.3" height="5.3" fill="#cc52d4"/><rect x="642.0" y="133.6" width="5.3" height="5.3" fill="#d25ada"/><rect x="647.0" y="133.6" width="5.3" height="5.3" fill="#de68e6"/><rect x="652.0" y="133.6" width="5.3" height="5.3" fill="#e678ee"/><rect x="657.0" y="133.6" width="5.3" height="5.3" fill="#ec84f2"/><rect x="662.0" y="133.6" width="5.3" height="5.3" fill="#f08cf6"/><rect x="667.0" y="133.6" width="5.3" height="5.3" fill="#f292f8"/><rect x="672.0" y="133.6" width="5.3" height="5.3" fill="#f496f8"/><rect x="472.0" y="138.6" width="5.3" height="5.3" fill="#f498fa"/><rect x="477.0" y="138.6" width="5.3" height="5.3" fill="#f496f8"/><rect x="482.0" y="138.6" width="10.3" height="5.3" fill="#f494f8"/><rect x="492.0" y="138.6" width="5.3" height="5.3" fill="#f294f8"/><rect x="497.0" y="138.6" width="5.3" height="5.3" fill="#f08ef6"/><rect x="502.0" y="138.6" width="5.3" height="5.3" fill="#e87ef0"/><rect x="507.0" y="138.6" width="5.3" height="5.3" fill="#da64e2"/><rect x="512.0" y="138.6" width="5.3" height="5.3" fill="#ce54d6"/><rect x="517.0" y="138.6" width="5.3" height="5.3" fill="#cc50d4"/><rect x="522.0" y="138.6" width="5.3" height="5.3" fill="#c84ed0"/><rect x="527.0" y="138.6" width="5.3" height="5.3" fill="#c84cd0"/><rect x="532.0" y="138.6" width="5.3" height="5.3" fill="#c446cc"/><rect x="537.0" y="138.6" width="5.3" height="5.3" fill="#bc3ec4"/><rect x="542.0" y="138.6" width="5.3" height="5.3" fill="#b436bc"/><rect x="547.0" y="138.6" width="5.3" height="5.3" fill="#b234ba"/><rect x="552.0" y="138.6" width="5.3" height="5.3" fill="#b638be"/><rect x="557.0" y="138.6" width="5.3" height="5.3" fill="#be40c6"/><rect x="562.0" y="138.6" width="5.3" height="5.3" fill="#ce54d6"/><rect x="567.0" y="138.6" width="5.3" height="5.3" fill="#d25ada"/><rect x="572.0" y="138.6" width="5.3" height="5.3" fill="#d862e0"/><rect x="577.0" y="138.6" width="5.3" height="5.3" fill="#de6ce6"/><rect x="582.0" y="138.6" width="5.3" height="5.3" fill="#e476ec"/><rect x="587.0" y="138.6" width="5.3" height="5.3" fill="#e87ef0"/><rect x="592.0" y="138.6" width="5.3" height="5.3" fill="#ea80f2"/><rect x="597.0" y="138.6" width="5.3" height="5.3" fill="#e87ef0"/><rect x="602.0" y="138.6" width="5.3" height="5.3" fill="#e678ee"/><rect x="607.0" y="138.6" width="5.3" height="5.3" fill="#e474ec"/><rect x="612.0" y="138.6" width="10.3" height="5.3" fill="#e272ea"/><rect x="622.0" y="138.6" width="5.3" height="5.3" fill="#e06ee8"/><rect x="627.0" y="138.6" width="5.3" height="5.3" fill="#da64e2"/><rect x="632.0" y="138.6" width="5.3" height="5.3" fill="#d258da"/><rect x="637.0" y="138.6" width="5.3" height="5.3" fill="#d056d8"/><rect x="642.0" y="138.6" width="5.3" height="5.3" fill="#d65ede"/><rect x="647.0" y="138.6" width="5.3" height="5.3" fill="#e06ee8"/><rect x="652.0" y="138.6" width="5.3" height="5.3" fill="#e87cf0"/><rect x="657.0" y="138.6" width="5.3" height="5.3" fill="#ee86f4"/><rect x="662.0" y="138.6" width="5.3" height="5.3" fill="#f290f6"/><rect x="667.0" y="138.6" width="5.3" height="5.3" fill="#f496f8"/><rect x="672.0" y="138.6" width="5.3" height="5.3" fill="#f49afa"/><rect x="472.0" y="143.6" width="5.3" height="5.3" fill="#f2a0fa"/><rect x="477.0" y="143.6" width="5.3" height="5.3" fill="#f29efa"/><rect x="482.0" y="143.6" width="10.3" height="5.3" fill="#f49cfa"/><rect x="492.0" y="143.6" width="10.3" height="5.3" fill="#f29efa"/><rect x="502.0" y="143.6" width="5.3" height="5.3" fill="#ee8af6"/><rect x="507.0" y="143.6" width="5.3" height="5.3" fill="#e272ea"/><rect x="512.0" y="143.6" width="5.3" height="5.3" fill="#d65ede"/><rect x="517.0" y="143.6" width="5.3" height="5.3" fill="#ce54d6"/><rect x="522.0" y="143.6" width="5.3" height="5.3" fill="#c84cd0"/><rect x="527.0" y="143.6" width="5.3" height="5.3" fill="#c246ca"/><rect x="532.0" y="143.6" width="5.3" height="5.3" fill="#c244ca"/><rect x="537.0" y="143.6" width="5.3" height="5.3" fill="#be40c6"/><rect x="542.0" y="143.6" width="5.3" height="5.3" fill="#b638be"/><rect x="547.0" y="143.6" width="5.3" height="5.3" fill="#b234ba"/><rect x="552.0" y="143.6" width="5.3" height="5.3" fill="#b83ac0"/><rect x="557.0" y="143.6" width="5.3" height="5.3" fill="#c246ca"/><rect x="562.0" y="143.6" width="5.3" height="5.3" fill="#ce54d6"/><rect x="567.0" y="143.6" width="5.3" height="5.3" fill="#d660de"/><rect x="572.0" y="143.6" width="5.3" height="5.3" fill="#de6ae6"/><rect x="577.0" y="143.6" width="5.3" height="5.3" fill="#e474ec"/><rect x="582.0" y="143.6" width="5.3" height="5.3" fill="#ea7ef0"/><rect x="587.0" y="143.6" width="5.3" height="5.3" fill="#ee88f4"/><rect x="592.0" y="143.6" width="5.3" height="5.3" fill="#f290f6"/><rect x="597.0" y="143.6" width="5.3" height="5.3" fill="#f08cf6"/><rect x="602.0" y="143.6" width="5.3" height="5.3" fill="#ee86f4"/><rect x="607.0" y="143.6" width="5.3" height="5.3" fill="#ea82f2"/><rect x="612.0" y="143.6" width="5.3" height="5.3" fill="#e87ef0"/><rect x="617.0" y="143.6" width="10.3" height="5.3" fill="#e87cf0"/><rect x="627.0" y="143.6" width="5.3" height="5.3" fill="#e06ee8"/><rect x="632.0" y="143.6" width="5.3" height="5.3" fill="#d862e0"/><rect x="637.0" y="143.6" width="5.3" height="5.3" fill="#d25ada"/><rect x="642.0" y="143.6" width="5.3" height="5.3" fill="#da66e2"/><rect x="647.0" y="143.6" width="5.3" height="5.3" fill="#e476ec"/><rect x="652.0" y="143.6" width="5.3" height="5.3" fill="#ec84f2"/><rect x="657.0" y="143.6" width="5.3" height="5.3" fill="#f08ef6"/><rect x="662.0" y="143.6" width="5.3" height="5.3" fill="#f496f8"/><rect x="667.0" y="143.6" width="5.3" height="5.3" fill="#f49cfa"/><rect x="672.0" y="143.6" width="5.3" height="5.3" fill="#f29efa"/><rect x="472.0" y="148.6" width="5.3" height="5.3" fill="#e4a6fa"/><rect x="477.0" y="148.6" width="5.3" height="5.3" fill="#e8a4fa"/><rect x="482.0" y="148.6" width="10.3" height="5.3" fill="#f0a0fa"/><rect x="492.0" y="148.6" width="5.3" height="5.3" fill="#f2a0fa"/><rect x="497.0" y="148.6" width="5.3" height="5.3" fill="#f49cfa"/><rect x="502.0" y="148.6" width="5.3" height="5.3" fill="#f08ef6"/><rect x="507.0" y="148.6" width="5.3" height="5.3" fill="#e67aee"/><rect x="512.0" y="148.6" width="5.3" height="5.3" fill="#de68e6"/><rect x="517.0" y="148.6" width="5.3" height="5.3" fill="#d25ada"/><rect x="522.0" y="148.6" width="5.3" height="5.3" fill="#c84cd0"/><rect x="527.0" y="148.6" width="5.3" height="5.3" fill="#c042c8"/><rect x="532.0" y="148.6" width="5.3" height="5.3" fill="#c246ca"/><rect x="537.0" y="148.6" width="5.3" height="5.3" fill="#c042c8"/><rect x="542.0" y="148.6" width="5.3" height="5.3" fill="#ba3cc2"/><rect x="547.0" y="148.6" width="5.3" height="5.3" fill="#b638be"/><rect x="552.0" y="148.6" width="5.3" height="5.3" fill="#ba3cc2"/><rect x="557.0" y="148.6" width="5.3" height="5.3" fill="#c246ca"/><rect x="562.0" y="148.6" width="5.3" height="5.3" fill="#ce54d6"/><rect x="567.0" y="148.6" width="5.3" height="5.3" fill="#d862e0"/><rect x="572.0" y="148.6" width="5.3" height="5.3" fill="#e06ee8"/><rect x="577.0" y="148.6" width="5.3" height="5.3" fill="#e87af0"/><rect x="582.0" y="148.6" width="5.3" height="5.3" fill="#ec84f2"/><rect x="587.0" y="148.6" width="5.3" height="5.3" fill="#f08cf6"/><rect x="592.0" y="148.6" width="5.3" height="5.3" fill="#f494f8"/><rect x="597.0" y="148.6" width="5.3" height="5.3" fill="#f292f8"/><rect x="602.0" y="148.6" width="5.3" height="5.3" fill="#f290f6"/><rect x="607.0" y="148.6" width="5.3" height="5.3" fill="#f08cf6"/><rect x="612.0" y="148.6" width="5.3" height="5.3" fill="#ee88f4"/><rect x="617.0" y="148.6" width="5.3" height="5.3" fill="#ec84f2"/><rect x="622.0" y="148.6" width="5.3" height="5.3" fill="#ea80f2"/><rect x="627.0" y="148.6" width="5.3" height="5.3" fill="#e476ec"/><rect x="632.0" y="148.6" width="5.3" height="5.3" fill="#de6ce6"/><rect x="637.0" y="148.6" width="5.3" height="5.3" fill="#da66e2"/><rect x="642.0" y="148.6" width="5.3" height="5.3" fill="#e070e8"/><rect x="647.0" y="148.6" width="5.3" height="5.3" fill="#ea82f2"/><rect x="652.0" y="148.6" width="5.3" height="5.3" fill="#f08ef6"/><rect x="657.0" y="148.6" width="5.3" height="5.3" fill="#f496f8"/><rect x="662.0" y="148.6" width="5.3" height="5.3" fill="#f49cfa"/><rect x="667.0" y="148.6" width="5.3" height="5.3" fill="#f0a0fa"/><rect x="672.0" y="148.6" width="5.3" height="5.3" fill="#eaa4fa"/><rect x="472.0" y="153.6" width="5.3" height="5.3" fill="#d4acfa"/><rect x="477.0" y="153.6" width="5.3" height="5.3" fill="#d2acfa"/><rect x="482.0" y="153.6" width="5.3" height="5.3" fill="#e2a6fa"/><rect x="487.0" y="153.6" width="5.3" height="5.3" fill="#eea2fa"/><rect x="492.0" y="153.6" width="5.3" height="5.3" fill="#f29efa"/><rect x="497.0" y="153.6" width="5.3" height="5.3" fill="#f496f8"/><rect x="502.0" y="153.6" width="5.3" height="5.3" fill="#ee8af4"/><rect x="507.0" y="153.6" width="5.3" height="5.3" fill="#e87ef0"/><rect x="512.0" y="153.6" width="5.3" height="5.3" fill="#e272ea"/><rect x="517.0" y="153.6" width="5.3" height="5.3" fill="#da64e2"/><rect x="522.0" y="153.6" width="5.3" height="5.3" fill="#d258da"/><rect x="527.0" y="153.6" width="10.3" height="5.3" fill="#cc52d4"/><rect x="537.0" y="153.6" width="5.3" height="5.3" fill="#ca50d2"/><rect x="542.0" y="153.6" width="5.3" height="5.3" fill="#c448cc"/><rect x="547.0" y="153.6" width="10.3" height="5.3" fill="#be40c6"/><rect x="557.0" y="153.6" width="5.3" height="5.3" fill="#c446cc"/><rect x="562.0" y="153.6" width="5.3" height="5.3" fill="#d056d8"/><rect x="567.0" y="153.6" width="5.3" height="5.3" fill="#da64e2"/><rect x="572.0" y="153.6" width="5.3" height="5.3" fill="#e272ea"/><rect x="577.0" y="153.6" width="5.3" height="5.3" fill="#ea7ef0"/><rect x="582.0" y="153.6" width="5.3" height="5.3" fill="#ee88f4"/><rect x="587.0" y="153.6" width="5.3" height="5.3" fill="#ee86f4"/><rect x="592.0" y="153.6" width="5.3" height="5.3" fill="#ee88f4"/><rect x="597.0" y="153.6" width="5.3" height="5.3" fill="#f290f8"/><rect x="602.0" y="153.6" width="5.3" height="5.3" fill="#f496f8"/><rect x="607.0" y="153.6" width="5.3" height="5.3" fill="#f494f8"/><rect x="612.0" y="153.6" width="5.3" height="5.3" fill="#f290f6"/><rect x="617.0" y="153.6" width="5.3" height="5.3" fill="#f08cf6"/><rect x="622.0" y="153.6" width="5.3" height="5.3" fill="#ec86f4"/><rect x="627.0" y="153.6" width="5.3" height="5.3" fill="#ea7ef0"/><rect x="632.0" y="153.6" width="5.3" height="5.3" fill="#e476ec"/><rect x="637.0" y="153.6" width="5.3" height="5.3" fill="#e270ea"/><rect x="642.0" y="153.6" width="5.3" height="5.3" fill="#e87af0"/><rect x="647.0" y="153.6" width="5.3" height="5.3" fill="#ee8af6"/><rect x="652.0" y="153.6" width="5.3" height="5.3" fill="#f496f8"/><rect x="657.0" y="153.6" width="5.3" height="5.3" fill="#f29efa"/><rect x="662.0" y="153.6" width="5.3" height="5.3" fill="#eea2fa"/><rect x="667.0" y="153.6" width="5.3" height="5.3" fill="#e4a6fa"/><rect x="672.0" y="153.6" width="5.3" height="5.3" fill="#daaafa"/><rect x="472.0" y="158.6" width="5.3" height="5.3" fill="#ceaefa"/><rect x="477.0" y="158.6" width="5.3" height="5.3" fill="#caaefa"/><rect x="482.0" y="158.6" width="5.3" height="5.3" fill="#d8aafa"/><rect x="487.0" y="158.6" width="5.3" height="5.3" fill="#e8a4fa"/><rect x="492.0" y="158.6" width="5.3" height="5.3" fill="#f29efa"/><rect x="497.0" y="158.6" width="5.3" height="5.3" fill="#f496f8"/><rect x="502.0" y="158.6" width="5.3" height="5.3" fill="#f08ef6"/><rect x="507.0" y="158.6" width="5.3" height="5.3" fill="#ec84f4"/><rect x="512.0" y="158.6" width="5.3" height="5.3" fill="#e67aee"/><rect x="517.0" y="158.6" width="5.3" height="5.3" fill="#e06ee8"/><rect x="522.0" y="158.6" width="5.3" height="5.3" fill="#dc68e4"/><rect x="527.0" y="158.6" width="5.3" height="5.3" fill="#da66e2"/><rect x="532.0" y="158.6" width="5.3" height="5.3" fill="#dc66e4"/><rect x="537.0" y="158.6" width="5.3" height="5.3" fill="#da64e2"/><rect x="542.0" y="158.6" width="5.3" height="5.3" fill="#d258da"/><rect x="547.0" y="158.6" width="5.3" height="5.3" fill="#ca50d2"/><rect x="552.0" y="158.6" width="5.3" height="5.3" fill="#c448cc"/><rect x="557.0" y="158.6" width="5.3" height="5.3" fill="#c84cd0"/><rect x="562.0" y="158.6" width="5.3" height="5.3" fill="#d45cdc"/><rect x="567.0" y="158.6" width="5.3" height="5.3" fill="#de68e6"/><rect x="572.0" y="158.6" width="5.3" height="5.3" fill="#e474ec"/><rect x="577.0" y="158.6" width="5.3" height="5.3" fill="#ea80f2"/><rect x="582.0" y="158.6" width="5.3" height="5.3" fill="#ee88f4"/><rect x="587.0" y="158.6" width="5.3" height="5.3" fill="#ec86f4"/><rect x="592.0" y="158.6" width="5.3" height="5.3" fill="#ec84f4"/><rect x="597.0" y="158.6" width="5.3" height="5.3" fill="#f292f8"/><rect x="602.0" y="158.6" width="10.3" height="5.3" fill="#f498fa"/><rect x="612.0" y="158.6" width="5.3" height="5.3" fill="#f494f8"/><rect x="617.0" y="158.6" width="5.3" height="5.3" fill="#f292f8"/><rect x="622.0" y="158.6" width="5.3" height="5.3" fill="#f08ef6"/><rect x="627.0" y="158.6" width="5.3" height="5.3" fill="#ee8af4"/><rect x="632.0" y="158.6" width="5.3" height="5.3" fill="#ec84f2"/><rect x="637.0" y="158.6" width="5.3" height="5.3" fill="#ea82f2"/><rect x="642.0" y="158.6" width="5.3" height="5.3" fill="#ee88f4"/><rect x="647.0" y="158.6" width="5.3" height="5.3" fill="#f292f8"/><rect x="652.0" y="158.6" width="5.3" height="5.3" fill="#f49cfa"/><rect x="657.0" y="158.6" width="5.3" height="5.3" fill="#eca2fa"/><rect x="662.0" y="158.6" width="5.3" height="5.3" fill="#dea8fa"/><rect x="667.0" y="158.6" width="5.3" height="5.3" fill="#d2acfa"/><rect x="672.0" y="158.6" width="5.3" height="5.3" fill="#caaefa"/><rect x="472.0" y="163.6" width="5.3" height="5.3" fill="#ccaefa"/><rect x="477.0" y="163.6" width="5.3" height="5.3" fill="#ceaefa"/><rect x="482.0" y="163.6" width="5.3" height="5.3" fill="#d8aafa"/><rect x="487.0" y="163.6" width="5.3" height="5.3" fill="#e4a6fa"/><rect x="492.0" y="163.6" width="5.3" height="5.3" fill="#f0a0fa"/><rect x="497.0" y="163.6" width="5.3" height="5.3" fill="#f49afa"/><rect x="502.0" y="163.6" width="5.3" height="5.3" fill="#f294f8"/><rect x="507.0" y="163.6" width="5.3" height="5.3" fill="#f08cf6"/><rect x="512.0" y="163.6" width="5.3" height="5.3" fill="#ea82f2"/><rect x="517.0" y="163.6" width="5.3" height="5.3" fill="#e678ee"/><rect x="522.0" y="163.6" width="5.3" height="5.3" fill="#e272ea"/><rect x="527.0" y="163.6" width="5.3" height="5.3" fill="#e474ec"/><rect x="532.0" y="163.6" width="5.3" height="5.3" fill="#e678ee"/><rect x="537.0" y="163.6" width="5.3" height="5.3" fill="#e476ec"/><rect x="542.0" y="163.6" width="5.3" height="5.3" fill="#de6ae6"/><rect x="547.0" y="163.6" width="5.3" height="5.3" fill="#d860e0"/><rect x="552.0" y="163.6" width="5.3" height="5.3" fill="#d45cdc"/><rect x="557.0" y="163.6" width="5.3" height="5.3" fill="#d65ede"/><rect x="562.0" y="163.6" width="5.3" height="5.3" fill="#dc66e4"/><rect x="567.0" y="163.6" width="5.3" height="5.3" fill="#e070e8"/><rect x="572.0" y="163.6" width="5.3" height="5.3" fill="#e678ee"/><rect x="577.0" y="163.6" width="5.3" height="5.3" fill="#ea82f2"/><rect x="582.0" y="163.6" width="5.3" height="5.3" fill="#ee8af4"/><rect x="587.0" y="163.6" width="5.3" height="5.3" fill="#f08ef6"/><rect x="592.0" y="163.6" width="5.3" height="5.3" fill="#f292f8"/><rect x="597.0" y="163.6" width="5.3" height="5.3" fill="#f498f8"/><rect x="602.0" y="163.6" width="10.3" height="5.3" fill="#f49afa"/><rect x="612.0" y="163.6" width="5.3" height="5.3" fill="#f698fa"/><rect x="617.0" y="163.6" width="5.3" height="5.3" fill="#f496f8"/><rect x="622.0" y="163.6" width="5.3" height="5.3" fill="#f498f8"/><rect x="627.0" y="163.6" width="5.3" height="5.3" fill="#f496f8"/><rect x="632.0" y="163.6" width="5.3" height="5.3" fill="#f290f8"/><rect x="637.0" y="163.6" width="5.3" height="5.3" fill="#f08ef6"/><rect x="642.0" y="163.6" width="5.3" height="5.3" fill="#f292f8"/><rect x="647.0" y="163.6" width="5.3" height="5.3" fill="#f49afa"/><rect x="652.0" y="163.6" width="5.3" height="5.3" fill="#f0a2fa"/><rect x="657.0" y="163.6" width="5.3" height="5.3" fill="#dea8fa"/><rect x="662.0" y="163.6" width="5.3" height="5.3" fill="#ccaefa"/><rect x="667.0" y="163.6" width="5.3" height="5.3" fill="#c0b2fa"/><rect x="672.0" y="163.6" width="5.3" height="5.3" fill="#b8b4fa"/><rect x="477.0" y="168.6" width="5.3" height="5.3" fill="#d0acfa"/><rect x="482.0" y="168.6" width="5.3" height="5.3" fill="#d8aafa"/><rect x="487.0" y="168.6" width="5.3" height="5.3" fill="#e2a6fa"/><rect x="492.0" y="168.6" width="5.3" height="5.3" fill="#eea2fa"/><rect x="497.0" y="168.6" width="5.3" height="5.3" fill="#f29efa"/><rect x="502.0" y="168.6" width="5.3" height="5.3" fill="#f498fa"/><rect x="507.0" y="168.6" width="5.3" height="5.3" fill="#f290f6"/><rect x="512.0" y="168.6" width="5.3" height="5.3" fill="#ee88f4"/><rect x="517.0" y="168.6" width="5.3" height="5.3" fill="#ea7ef0"/><rect x="522.0" y="168.6" width="5.3" height="5.3" fill="#e67aee"/><rect x="527.0" y="168.6" width="5.3" height="5.3" fill="#e87cf0"/><rect x="532.0" y="168.6" width="5.3" height="5.3" fill="#ea7ef0"/><rect x="537.0" y="168.6" width="5.3" height="5.3" fill="#e87cf0"/><rect x="542.0" y="168.6" width="5.3" height="5.3" fill="#e476ec"/><rect x="547.0" y="168.6" width="5.3" height="5.3" fill="#e270ea"/><rect x="552.0" y="168.6" width="5.3" height="5.3" fill="#e06ee8"/><rect x="557.0" y="168.6" width="5.3" height="5.3" fill="#e270ea"/><rect x="562.0" y="168.6" width="5.3" height="5.3" fill="#e474ec"/><rect x="567.0" y="168.6" width="5.3" height="5.3" fill="#e678ee"/><rect x="572.0" y="168.6" width="5.3" height="5.3" fill="#e87cf0"/><rect x="577.0" y="168.6" width="5.3" height="5.3" fill="#ec84f2"/><rect x="582.0" y="168.6" width="5.3" height="5.3" fill="#f290f6"/><rect x="587.0" y="168.6" width="5.3" height="5.3" fill="#f498f8"/><rect x="592.0" y="168.6" width="10.3" height="5.3" fill="#f49cfa"/><rect x="602.0" y="168.6" width="10.3" height="5.3" fill="#f29efa"/><rect x="612.0" y="168.6" width="10.3" height="5.3" fill="#f49cfa"/><rect x="622.0" y="168.6" width="10.3" height="5.3" fill="#f29efa"/><rect x="632.0" y="168.6" width="5.3" height="5.3" fill="#f49cfa"/><rect x="637.0" y="168.6" width="5.3" height="5.3" fill="#f698fa"/><rect x="642.0" y="168.6" width="5.3" height="5.3" fill="#f69afa"/><rect x="647.0" y="168.6" width="5.3" height="5.3" fill="#f0a2fa"/><rect x="652.0" y="168.6" width="5.3" height="5.3" fill="#dcaafa"/><rect x="657.0" y="168.6" width="5.3" height="5.3" fill="#c8b0fa"/><rect x="662.0" y="168.6" width="5.3" height="5.3" fill="#b4b6fa"/><rect x="667.0" y="168.6" width="5.3" height="5.3" fill="#a8b8fa"/><rect x="672.0" y="168.6" width="5.3" height="5.3" fill="#a4bafa"/><rect x="497.0" y="173.6" width="5.3" height="5.3" fill="#f2a0fa"/><rect x="502.0" y="173.6" width="5.3" height="5.3" fill="#f49cfa"/><rect x="507.0" y="173.6" width="5.3" height="5.3" fill="#f496f8"/><rect x="512.0" y="173.6" width="5.3" height="5.3" fill="#f08ef6"/><rect x="517.0" y="173.6" width="5.3" height="5.3" fill="#ee86f4"/><rect x="522.0" y="173.6" width="15.3" height="5.3" fill="#ec84f2"/><rect x="537.0" y="173.6" width="5.3" height="5.3" fill="#ec82f2"/><rect x="542.0" y="173.6" width="5.3" height="5.3" fill="#ea80f2"/><rect x="547.0" y="173.6" width="5.3" height="5.3" fill="#e87ef0"/><rect x="552.0" y="173.6" width="5.3" height="5.3" fill="#e87cf0"/><rect x="557.0" y="173.6" width="5.3" height="5.3" fill="#e87ef0"/><rect x="562.0" y="173.6" width="5.3" height="5.3" fill="#ea80f2"/><rect x="567.0" y="173.6" width="5.3" height="5.3" fill="#ec82f2"/><rect x="572.0" y="173.6" width="5.3" height="5.3" fill="#ec86f4"/><rect x="577.0" y="173.6" width="5.3" height="5.3" fill="#f08cf6"/><rect x="582.0" y="173.6" width="5.3" height="5.3" fill="#f498fa"/><rect x="587.0" y="173.6" width="5.3" height="5.3" fill="#f29efa"/><rect x="592.0" y="173.6" width="10.3" height="5.3" fill="#f0a0fa"/><rect x="602.0" y="173.6" width="15.3" height="5.3" fill="#f0a2fa"/><rect x="617.0" y="173.6" width="5.3" height="5.3" fill="#eea2fa"/><rect x="622.0" y="173.6" width="5.3" height="5.3" fill="#eaa4fa"/><rect x="627.0" y="173.6" width="5.3" height="5.3" fill="#e8a4fa"/><rect x="632.0" y="173.6" width="5.3" height="5.3" fill="#eca4fa"/><rect x="637.0" y="173.6" width="5.3" height="5.3" fill="#f0a2fa"/><rect x="642.0" y="173.6" width="5.3" height="5.3" fill="#eaa4fa"/><rect x="647.0" y="173.6" width="5.3" height="5.3" fill="#d8aafa"/><rect x="652.0" y="173.6" width="5.3" height="5.3" fill="#c2b0fa"/><rect x="657.0" y="173.6" width="5.3" height="5.3" fill="#aab8fa"/><rect x="662.0" y="173.6" width="5.3" height="5.3" fill="#94befa"/><rect x="667.0" y="173.6" width="5.3" height="5.3" fill="#8cc0fa"/><rect x="672.0" y="173.6" width="5.3" height="5.3" fill="#90c0fa"/><rect x="502.0" y="178.6" width="5.3" height="5.3" fill="#f29efa"/><rect x="507.0" y="178.6" width="5.3" height="5.3" fill="#f69afa"/><rect x="512.0" y="178.6" width="5.3" height="5.3" fill="#f494f8"/><rect x="517.0" y="178.6" width="5.3" height="5.3" fill="#f290f6"/><rect x="522.0" y="178.6" width="10.3" height="5.3" fill="#f08cf6"/><rect x="532.0" y="178.6" width="5.3" height="5.3" fill="#f08af6"/><rect x="537.0" y="178.6" width="5.3" height="5.3" fill="#ee8af4"/><rect x="542.0" y="178.6" width="20.3" height="5.3" fill="#ee88f4"/><rect x="562.0" y="178.6" width="5.3" height="5.3" fill="#ee8af6"/><rect x="567.0" y="178.6" width="5.3" height="5.3" fill="#f08cf6"/><rect x="572.0" y="178.6" width="5.3" height="5.3" fill="#f292f8"/><rect x="577.0" y="178.6" width="5.3" height="5.3" fill="#f69afa"/><rect x="582.0" y="178.6" width="5.3" height="5.3" fill="#f0a2fa"/><rect x="587.0" y="178.6" width="5.3" height="5.3" fill="#eca2fa"/><rect x="592.0" y="178.6" width="5.3" height="5.3" fill="#eaa4fa"/><rect x="597.0" y="178.6" width="5.3" height="5.3" fill="#e8a4fa"/><rect x="602.0" y="178.6" width="5.3" height="5.3" fill="#e6a6fa"/><rect x="607.0" y="178.6" width="5.3" height="5.3" fill="#e4a6fa"/><rect x="612.0" y="178.6" width="5.3" height="5.3" fill="#e2a6fa"/><rect x="617.0" y="178.6" width="5.3" height="5.3" fill="#e0a8fa"/><rect x="622.0" y="178.6" width="5.3" height="5.3" fill="#dea8fa"/><rect x="627.0" y="178.6" width="10.3" height="5.3" fill="#daaafa"/><rect x="637.0" y="178.6" width="5.3" height="5.3" fill="#d6aafa"/><rect x="642.0" y="178.6" width="5.3" height="5.3" fill="#ceaefa"/><rect x="647.0" y="178.6" width="5.3" height="5.3" fill="#c0b2fa"/><rect x="652.0" y="178.6" width="5.3" height="5.3" fill="#aeb8fa"/><rect x="657.0" y="178.6" width="5.3" height="5.3" fill="#94befa"/><rect x="662.0" y="178.6" width="5.3" height="5.3" fill="#72c6fa"/><rect x="667.0" y="178.6" width="5.3" height="5.3" fill="#78c6fa"/><rect x="672.0" y="178.6" width="5.3" height="5.3" fill="#80c4fa"/><rect x="517.0" y="183.6" width="5.3" height="5.3" fill="#f496f8"/><rect x="522.0" y="183.6" width="5.3" height="5.3" fill="#f494f8"/><rect x="527.0" y="183.6" width="5.3" height="5.3" fill="#f292f8"/><rect x="537.0" y="183.6" width="20.3" height="5.3" fill="#f290f6"/><rect x="557.0" y="183.6" width="5.3" height="5.3" fill="#f290f8"/><rect x="562.0" y="183.6" width="5.3" height="5.3" fill="#f292f8"/><rect x="567.0" y="183.6" width="5.3" height="5.3" fill="#f496f8"/><rect x="572.0" y="183.6" width="5.3" height="5.3" fill="#f69afa"/><rect x="577.0" y="183.6" width="5.3" height="5.3" fill="#f29efa"/><rect x="582.0" y="183.6" width="5.3" height="5.3" fill="#eca2fa"/><rect x="587.0" y="183.6" width="5.3" height="5.3" fill="#e4a6fa"/><rect x="592.0" y="183.6" width="5.3" height="5.3" fill="#e2a8fa"/><rect x="597.0" y="183.6" width="5.3" height="5.3" fill="#dea8fa"/><rect x="602.0" y="183.6" width="5.3" height="5.3" fill="#dcaafa"/><rect x="607.0" y="183.6" width="5.3" height="5.3" fill="#daaafa"/><rect x="612.0" y="183.6" width="5.3" height="5.3" fill="#d8aafa"/><rect x="617.0" y="183.6" width="5.3" height="5.3" fill="#d6acfa"/><rect x="622.0" y="183.6" width="5.3" height="5.3" fill="#d2acfa"/><rect x="627.0" y="183.6" width="5.3" height="5.3" fill="#ceaefa"/><rect x="632.0" y="183.6" width="5.3" height="5.3" fill="#caaefa"/><rect x="637.0" y="183.6" width="5.3" height="5.3" fill="#c4b0fa"/><rect x="642.0" y="183.6" width="5.3" height="5.3" fill="#bab4fa"/><rect x="647.0" y="183.6" width="5.3" height="5.3" fill="#aeb8fa"/><rect x="652.0" y="183.6" width="5.3" height="5.3" fill="#a4bafa"/><rect x="657.0" y="183.6" width="5.3" height="5.3" fill="#8ec0fa"/><rect x="662.0" y="183.6" width="5.3" height="5.3" fill="#78c6fa"/><rect x="667.0" y="183.6" width="5.3" height="5.3" fill="#74c6fa"/><rect x="672.0" y="183.6" width="5.3" height="5.3" fill="#78c6fa"/><rect x="537.0" y="188.6" width="5.3" height="5.3" fill="#f498f8"/><rect x="542.0" y="188.6" width="10.3" height="5.3" fill="#f496f8"/><rect x="552.0" y="188.6" width="5.3" height="5.3" fill="#f498f8"/><rect x="557.0" y="188.6" width="5.3" height="5.3" fill="#f698fa"/><rect x="562.0" y="188.6" width="5.3" height="5.3" fill="#f49afa"/><rect x="567.0" y="188.6" width="5.3" height="5.3" fill="#f49cfa"/><rect x="572.0" y="188.6" width="5.3" height="5.3" fill="#f29efa"/><rect x="577.0" y="188.6" width="5.3" height="5.3" fill="#eea2fa"/><rect x="582.0" y="188.6" width="5.3" height="5.3" fill="#e6a6fa"/><rect x="587.0" y="188.6" width="5.3" height="5.3" fill="#e0a8fa"/><rect x="592.0" y="188.6" width="5.3" height="5.3" fill="#daaafa"/><rect x="597.0" y="188.6" width="5.3" height="5.3" fill="#d6aafa"/><rect x="602.0" y="188.6" width="5.3" height="5.3" fill="#d4acfa"/><rect x="607.0" y="188.6" width="5.3" height="5.3" fill="#d0acfa"/><rect x="612.0" y="188.6" width="5.3" height="5.3" fill="#ceaefa"/><rect x="617.0" y="188.6" width="5.3" height="5.3" fill="#ccaefa"/><rect x="622.0" y="188.6" width="5.3" height="5.3" fill="#c8b0fa"/><rect x="627.0" y="188.6" width="5.3" height="5.3" fill="#c4b0fa"/><rect x="632.0" y="188.6" width="5.3" height="5.3" fill="#beb2fa"/><rect x="637.0" y="188.6" width="5.3" height="5.3" fill="#b6b4fa"/><rect x="642.0" y="188.6" width="5.3" height="5.3" fill="#aeb8fa"/><rect x="647.0" y="188.6" width="5.3" height="5.3" fill="#a6bafa"/><rect x="652.0" y="188.6" width="5.3" height="5.3" fill="#9cbcfa"/><rect x="657.0" y="188.6" width="5.3" height="5.3" fill="#8cc0fa"/><rect x="662.0" y="188.6" width="5.3" height="5.3" fill="#7cc4fa"/><rect x="667.0" y="188.6" width="5.3" height="5.3" fill="#76c6fa"/><rect x="672.0" y="188.6" width="5.3" height="5.3" fill="#74c6fa"/><rect x="542.0" y="193.6" width="5.3" height="5.3" fill="#f49cfa"/><rect x="557.0" y="193.6" width="10.3" height="5.3" fill="#f29efa"/><rect x="567.0" y="193.6" width="5.3" height="5.3" fill="#f0a0fa"/><rect x="572.0" y="193.6" width="5.3" height="5.3" fill="#eea2fa"/><rect x="577.0" y="193.6" width="5.3" height="5.3" fill="#e6a6fa"/><rect x="582.0" y="193.6" width="5.3" height="5.3" fill="#e0a8fa"/><rect x="587.0" y="193.6" width="5.3" height="5.3" fill="#daaafa"/><rect x="592.0" y="193.6" width="5.3" height="5.3" fill="#d4acfa"/><rect x="597.0" y="193.6" width="5.3" height="5.3" fill="#d0acfa"/><rect x="602.0" y="193.6" width="5.3" height="5.3" fill="#ccaefa"/><rect x="607.0" y="193.6" width="5.3" height="5.3" fill="#cab0fa"/><rect x="612.0" y="193.6" width="5.3" height="5.3" fill="#c6b0fa"/><rect x="617.0" y="193.6" width="5.3" height="5.3" fill="#c2b2fa"/><rect x="622.0" y="193.6" width="5.3" height="5.3" fill="#beb2fa"/><rect x="627.0" y="193.6" width="5.3" height="5.3" fill="#bab4fa"/><rect x="642.0" y="193.6" width="5.3" height="5.3" fill="#a6bafa"/><rect x="647.0" y="193.6" width="5.3" height="5.3" fill="#9ebcfa"/><rect x="652.0" y="193.6" width="5.3" height="5.3" fill="#94befa"/><rect x="657.0" y="193.6" width="5.3" height="5.3" fill="#88c2fa"/><rect x="662.0" y="193.6" width="5.3" height="5.3" fill="#7cc4fa"/><rect x="667.0" y="193.6" width="5.3" height="5.3" fill="#76c6fa"/><rect x="672.0" y="193.6" width="5.3" height="5.3" fill="#74c6fa"/><rect x="567.0" y="198.6" width="5.3" height="5.3" fill="#eaa4fa"/><rect x="592.0" y="198.6" width="5.3" height="5.3" fill="#ceaefa"/><rect x="597.0" y="198.6" width="5.3" height="5.3" fill="#caaefa"/><rect x="602.0" y="198.6" width="5.3" height="5.3" fill="#c6b0fa"/><rect x="612.0" y="198.6" width="5.3" height="5.3" fill="#beb2fa"/><rect x="647.0" y="198.6" width="5.3" height="5.3" fill="#96befa"/><rect x="652.0" y="198.6" width="5.3" height="5.3" fill="#8ec0fa"/><rect x="657.0" y="198.6" width="5.3" height="5.3" fill="#84c2fa"/><rect x="662.0" y="198.6" width="5.3" height="5.3" fill="#7cc4fa"/><rect x="667.0" y="198.6" width="5.3" height="5.3" fill="#76c6fa"/><rect x="672.0" y="198.6" width="5.3" height="5.3" fill="#74c6fa"/><rect x="657.0" y="203.6" width="5.3" height="5.3" fill="#82c4fa"/></g></g><path d="M479.0,73.9 L503.4,73.9M503.4,73.9 L503.4,65.3 L502.0,61.1 L498.5,56.9M492.6,73.9 L492.6,91.9M492.6,91.9 L570.0,91.9M503.4,65.3 L506.8,66.6 L511.0,69.4 L513.8,73.6 L514.8,77.7 L518.7,78.7 L523.6,81.9 L527.8,82.3 L529.6,79.8M514.8,77.7 L514.8,91.9M529.6,56.5 L529.6,79.8M529.6,79.5 L544.5,79.5M544.5,56.5 L544.5,91.9M544.5,73.9 L577.3,73.9M566.1,56.5 L566.1,91.9M500.6,95.1 L500.6,113.4M500.6,106.9 L526.4,106.9M526.4,91.9 L526.4,113.4M540.3,91.9 L540.3,111.0M537.5,111.0 L577.3,111.0M559.8,91.9 L559.8,113.4M479.0,104.1 L481.7,100.6 L484.5,98.6 L486.3,99.9 L487.3,103.4 L490.8,105.5 L494.3,104.1 L497.1,100.6 L500.6,97.2M570.0,91.9 L570.0,98.1 L577.3,100.9M500.8,103.9 L500.8,136.5M526.6,103.9 L526.6,146.2M501.3,121.2 L526.4,121.2M479.7,123.3 L493.6,123.3 L493.6,119.8 L501.3,119.8M486.6,136.5 L526.4,136.5M486.6,136.5 L486.6,140.0 L483.1,140.7 L483.1,143.4 L488.7,145.5 L488.7,151.8 L497.8,152.5 L498.5,149.0 L501.3,148.3M499.9,137.2 L502.7,141.4 L502.0,145.5 L506.1,148.3 L506.8,151.8 L510.3,153.8 L511.0,157.3 L514.5,156.6 L514.5,163.8M490.8,152.5 L490.8,163.8M519.4,146.9 L545.2,146.9M519.4,146.9 L519.4,163.8M537.5,110.8 L537.5,125.0 L559.8,125.0M559.8,103.9 L559.8,146.9M545.2,125.0 L545.2,154.5M543.1,154.5 L563.3,154.5M543.1,154.5 L543.1,163.8M563.3,154.5 L563.3,163.8M559.8,146.9 L577.3,146.9M559.8,126.1 L566.1,131.6 L569.6,138.6 L574.5,144.1 L577.3,145.5M490.8,152.1 L490.8,166.0M490.8,152.1 L498.5,152.1 L498.5,148.6M505.5,162.5 L506.8,159.0 L511.0,156.9 L511.0,154.2 L514.5,155.5 L514.5,148.6M518.7,148.6 L518.7,158.3 L525.0,159.0 L525.0,166.6M525.0,166.6 L529.8,165.3 L536.8,163.2 L543.1,161.8M543.1,154.4 L563.3,154.4M543.1,154.4 L543.1,170.8 L563.3,170.8M563.3,154.4 L563.3,181.2M525.0,166.6 L527.1,175.0M563.3,179.4 L577.3,179.8M569.6,162.5 L577.3,166.6M591.4,56.5 L591.4,65.3 L588.3,67.3 L582.7,70.1 L580.7,70.8 L581.4,74.3M581.4,74.3 L585.5,75.7 L582.7,78.4 L587.6,79.1 L590.4,75.7 L593.2,78.4 L595.3,81.9 L598.8,82.6 L600.2,86.1 L604.4,88.2 L607.8,90.9M584.8,79.1 L584.8,88.2 L574.4,88.2M574.4,100.6 L596.0,100.6M596.0,92.3 L596.0,113.4M596.0,92.3 L607.1,92.3M616.9,56.5 L616.9,92.3M623.2,56.5 L623.2,90.9M623.2,73.6 L639.9,73.6M637.1,56.5 L637.1,73.6M651.1,56.5 L651.1,92.3M635.7,77.7 L651.1,77.7M635.7,77.7 L635.7,90.9M651.1,70.8 L664.3,70.8M639.9,73.6 L639.9,77.7M651.1,92.3 L670.6,92.3M658.0,92.3 L658.0,113.4M606.5,92.3 L606.5,95.1 L615.5,95.1 L615.5,104.8 L610.6,104.8 L610.6,113.4M626.0,92.3 L626.0,106.2 L646.9,106.9M632.2,95.1 L642.7,95.1 L644.1,99.3 L641.3,102.0 L642.7,106.2M607.1,92.3 L626.0,92.3M596.0,103.9 L596.0,121.2M577.2,121.2 L596.0,121.2M596.0,115.0 L610.6,115.0M610.6,105.3 L610.6,117.8 L614.1,117.8 L614.1,125.4 L617.6,125.4M577.2,103.9 L577.2,144.1M590.4,124.0 L595.3,123.3 L600.9,121.9 L600.9,145.5M590.4,124.0 L590.4,144.1M601.6,128.9 L617.6,128.9M617.6,117.8 L617.6,133.7M610.6,105.3 L627.4,105.3M627.4,107.4 L627.4,117.8M622.5,119.2 L639.2,117.8 L639.9,126.1M614.8,137.2 L619.0,133.7 L624.6,133.0 L630.2,130.3 L635.7,127.5 L639.2,126.1M627.4,107.4 L646.9,107.4 L646.9,119.2M639.9,126.1 L639.9,137.9M644.1,126.1 L648.3,121.9 L652.5,124.7 L658.0,125.4 L663.6,128.2 L670.6,124.7M635.7,128.9 L635.7,138.6 L655.2,137.9 L655.2,131.6 L658.0,127.5M654.6,138.6 L654.6,144.1 L650.4,144.1 L650.4,155.2M614.1,137.2 L614.1,153.8 L620.4,154.5 L621.1,157.3 L634.3,157.3 L634.3,138.6M599.5,151.1 L614.1,151.1M599.5,151.1 L599.5,163.8M584.1,144.1 L584.1,155.2 L574.4,155.9M574.4,144.1 L603.0,144.1 L603.0,151.1M658.0,103.9 L658.0,114.3M648.3,114.3 L670.6,114.3M599.5,151.4 L613.4,151.4M599.5,151.4 L599.5,164.6 L612.7,164.6 L612.7,161.1M575.8,156.9 L587.6,156.9 L587.6,161.8M586.2,161.8 L586.2,168.0 L577.2,168.0M603.0,164.6 L603.0,176.4M603.0,176.4 L645.5,176.4M595.3,177.7 L597.4,183.3M624.6,161.8 L634.3,158.3M624.6,161.8 L624.6,176.4M619.0,176.4 L619.7,185.4M650.4,161.8 L650.4,172.9 L645.5,172.9 L645.5,182.6M650.4,161.8 L670.6,161.8M634.3,154.2 L634.3,158.3 L621.1,158.3 L621.1,151.4 L614.1,151.4M650.4,148.6 L650.4,154.9 L653.9,154.9 L653.9,161.8M408.4,56.6 L408.4,77.6M446.2,56.6 L446.2,77.6" clip-path="url(#ok)" fill="none" stroke="#4a0452" stroke-opacity="0.65" stroke-width="0.45"/><path d="M375.1,56.6 L664.8,56.6 L665.5,82.7 L669.7,115.3 L670.4,140.0 L670.4,183.0 L669.0,198.7 L665.9,197.7 L660.1,195.8 L654.3,192.9 L648.5,187.8 L644.1,184.9 L638.3,187.0 L631.0,186.3 L625.2,188.5 L619.4,189.2 L613.6,190.7 L609.2,192.9 L604.9,195.0 L600.5,192.2 L597.6,188.5 L593.3,188.5 L587.4,189.2 L583.8,187.0 L580.9,192.2 L577.3,193.6 L575.8,190.0 L571.7,188.7 L567.4,186.5 L563.0,183.6 L557.2,185.8 L552.0,188.7 L545.6,182.9 L544.0,178.5 L541.2,177.5 L535.4,177.0 L531.0,180.0 L525.2,177.0 L519.4,176.3 L513.6,173.4 L507.0,172.7 L505.6,167.6 L501.2,165.0 L499.0,165.9 L493.3,167.3 L488.9,166.6 L484.5,162.5 L478.7,159.6 L478.7,77.6 L375.1,77.6Z" fill="none" stroke="#3a1040" stroke-width="0.7"/><g class="lb" font-size="5.1"><text x="379.4" y="64.3">5</text><text x="393.4" y="71.3">2</text><text x="417.4" y="60.8">4</text><text x="436.4" y="63.8">5</text><text x="423.9" y="75.3">5</text><text x="461.4" y="66.3">5</text><text x="470.4" y="75.3">3</text><text x="492.4" y="65.3">6</text><text x="513.9" y="58.8">5</text><text x="509.4" y="69.5">6</text><text x="524.0" y="70.2">6</text><text x="536.1" y="68.8">5</text><text x="499.7" y="82.4">4</text><text x="512.8" y="92.4">6</text><text x="544.7" y="84.1">3</text><text x="483.4" y="97.5">5</text><text x="502.1" y="99.3">5</text><text x="515.7" y="104.9">5</text><text x="530.6" y="107.4">4</text><text x="550.0" y="106.6">4</text><text x="562.4" y="95.9">2</text><text x="572.2" y="93.5">5</text><text x="566.7" y="107.0">3</text><text x="574.4" y="98.0">3</text><text x="489.2" y="119.8">6</text><text x="505.3" y="118.1">8</text><text x="522.2" y="121.3">5</text><text x="532.0" y="122.3">5</text><text x="547.2" y="119.8">2</text><text x="557.0" y="119.5">2</text><text x="572.9" y="119.5">4</text><text x="568.8" y="124.1">3</text><text x="512.2" y="126.2">6</text><text x="500.3" y="128.5">7</text><text x="486.4" y="134.5">8</text><text x="550.0" y="131.3">2</text><text x="567.4" y="132.7">4</text><text x="532.7" y="136.2">6</text><text x="551.4" y="139.4">4</text><text x="565.3" y="143.1">6</text><text x="512.2" y="143.1">6</text><text x="538.5" y="146.6">5</text><text x="499.7" y="149.8">11</text><text x="548.6" y="150.7">4</text><text x="528.9" y="154.2">5</text><text x="485.4" y="155.9">11</text><text x="502.5" y="159.8">9</text><text x="557.0" y="162.6">5</text><text x="509.7" y="166.7">9</text><text x="522.9" y="174.8">8</text><text x="537.2" y="167.8">8</text><text x="562.5" y="176.2">8</text><text x="574.3" y="188.7">10</text><text x="621.6" y="61.6">3</text><text x="631.0" y="68.8">3</text><text x="644.2" y="67.4">3</text><text x="657.8" y="62.6">2</text><text x="626.6" y="76.4">3</text><text x="659.5" y="80.2">2</text><text x="642.8" y="84.8">3</text><text x="616.5" y="82.7">4</text><text x="577.6" y="85.5">2</text><text x="591.5" y="85.5">5</text><text x="619.9" y="92.1">5</text><text x="636.6" y="94.1">4</text><text x="581.7" y="94.5">3</text><text x="582.4" y="100.5">4</text><text x="600.5" y="99.6">5</text><text x="622.3" y="102.1">6</text><text x="652.6" y="101.4">5</text><text x="664.8" y="100.5">3</text><text x="617.6" y="107.3">6</text><text x="633.1" y="107.3">4</text><text x="605.6" y="109.8">5</text><text x="630.3" y="111.9">5</text><text x="657.4" y="113.5">8</text><text x="590.1" y="114.6">5</text><text x="620.6" y="118.5">7</text><text x="647.7" y="122.3">7</text><text x="659.5" y="124.3">9</text><text x="608.8" y="124.3">7</text><text x="585.2" y="127.4">6</text><text x="629.2" y="130.6">5</text><text x="645.9" y="131.7">6</text><text x="593.5" y="135.5">7</text><text x="605.6" y="139.6">7</text><text x="663.0" y="143.1">9</text><text x="615.1" y="147.7">8</text><text x="625.5" y="147.6">8</text><text x="640.3" y="146.9">6</text><text x="583.8" y="147.6">8</text><text x="595.3" y="151.0">10</text><text x="651.5" y="154.9">9</text><text x="641.0" y="156.6">7</text><text x="606.5" y="159.1">10</text><text x="584.8" y="160.9">9</text><text x="593.5" y="161.6">8</text><text x="594.2" y="171.3">10</text><text x="576.2" y="172.4">8</text><text x="580.6" y="178.2">9</text><text x="585.2" y="183.1">11</text><text x="607.0" y="187.7">12</text><text x="617.8" y="171.6">10</text><text x="628.7" y="174.5">11</text><text x="643.3" y="175.1">10</text><text x="657.7" y="171.6">12</text><text x="633.5" y="182.8">12</text><text x="665.1" y="182.7">17</text><text x="648.0" y="187.0">14</text><text x="655.8" y="191.2">15</text></g></g><rect x="416.6" y="268.3" width="9.5" height="75.7" fill="url(#cbg)"/><line x1="415.1" y1="268.3" x2="416.6" y2="268.3" stroke="#444" stroke-width="0.5"/><text x="414.40000000000003" y="269.8" font-size="4.1" text-anchor="end" fill="#111">120</text><line x1="415.1" y1="279.1" x2="416.6" y2="279.1" stroke="#444" stroke-width="0.5"/><text x="414.40000000000003" y="280.6" font-size="4.1" text-anchor="end" fill="#111">100</text><line x1="415.1" y1="289.9" x2="416.6" y2="289.9" stroke="#444" stroke-width="0.5"/><text x="414.40000000000003" y="291.4" font-size="4.1" text-anchor="end" fill="#111">80</text><line x1="415.1" y1="300.7" x2="416.6" y2="300.7" stroke="#444" stroke-width="0.5"/><text x="414.40000000000003" y="302.2" font-size="4.1" text-anchor="end" fill="#111">60</text><line x1="415.1" y1="311.6" x2="416.6" y2="311.6" stroke="#444" stroke-width="0.5"/><text x="414.40000000000003" y="313.0" font-size="4.1" text-anchor="end" fill="#111">40</text><line x1="415.1" y1="322.4" x2="416.6" y2="322.4" stroke="#444" stroke-width="0.5"/><text x="414.40000000000003" y="323.8" font-size="4.1" text-anchor="end" fill="#111">20</text><line x1="415.1" y1="333.2" x2="416.6" y2="333.2" stroke="#444" stroke-width="0.5"/><text x="414.40000000000003" y="334.7" font-size="4.1" text-anchor="end" fill="#111">0</text><line x1="415.1" y1="344.0" x2="416.6" y2="344.0" stroke="#444" stroke-width="0.5"/><text x="414.40000000000003" y="345.5" font-size="4.1" text-anchor="end" fill="#111">-20</text><text transform="translate(406.9,325.9) rotate(-90)" font-size="4.43" textLength="39.6" lengthAdjust="spacingAndGlyphs" fill="#111">degrees Fahrenheit</text></svg><svg id="misc" width="757" height="432" viewBox="0 0 757 432" style="position:absolute;left:0;top:0">
<defs>
<g id="logo">
 <ellipse cx="15" cy="13.5" rx="15.4" ry="12.6" transform="rotate(-28 15 13.5)" fill="#1f2268"/>
 <ellipse cx="13.7" cy="12.9" rx="13.1" ry="10.7" transform="rotate(-28 13.7 12.9)" fill="none" stroke="#fff" stroke-width="1"/>
 <path d="M16.3,4.8 L19.1,21.2 L13.1,22.5 Z" fill="#fff"/>
 <path d="M16.3,9 L16.1,22" stroke="#1f2268" stroke-width="0.7" fill="none"/>
 <path d="M13.6,4.4 L20.6,4.4 M21.3,4.3 L21.3,13.6 M22.9,5.2 L22.9,12.6 M6.5,14.9 L6.5,18.1 Q6.7,19.6 8.8,19.6 L12.5,19.6 M14.6,14.5 L18.2,16.7 M14,18.2 L19,15.2" stroke="#fff" stroke-width="0.9" fill="none"/>
 <text x="32.6" y="19.7" font-size="17.4" font-weight="bold" font-style="italic" fill="#1f2268" stroke="#1f2268" stroke-width="0.9" textLength="88.5" lengthAdjust="spacingAndGlyphs" transform="translate(2.8 0) skewX(-8)">Mesonet</text>
</g>
</defs>
<use href="#logo" transform="translate(83.7 373)"/>
<use href="#logo" transform="translate(370 185.6) scale(0.538)"/>
<use href="#logo" transform="translate(363.3 373.8) scale(0.563)"/>
<g font-weight="bold" fill="#262626">
<text x="370.2" y="209.4" font-size="7.7" textLength="113.5" lengthAdjust="spacingAndGlyphs">Minimum Air Temperature (°F)</text>
<text x="363.5" y="397.9" font-size="8.1" textLength="120.5" lengthAdjust="spacingAndGlyphs">Maximum Air Temperature (°F)</text>
<text x="626.6" y="207" font-size="6.3" textLength="46.4" lengthAdjust="spacingAndGlyphs" fill="#111">February 15, 2021</text>
<text x="631.7" y="395.9" font-size="6.6" textLength="48.9" lengthAdjust="spacingAndGlyphs" fill="#111">February 15, 2021</text>
</g>
<g fill="#a8a8a8">
<text x="573" y="211.6" font-size="3.7" textLength="100" lengthAdjust="spacingAndGlyphs">Created 8:30:14 AM February 15, 2021 CST. © Copyright 2021</text>
<text x="576" y="400.6" font-size="3.9" textLength="104.6" lengthAdjust="spacingAndGlyphs">Created 6:30:14 AM February 16, 2021 CST. © Copyright 2021</text>
</g>
</svg>

</div>
</body></html>
